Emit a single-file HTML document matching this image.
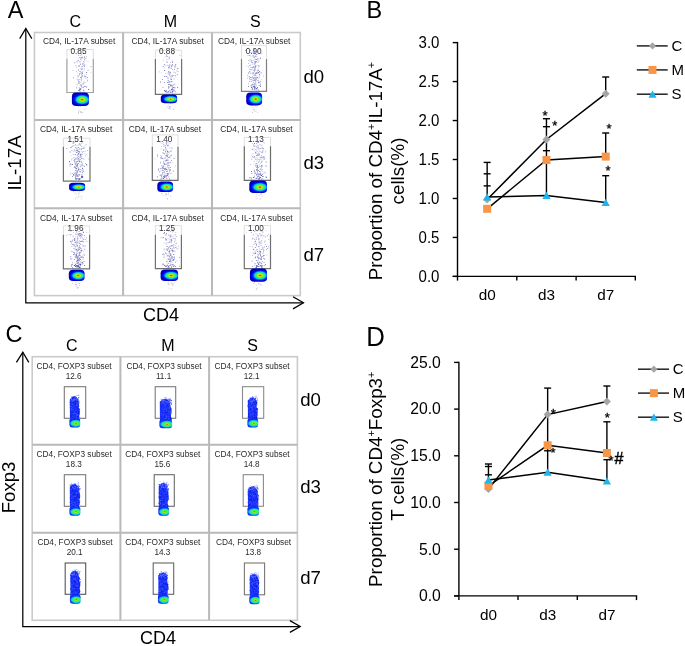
<!DOCTYPE html>
<html><head><meta charset="utf-8"><style>
html,body{margin:0;padding:0;background:#fff;width:685px;height:646px;overflow:hidden;}
svg{display:block;font-family:"Liberation Sans", sans-serif;will-change:transform;}
</style></head><body>
<svg width="685" height="646" viewBox="0 0 685 646"><defs>
<radialGradient id="blobA" cx="0.6" cy="0.52" r="0.56" gradientTransform="translate(0.6 0.52) scale(1 0.82) translate(-0.6 -0.52)">
<stop offset="0" stop-color="#d83000"/>
<stop offset="0.08" stop-color="#e85800"/>
<stop offset="0.17" stop-color="#d8d800"/>
<stop offset="0.3" stop-color="#90f030"/>
<stop offset="0.43" stop-color="#30f060"/>
<stop offset="0.55" stop-color="#10e0c8"/>
<stop offset="0.64" stop-color="#00a0ff"/>
<stop offset="0.73" stop-color="#0040ff"/>
<stop offset="0.83" stop-color="#0010f0"/>
<stop offset="1" stop-color="#0000c0"/>
</radialGradient>
<radialGradient id="blobC" cx="0.6" cy="0.55" r="0.6" gradientTransform="translate(0.6 0.55) scale(1 0.72) translate(-0.6 -0.55)">
<stop offset="0" stop-color="#c84810"/>
<stop offset="0.1" stop-color="#d88a10"/>
<stop offset="0.2" stop-color="#a8e020"/>
<stop offset="0.36" stop-color="#48f040"/>
<stop offset="0.55" stop-color="#30f070"/>
<stop offset="0.7" stop-color="#10d8d0"/>
<stop offset="0.82" stop-color="#1090ff"/>
<stop offset="1" stop-color="#1030f0"/>
</radialGradient>
<filter id="soft" x="-5%" y="-5%" width="110%" height="110%"><feGaussianBlur stdDeviation="0.35"/></filter>
</defs>
<text x="7.7" y="18" font-size="23.5" text-anchor="start" fill="#000" >A</text>
<text x="366.6" y="17.9" font-size="23.5" text-anchor="start" fill="#000" >B</text>
<text x="5.4" y="341.7" font-size="23.5" text-anchor="start" fill="#000" >C</text>
<text transform="translate(366.2,345.9) scale(1,1.065)" font-size="25.8">D</text>
<g font-family='"Liberation Sans", sans-serif'>
<rect x="34.4" y="32.5" width="265.9" height="263.1" fill="none" stroke="#cacaca" stroke-width="1.6"/>
<line x1="123.1" y1="32.5" x2="123.1" y2="295.6" stroke="#b9b9b9" stroke-width="2" />
<line x1="212" y1="32.5" x2="212" y2="295.6" stroke="#b9b9b9" stroke-width="2" />
<line x1="34.4" y1="120" x2="300.3" y2="120" stroke="#b9b9b9" stroke-width="2" />
<line x1="34.4" y1="208.3" x2="300.3" y2="208.3" stroke="#b9b9b9" stroke-width="2" />
<text x="42.9" y="44.4" font-size="8.35" text-anchor="start" fill="#2a2a2a" >CD4, IL-17A subset</text>
<path d="M66.9,58.7 V49.5 H93.3 V58.7" fill="none" stroke="#dedede" stroke-width="1"/>
<text x="78.5" y="54" font-size="8.2" text-anchor="middle" fill="#2a2a2a" >0.85</text>
<path d="M66.9,58.7 V92.5 H93.3 V58.7" fill="none" stroke="#a0a0a0" stroke-width="1.2"/>
<path d="M88.3 89.1h.8v.8h-.8zM79.0 89.2h.8v.8h-.8zM80.1 89.0h.8v.8h-.8z" fill="#2c2c94"/>
<path d="M83.8 68.4h.8v.8h-.8zM84.8 76.1h.8v.8h-.8zM80.6 57.5h.8v.8h-.8zM81.6 72.1h.8v.8h-.8zM73.2 77.5h.8v.8h-.8zM85.9 86.6h.8v.8h-.8zM77.8 79.6h.8v.8h-.8zM82.1 73.2h.8v.8h-.8zM78.5 82.5h.8v.8h-.8zM86.9 79.8h.8v.8h-.8zM78.3 54.8h.8v.8h-.8zM87.6 69.7h.8v.8h-.8zM81.8 57.1h.8v.8h-.8zM82.5 63.9h.8v.8h-.8zM84.0 53.0h.8v.8h-.8zM81.3 78.7h.8v.8h-.8zM78.6 65.6h.8v.8h-.8zM79.2 73.6h.8v.8h-.8zM81.3 75.8h.8v.8h-.8zM78.1 69.6h.8v.8h-.8zM83.0 89.7h.8v.8h-.8zM79.5 88.2h.8v.8h-.8zM78.3 90.1h.8v.8h-.8zM82.7 82.4h.8v.8h-.8zM79.2 90.4h.8v.8h-.8zM77.6 60.5h.8v.8h-.8zM78.5 90.1h.8v.8h-.8zM81.3 85.6h.8v.8h-.8zM84.4 75.6h.8v.8h-.8zM80.5 88.3h.8v.8h-.8zM86.9 76.9h.8v.8h-.8zM79.5 61.5h.8v.8h-.8zM76.2 87.4h.8v.8h-.8zM79.8 90.7h.8v.8h-.8zM81.8 66.3h.8v.8h-.8zM86.3 72.1h.8v.8h-.8zM80.2 77.3h.8v.8h-.8zM84.2 59.5h.8v.8h-.8zM83.4 83.5h.8v.8h-.8zM82.1 74.8h.8v.8h-.8zM83.9 65.6h.8v.8h-.8zM80.0 71.4h.8v.8h-.8zM83.6 90.5h.8v.8h-.8z" fill="#5656b0"/>
<path d="M79.6 56.9h.8v.8h-.8zM83.0 62.7h.8v.8h-.8zM84.4 57.0h.8v.8h-.8zM78.1 80.9h.8v.8h-.8zM79.9 84.6h.8v.8h-.8zM80.8 83.7h.8v.8h-.8zM78.8 87.2h.8v.8h-.8zM85.6 77.6h.8v.8h-.8zM84.1 86.1h.8v.8h-.8zM84.7 58.1h.8v.8h-.8zM76.0 66.7h.8v.8h-.8zM74.2 62.5h.8v.8h-.8zM75.6 64.9h.8v.8h-.8zM81.2 53.5h.8v.8h-.8zM77.2 75.4h.8v.8h-.8zM87.4 80.8h.8v.8h-.8zM82.9 87.1h.8v.8h-.8zM79.3 71.0h.8v.8h-.8zM80.9 69.1h.8v.8h-.8zM81.3 86.8h.8v.8h-.8zM82.3 76.0h.8v.8h-.8zM80.6 85.4h.8v.8h-.8zM80.0 64.3h.8v.8h-.8zM84.9 86.1h.8v.8h-.8zM81.1 80.0h.8v.8h-.8zM78.7 83.2h.8v.8h-.8zM83.5 65.2h.8v.8h-.8zM81.6 69.5h.8v.8h-.8zM78.6 74.9h.8v.8h-.8zM74.5 62.3h.8v.8h-.8zM81.7 68.5h.8v.8h-.8zM81.0 76.7h.8v.8h-.8zM78.9 65.5h.8v.8h-.8zM76.6 83.9h.8v.8h-.8zM76.6 78.7h.8v.8h-.8zM80.6 73.1h.8v.8h-.8zM78.0 60.0h.8v.8h-.8zM84.4 64.3h.8v.8h-.8zM76.4 61.8h.8v.8h-.8zM82.6 63.3h.8v.8h-.8zM84.8 82.3h.8v.8h-.8zM81.3 54.5h.8v.8h-.8zM79.3 81.2h.8v.8h-.8zM83.6 57.4h.8v.8h-.8zM83.9 66.2h.8v.8h-.8zM81.8 56.5h.8v.8h-.8zM78.7 82.6h.8v.8h-.8zM82.5 71.0h.8v.8h-.8zM80.4 81.8h.8v.8h-.8zM81.8 87.0h.8v.8h-.8zM80.9 66.8h.8v.8h-.8zM84.0 61.7h.8v.8h-.8zM90.6 66.1h.8v.8h-.8zM80.6 67.9h.8v.8h-.8zM80.8 73.9h.8v.8h-.8zM80.3 63.5h.8v.8h-.8zM80.7 58.5h.8v.8h-.8zM84.2 56.0h.8v.8h-.8zM81.1 77.8h.8v.8h-.8zM75.9 70.9h.8v.8h-.8z" fill="#9494cc"/>
<path d="M79.2 79.2h.8v.8h-.8zM83.2 61.1h.8v.8h-.8zM78.2 75.7h.8v.8h-.8zM90.5 71.9h.8v.8h-.8zM79.6 61.4h.8v.8h-.8zM79.1 57.0h.8v.8h-.8zM80.4 70.7h.8v.8h-.8zM81.3 56.9h.8v.8h-.8zM80.8 60.4h.8v.8h-.8zM85.5 76.5h.8v.8h-.8zM72.4 70.1h.8v.8h-.8zM80.1 59.1h.8v.8h-.8zM83.2 86.3h.8v.8h-.8zM81.1 85.7h.8v.8h-.8zM84.9 76.3h.8v.8h-.8zM79.2 66.0h.8v.8h-.8zM81.8 68.6h.8v.8h-.8zM86.4 86.4h.8v.8h-.8zM80.1 55.2h.8v.8h-.8zM82.2 63.3h.8v.8h-.8zM81.0 68.7h.8v.8h-.8zM85.7 60.3h.8v.8h-.8zM87.7 61.2h.8v.8h-.8zM77.2 72.5h.8v.8h-.8zM78.9 65.9h.8v.8h-.8zM83.6 77.7h.8v.8h-.8zM81.2 53.5h.8v.8h-.8zM85.8 74.1h.8v.8h-.8zM80.8 57.7h.8v.8h-.8zM81.9 84.3h.8v.8h-.8zM79.5 79.1h.8v.8h-.8zM80.6 84.4h.8v.8h-.8zM80.6 59.3h.8v.8h-.8zM76.9 61.3h.8v.8h-.8zM86.0 57.7h.8v.8h-.8zM78.5 58.2h.8v.8h-.8zM77.8 76.7h.8v.8h-.8zM77.3 85.4h.8v.8h-.8zM83.7 81.2h.8v.8h-.8zM81.8 57.6h.8v.8h-.8zM81.5 65.8h.8v.8h-.8zM78.3 65.3h.8v.8h-.8zM77.9 83.2h.8v.8h-.8zM86.0 56.1h.8v.8h-.8zM78.2 112.8h.8v.8h-.8zM78.1 112.1h.8v.8h-.8zM78.1 106.1h.8v.8h-.8zM80.3 112.3h.8v.8h-.8zM82.0 112.0h.8v.8h-.8zM78.1 112.8h.8v.8h-.8zM80.1 110.9h.8v.8h-.8zM79.2 105.1h.8v.8h-.8zM80.0 106.0h.8v.8h-.8zM81.5 112.3h.8v.8h-.8zM78.6 109.8h.8v.8h-.8zM78.5 110.9h.8v.8h-.8zM84.6 109.2h.8v.8h-.8zM80.8 111.5h.8v.8h-.8z" fill="#b8b8d8"/>
<rect x="71.9" y="92.6" width="17" height="13.5" rx="4.2" ry="3.8" fill="url(#blobA)" filter="url(#soft)"/>
<text x="131.4" y="44.4" font-size="8.35" text-anchor="start" fill="#2a2a2a" >CD4, IL-17A subset</text>
<path d="M155.4,58.9 V50.2 H181.6 V58.9" fill="none" stroke="#dedede" stroke-width="1"/>
<text x="167" y="54" font-size="8.2" text-anchor="middle" fill="#2a2a2a" >0.88</text>
<path d="M155.4,58.9 V94.3 H181.6 V58.9" fill="none" stroke="#707070" stroke-width="1.2"/>
<path d="M168.4 91.3h.8v.8h-.8zM174.1 89.7h.8v.8h-.8zM170.2 91.8h.8v.8h-.8zM166.7 91.9h.8v.8h-.8zM168.5 91.6h.8v.8h-.8zM165.9 90.6h.8v.8h-.8zM174.8 91.4h.8v.8h-.8zM169.5 90.3h.8v.8h-.8zM164.3 90.2h.8v.8h-.8zM172.1 91.4h.8v.8h-.8z" fill="#2c2c94"/>
<path d="M164.2 76.3h.8v.8h-.8zM168.2 84.3h.8v.8h-.8zM170.9 81.2h.8v.8h-.8zM170.1 84.5h.8v.8h-.8zM170.5 78.6h.8v.8h-.8zM173.4 74.9h.8v.8h-.8zM171.9 89.4h.8v.8h-.8zM172.7 87.1h.8v.8h-.8zM169.3 74.4h.8v.8h-.8zM168.8 66.6h.8v.8h-.8zM170.9 89.1h.8v.8h-.8zM165.3 90.9h.8v.8h-.8zM177.4 68.1h.8v.8h-.8zM171.7 75.2h.8v.8h-.8zM160.1 81.6h.8v.8h-.8zM167.6 78.2h.8v.8h-.8zM176.9 74.3h.8v.8h-.8zM172.2 64.2h.8v.8h-.8zM164.5 76.3h.8v.8h-.8zM171.8 88.8h.8v.8h-.8zM162.2 79.2h.8v.8h-.8zM172.3 91.0h.8v.8h-.8zM168.7 80.9h.8v.8h-.8zM170.1 72.0h.8v.8h-.8zM165.4 91.5h.8v.8h-.8zM174.9 65.6h.8v.8h-.8zM164.3 70.1h.8v.8h-.8zM171.8 76.3h.8v.8h-.8zM177.3 87.1h.8v.8h-.8zM166.3 76.0h.8v.8h-.8zM171.4 65.0h.8v.8h-.8zM173.0 89.6h.8v.8h-.8zM175.2 63.9h.8v.8h-.8zM167.1 81.9h.8v.8h-.8zM168.2 71.5h.8v.8h-.8zM163.8 64.2h.8v.8h-.8zM170.1 85.3h.8v.8h-.8zM171.6 84.7h.8v.8h-.8zM167.6 91.5h.8v.8h-.8zM171.5 90.5h.8v.8h-.8zM167.9 79.9h.8v.8h-.8zM171.7 85.8h.8v.8h-.8zM169.3 64.4h.8v.8h-.8zM168.3 67.2h.8v.8h-.8zM164.3 81.9h.8v.8h-.8zM168.1 87.7h.8v.8h-.8zM173.3 84.4h.8v.8h-.8zM171.2 78.9h.8v.8h-.8zM172.0 92.5h.8v.8h-.8zM168.7 56.7h.8v.8h-.8zM170.7 92.0h.8v.8h-.8zM165.0 90.6h.8v.8h-.8zM172.5 91.1h.8v.8h-.8zM171.7 81.5h.8v.8h-.8zM166.3 54.8h.8v.8h-.8zM168.1 86.3h.8v.8h-.8zM172.2 88.5h.8v.8h-.8zM169.2 84.0h.8v.8h-.8zM175.3 75.5h.8v.8h-.8zM164.2 90.5h.8v.8h-.8zM173.7 87.2h.8v.8h-.8zM172.4 87.4h.8v.8h-.8z" fill="#5656b0"/>
<path d="M168.6 58.6h.8v.8h-.8zM166.3 75.9h.8v.8h-.8zM171.7 85.3h.8v.8h-.8zM169.3 82.1h.8v.8h-.8zM168.2 82.3h.8v.8h-.8zM179.6 55.2h.8v.8h-.8zM167.4 64.9h.8v.8h-.8zM162.6 87.1h.8v.8h-.8zM169.5 75.7h.8v.8h-.8zM174.5 87.7h.8v.8h-.8zM158.8 71.4h.8v.8h-.8zM177.6 71.0h.8v.8h-.8zM174.3 83.7h.8v.8h-.8zM170.9 84.9h.8v.8h-.8zM168.5 68.5h.8v.8h-.8zM171.1 66.1h.8v.8h-.8zM173.6 78.6h.8v.8h-.8zM165.3 73.0h.8v.8h-.8zM168.6 71.6h.8v.8h-.8zM163.8 67.5h.8v.8h-.8zM167.0 56.2h.8v.8h-.8zM169.6 81.3h.8v.8h-.8zM174.1 65.9h.8v.8h-.8zM166.5 61.2h.8v.8h-.8zM167.6 77.0h.8v.8h-.8zM174.3 68.7h.8v.8h-.8zM163.0 66.0h.8v.8h-.8zM166.4 76.1h.8v.8h-.8zM171.6 86.3h.8v.8h-.8zM172.2 62.1h.8v.8h-.8zM168.9 57.8h.8v.8h-.8zM171.2 67.8h.8v.8h-.8zM168.3 87.1h.8v.8h-.8zM168.6 67.1h.8v.8h-.8zM162.4 65.9h.8v.8h-.8zM168.2 73.6h.8v.8h-.8zM174.5 87.1h.8v.8h-.8zM166.1 56.3h.8v.8h-.8zM162.9 59.7h.8v.8h-.8zM169.3 65.9h.8v.8h-.8zM173.6 72.3h.8v.8h-.8zM169.1 86.7h.8v.8h-.8zM172.4 65.2h.8v.8h-.8zM170.1 61.9h.8v.8h-.8zM174.2 69.1h.8v.8h-.8zM168.9 72.3h.8v.8h-.8zM170.9 81.0h.8v.8h-.8zM170.4 72.9h.8v.8h-.8zM172.3 68.9h.8v.8h-.8zM168.3 70.9h.8v.8h-.8zM169.6 74.7h.8v.8h-.8zM166.5 59.3h.8v.8h-.8zM166.6 62.1h.8v.8h-.8zM170.7 76.9h.8v.8h-.8zM165.5 65.3h.8v.8h-.8zM172.1 61.0h.8v.8h-.8z" fill="#9494cc"/>
<path d="M174.5 84.4h.8v.8h-.8zM168.4 64.9h.8v.8h-.8zM168.8 65.8h.8v.8h-.8zM167.3 61.8h.8v.8h-.8zM172.3 53.9h.8v.8h-.8zM170.9 67.6h.8v.8h-.8zM169.8 68.0h.8v.8h-.8zM173.6 71.5h.8v.8h-.8zM170.7 64.8h.8v.8h-.8zM170.7 76.1h.8v.8h-.8zM160.8 72.5h.8v.8h-.8zM175.3 72.2h.8v.8h-.8zM172.0 60.3h.8v.8h-.8zM164.7 56.7h.8v.8h-.8zM169.0 73.2h.8v.8h-.8zM169.5 65.4h.8v.8h-.8zM164.3 65.5h.8v.8h-.8zM175.9 70.8h.8v.8h-.8zM169.7 71.5h.8v.8h-.8zM175.0 72.9h.8v.8h-.8zM165.7 54.2h.8v.8h-.8zM176.9 69.6h.8v.8h-.8zM166.7 80.4h.8v.8h-.8zM169.3 66.5h.8v.8h-.8zM171.4 87.7h.8v.8h-.8zM174.7 67.0h.8v.8h-.8zM172.8 54.3h.8v.8h-.8zM167.0 72.7h.8v.8h-.8zM169.7 81.1h.8v.8h-.8zM168.6 86.6h.8v.8h-.8zM175.7 64.4h.8v.8h-.8zM169.8 85.9h.8v.8h-.8zM169.8 108.5h.8v.8h-.8zM168.9 107.1h.8v.8h-.8zM173.3 108.8h.8v.8h-.8zM170.2 103.1h.8v.8h-.8zM166.3 107.4h.8v.8h-.8zM168.3 104.8h.8v.8h-.8zM167.2 105.8h.8v.8h-.8zM168.1 107.9h.8v.8h-.8zM168.8 106.0h.8v.8h-.8zM169.4 107.6h.8v.8h-.8zM169.6 106.4h.8v.8h-.8zM173.0 109.0h.8v.8h-.8zM170.3 106.1h.8v.8h-.8zM171.5 103.0h.8v.8h-.8z" fill="#b8b8d8"/>
<rect x="160.8" y="94.5" width="16.3" height="8.8" rx="4.2" ry="2.93" fill="url(#blobA)" filter="url(#soft)"/>
<text x="218" y="44.4" font-size="8.35" text-anchor="start" fill="#2a2a2a" >CD4, IL-17A subset</text>
<path d="M241.5,58.9 V45.3 H266.5 V58.9" fill="none" stroke="#dedede" stroke-width="1"/>
<text x="253.6" y="54" font-size="8.2" text-anchor="middle" fill="#2a2a2a" >0.90</text>
<path d="M241.5,58.9 V91.4 H266.5 V58.9" fill="none" stroke="#808080" stroke-width="1.2"/>
<path d="M248.2 85.9h.8v.8h-.8zM260.0 86.3h.8v.8h-.8zM253.7 86.1h.8v.8h-.8zM252.0 88.6h.8v.8h-.8zM254.0 86.5h.8v.8h-.8zM253.5 86.1h.8v.8h-.8z" fill="#2c2c94"/>
<path d="M255.1 72.8h.8v.8h-.8zM257.3 72.8h.8v.8h-.8zM248.3 72.6h.8v.8h-.8zM257.2 87.1h.8v.8h-.8zM258.2 81.7h.8v.8h-.8zM260.1 83.7h.8v.8h-.8zM256.6 72.5h.8v.8h-.8zM253.3 72.6h.8v.8h-.8zM252.8 77.4h.8v.8h-.8zM249.7 77.2h.8v.8h-.8zM257.8 89.6h.8v.8h-.8zM254.8 67.0h.8v.8h-.8zM250.9 81.2h.8v.8h-.8zM255.4 65.0h.8v.8h-.8zM255.9 72.9h.8v.8h-.8zM253.4 78.0h.8v.8h-.8zM255.0 74.7h.8v.8h-.8zM245.0 50.0h.8v.8h-.8zM250.4 72.7h.8v.8h-.8zM255.8 61.3h.8v.8h-.8zM259.8 81.3h.8v.8h-.8zM253.4 85.9h.8v.8h-.8zM253.7 70.0h.8v.8h-.8zM256.4 54.1h.8v.8h-.8zM255.0 66.3h.8v.8h-.8zM253.7 87.1h.8v.8h-.8zM255.0 55.7h.8v.8h-.8zM256.6 77.4h.8v.8h-.8zM249.4 55.3h.8v.8h-.8zM251.6 88.7h.8v.8h-.8zM250.7 85.3h.8v.8h-.8zM254.5 83.9h.8v.8h-.8zM255.5 79.6h.8v.8h-.8zM251.4 86.6h.8v.8h-.8zM260.3 58.0h.8v.8h-.8zM252.3 62.3h.8v.8h-.8zM258.4 65.7h.8v.8h-.8zM254.3 89.1h.8v.8h-.8zM255.8 89.4h.8v.8h-.8zM255.5 55.7h.8v.8h-.8zM257.3 77.2h.8v.8h-.8zM254.0 87.9h.8v.8h-.8zM252.6 66.8h.8v.8h-.8zM256.6 87.9h.8v.8h-.8zM249.4 71.2h.8v.8h-.8zM259.1 74.2h.8v.8h-.8zM258.7 84.9h.8v.8h-.8zM254.4 67.6h.8v.8h-.8zM254.8 86.8h.8v.8h-.8zM252.6 77.3h.8v.8h-.8zM252.7 55.4h.8v.8h-.8zM255.0 61.6h.8v.8h-.8zM251.6 86.7h.8v.8h-.8zM257.8 70.1h.8v.8h-.8zM251.2 61.7h.8v.8h-.8zM258.1 72.1h.8v.8h-.8zM260.8 72.5h.8v.8h-.8zM254.1 49.5h.8v.8h-.8zM251.0 87.3h.8v.8h-.8zM251.6 86.9h.8v.8h-.8zM250.8 79.0h.8v.8h-.8zM249.0 78.5h.8v.8h-.8zM256.2 59.3h.8v.8h-.8zM258.5 82.3h.8v.8h-.8zM253.9 51.9h.8v.8h-.8zM250.6 69.0h.8v.8h-.8zM254.9 77.7h.8v.8h-.8zM254.1 56.8h.8v.8h-.8zM254.7 80.4h.8v.8h-.8zM257.7 80.2h.8v.8h-.8zM253.4 80.3h.8v.8h-.8zM250.0 50.2h.8v.8h-.8zM257.4 58.6h.8v.8h-.8zM255.9 88.1h.8v.8h-.8zM248.7 76.2h.8v.8h-.8zM254.4 83.4h.8v.8h-.8zM254.9 87.6h.8v.8h-.8zM259.3 71.1h.8v.8h-.8z" fill="#5656b0"/>
<path d="M252.9 56.8h.8v.8h-.8zM259.2 77.4h.8v.8h-.8zM260.6 53.4h.8v.8h-.8zM254.9 58.7h.8v.8h-.8zM259.3 75.6h.8v.8h-.8zM254.5 76.7h.8v.8h-.8zM253.2 49.2h.8v.8h-.8zM255.9 61.2h.8v.8h-.8zM255.8 75.7h.8v.8h-.8zM255.5 62.1h.8v.8h-.8zM255.6 85.6h.8v.8h-.8zM254.4 68.6h.8v.8h-.8zM247.0 77.8h.8v.8h-.8zM250.3 52.2h.8v.8h-.8zM251.6 60.1h.8v.8h-.8zM249.1 64.9h.8v.8h-.8zM249.2 81.3h.8v.8h-.8zM254.0 80.1h.8v.8h-.8zM258.5 82.8h.8v.8h-.8zM248.3 63.0h.8v.8h-.8zM256.6 77.2h.8v.8h-.8zM249.5 60.7h.8v.8h-.8zM255.1 79.4h.8v.8h-.8zM254.3 79.6h.8v.8h-.8zM255.2 81.7h.8v.8h-.8zM257.9 50.7h.8v.8h-.8zM253.7 63.8h.8v.8h-.8zM253.9 84.9h.8v.8h-.8zM253.8 70.0h.8v.8h-.8zM253.2 66.4h.8v.8h-.8zM254.7 59.4h.8v.8h-.8zM251.9 63.8h.8v.8h-.8zM252.9 79.7h.8v.8h-.8zM249.5 68.6h.8v.8h-.8zM258.6 60.4h.8v.8h-.8zM254.4 61.6h.8v.8h-.8zM254.6 73.6h.8v.8h-.8zM248.3 66.5h.8v.8h-.8zM249.6 58.7h.8v.8h-.8zM253.0 82.3h.8v.8h-.8zM252.6 55.4h.8v.8h-.8zM248.4 60.0h.8v.8h-.8zM249.8 79.5h.8v.8h-.8zM254.4 57.4h.8v.8h-.8zM254.0 68.7h.8v.8h-.8zM247.0 75.2h.8v.8h-.8zM259.6 82.3h.8v.8h-.8zM252.5 85.0h.8v.8h-.8zM249.6 65.0h.8v.8h-.8zM249.6 69.5h.8v.8h-.8zM250.6 59.4h.8v.8h-.8zM252.5 72.9h.8v.8h-.8zM254.0 63.4h.8v.8h-.8zM254.8 69.4h.8v.8h-.8zM255.7 61.0h.8v.8h-.8zM252.1 83.5h.8v.8h-.8zM254.6 63.7h.8v.8h-.8zM257.5 69.7h.8v.8h-.8zM260.3 50.0h.8v.8h-.8zM255.6 82.8h.8v.8h-.8zM252.5 73.6h.8v.8h-.8zM255.9 72.1h.8v.8h-.8zM254.1 71.2h.8v.8h-.8zM256.2 78.5h.8v.8h-.8zM253.9 77.5h.8v.8h-.8zM258.9 65.7h.8v.8h-.8zM252.1 67.2h.8v.8h-.8zM254.8 73.4h.8v.8h-.8zM252.0 69.4h.8v.8h-.8zM252.9 84.1h.8v.8h-.8zM259.5 72.6h.8v.8h-.8zM253.6 65.8h.8v.8h-.8zM250.8 76.7h.8v.8h-.8zM252.1 84.0h.8v.8h-.8zM254.3 74.7h.8v.8h-.8zM257.6 65.3h.8v.8h-.8zM255.5 77.6h.8v.8h-.8zM248.1 83.5h.8v.8h-.8zM250.2 50.2h.8v.8h-.8zM263.3 75.8h.8v.8h-.8zM250.2 77.2h.8v.8h-.8zM251.2 67.3h.8v.8h-.8zM253.6 70.1h.8v.8h-.8zM252.6 67.1h.8v.8h-.8zM251.6 77.2h.8v.8h-.8zM257.1 69.7h.8v.8h-.8zM254.7 69.4h.8v.8h-.8zM254.5 62.6h.8v.8h-.8z" fill="#9494cc"/>
<path d="M259.8 85.1h.8v.8h-.8zM255.3 80.8h.8v.8h-.8zM252.3 72.1h.8v.8h-.8zM255.5 51.7h.8v.8h-.8zM256.2 79.0h.8v.8h-.8zM250.6 85.7h.8v.8h-.8zM252.7 55.6h.8v.8h-.8zM254.3 83.9h.8v.8h-.8zM259.8 57.1h.8v.8h-.8zM257.5 62.3h.8v.8h-.8zM253.6 53.0h.8v.8h-.8zM259.9 52.5h.8v.8h-.8zM249.8 49.5h.8v.8h-.8zM257.8 61.6h.8v.8h-.8zM255.2 79.5h.8v.8h-.8zM255.0 62.8h.8v.8h-.8zM258.2 78.5h.8v.8h-.8zM254.0 79.6h.8v.8h-.8zM253.3 55.7h.8v.8h-.8zM253.1 67.1h.8v.8h-.8zM255.4 83.9h.8v.8h-.8zM255.9 84.8h.8v.8h-.8zM254.6 81.9h.8v.8h-.8zM249.6 49.3h.8v.8h-.8zM255.9 66.4h.8v.8h-.8zM254.5 54.3h.8v.8h-.8zM257.6 58.1h.8v.8h-.8zM252.5 59.8h.8v.8h-.8zM257.9 68.5h.8v.8h-.8zM255.2 69.4h.8v.8h-.8zM248.3 55.2h.8v.8h-.8zM255.7 78.8h.8v.8h-.8zM249.4 72.0h.8v.8h-.8zM252.1 51.8h.8v.8h-.8zM250.0 55.4h.8v.8h-.8zM251.2 84.2h.8v.8h-.8zM253.9 60.6h.8v.8h-.8zM254.6 68.2h.8v.8h-.8zM254.2 66.6h.8v.8h-.8zM250.7 56.8h.8v.8h-.8zM251.2 61.3h.8v.8h-.8zM250.1 66.7h.8v.8h-.8zM258.9 49.2h.8v.8h-.8zM249.5 78.3h.8v.8h-.8zM261.6 53.0h.8v.8h-.8zM258.6 58.7h.8v.8h-.8zM251.6 78.6h.8v.8h-.8zM254.7 73.9h.8v.8h-.8zM253.8 79.1h.8v.8h-.8zM252.3 80.3h.8v.8h-.8zM249.9 64.5h.8v.8h-.8zM251.4 51.9h.8v.8h-.8zM256.8 49.4h.8v.8h-.8zM256.1 56.4h.8v.8h-.8zM261.1 52.5h.8v.8h-.8zM256.9 70.9h.8v.8h-.8zM248.9 64.9h.8v.8h-.8zM254.1 74.9h.8v.8h-.8zM255.6 79.8h.8v.8h-.8zM246.4 65.8h.8v.8h-.8zM252.3 76.2h.8v.8h-.8zM255.2 83.7h.8v.8h-.8zM253.8 83.6h.8v.8h-.8zM253.4 75.1h.8v.8h-.8zM260.8 79.2h.8v.8h-.8zM258.5 66.4h.8v.8h-.8zM257.0 60.2h.8v.8h-.8zM247.3 54.7h.8v.8h-.8zM254.8 111.0h.8v.8h-.8zM257.3 112.2h.8v.8h-.8zM252.0 112.1h.8v.8h-.8zM254.1 109.4h.8v.8h-.8zM254.9 105.8h.8v.8h-.8zM255.7 110.4h.8v.8h-.8zM252.4 107.4h.8v.8h-.8zM253.6 108.8h.8v.8h-.8zM261.7 105.4h.8v.8h-.8zM256.5 107.5h.8v.8h-.8zM251.8 105.1h.8v.8h-.8zM251.6 105.5h.8v.8h-.8zM253.0 109.5h.8v.8h-.8zM256.7 104.3h.8v.8h-.8z" fill="#b8b8d8"/>
<rect x="246.2" y="92.4" width="15.9" height="13" rx="4.2" ry="3.8" fill="url(#blobA)" filter="url(#soft)"/>
<text x="39.9" y="132.3" font-size="8.35" text-anchor="start" fill="#2a2a2a" >CD4, IL-17A subset</text>
<path d="M63.4,146.8 V138.2 H90 V146.8" fill="none" stroke="#dedede" stroke-width="1"/>
<text x="75.5" y="142.3" font-size="8.2" text-anchor="middle" fill="#2a2a2a" >1.51</text>
<path d="M63.4,146.8 V181.1 H90 V146.8" fill="none" stroke="#707070" stroke-width="1.2"/>
<path d="M74.9 176.8h.8v.8h-.8zM79.5 178.6h.8v.8h-.8zM82.3 176.6h.8v.8h-.8zM82.1 176.4h.8v.8h-.8zM79.1 179.0h.8v.8h-.8zM81.8 176.1h.8v.8h-.8zM81.7 177.0h.8v.8h-.8zM76.4 178.7h.8v.8h-.8z" fill="#2c2c94"/>
<path d="M77.0 165.8h.8v.8h-.8zM79.9 154.4h.8v.8h-.8zM78.0 146.9h.8v.8h-.8zM82.2 168.2h.8v.8h-.8zM76.0 161.6h.8v.8h-.8zM78.5 168.4h.8v.8h-.8zM80.5 154.5h.8v.8h-.8zM80.5 153.7h.8v.8h-.8zM82.7 169.5h.8v.8h-.8zM74.4 161.8h.8v.8h-.8zM73.0 174.1h.8v.8h-.8zM78.2 153.1h.8v.8h-.8zM78.3 169.2h.8v.8h-.8zM76.5 173.6h.8v.8h-.8zM80.4 165.9h.8v.8h-.8zM78.2 151.3h.8v.8h-.8zM71.1 146.7h.8v.8h-.8zM74.7 167.2h.8v.8h-.8zM75.5 173.8h.8v.8h-.8zM83.0 170.9h.8v.8h-.8zM78.1 175.7h.8v.8h-.8zM79.2 151.6h.8v.8h-.8zM86.4 164.8h.8v.8h-.8zM78.7 151.4h.8v.8h-.8zM77.8 154.2h.8v.8h-.8zM76.7 170.2h.8v.8h-.8zM74.9 170.3h.8v.8h-.8zM77.2 175.6h.8v.8h-.8zM80.2 155.4h.8v.8h-.8zM71.5 149.9h.8v.8h-.8zM76.1 172.7h.8v.8h-.8zM79.5 178.3h.8v.8h-.8zM76.4 168.0h.8v.8h-.8zM79.3 143.4h.8v.8h-.8zM78.6 178.7h.8v.8h-.8zM78.4 169.5h.8v.8h-.8zM81.7 164.9h.8v.8h-.8zM76.8 178.1h.8v.8h-.8zM75.0 178.3h.8v.8h-.8zM77.2 164.6h.8v.8h-.8zM77.1 150.4h.8v.8h-.8zM76.4 175.6h.8v.8h-.8zM79.9 170.9h.8v.8h-.8zM75.3 163.5h.8v.8h-.8zM83.9 166.3h.8v.8h-.8zM78.3 178.3h.8v.8h-.8zM81.6 142.7h.8v.8h-.8zM72.1 164.1h.8v.8h-.8zM75.9 178.5h.8v.8h-.8zM68.9 161.4h.8v.8h-.8zM86.2 163.9h.8v.8h-.8zM75.3 176.4h.8v.8h-.8zM72.0 176.2h.8v.8h-.8zM81.9 151.7h.8v.8h-.8zM75.5 168.1h.8v.8h-.8zM73.4 174.7h.8v.8h-.8zM81.1 148.7h.8v.8h-.8zM83.0 147.7h.8v.8h-.8zM72.4 145.8h.8v.8h-.8zM75.1 172.5h.8v.8h-.8zM74.7 161.7h.8v.8h-.8zM78.1 162.9h.8v.8h-.8zM74.8 158.4h.8v.8h-.8zM81.7 164.6h.8v.8h-.8zM76.8 151.8h.8v.8h-.8zM79.8 169.0h.8v.8h-.8zM76.1 174.5h.8v.8h-.8zM80.7 161.5h.8v.8h-.8zM76.8 163.6h.8v.8h-.8zM81.2 161.8h.8v.8h-.8zM81.0 176.5h.8v.8h-.8zM81.7 175.7h.8v.8h-.8zM76.1 165.8h.8v.8h-.8zM81.3 176.0h.8v.8h-.8zM78.2 169.0h.8v.8h-.8zM73.3 174.9h.8v.8h-.8zM79.8 144.6h.8v.8h-.8zM75.2 144.5h.8v.8h-.8zM81.3 158.0h.8v.8h-.8zM77.8 174.5h.8v.8h-.8zM81.7 171.8h.8v.8h-.8zM81.4 177.5h.8v.8h-.8zM69.2 160.9h.8v.8h-.8zM76.8 172.2h.8v.8h-.8zM75.2 178.7h.8v.8h-.8zM77.4 165.0h.8v.8h-.8zM69.7 164.0h.8v.8h-.8zM76.1 152.0h.8v.8h-.8zM78.1 158.5h.8v.8h-.8zM78.4 179.4h.8v.8h-.8zM79.1 161.1h.8v.8h-.8zM81.0 177.1h.8v.8h-.8zM81.9 167.8h.8v.8h-.8zM75.2 154.0h.8v.8h-.8zM78.7 158.8h.8v.8h-.8zM75.8 150.3h.8v.8h-.8zM81.6 169.8h.8v.8h-.8zM78.9 161.5h.8v.8h-.8zM77.1 161.3h.8v.8h-.8z" fill="#5656b0"/>
<path d="M85.6 144.2h.8v.8h-.8zM70.4 172.7h.8v.8h-.8zM78.6 154.5h.8v.8h-.8zM77.3 154.4h.8v.8h-.8zM73.9 173.0h.8v.8h-.8zM76.1 169.4h.8v.8h-.8zM82.5 148.0h.8v.8h-.8zM74.2 149.6h.8v.8h-.8zM84.4 147.6h.8v.8h-.8zM76.7 154.9h.8v.8h-.8zM76.4 150.3h.8v.8h-.8zM84.8 150.8h.8v.8h-.8zM81.6 154.5h.8v.8h-.8zM76.6 147.6h.8v.8h-.8zM78.9 174.4h.8v.8h-.8zM69.5 151.6h.8v.8h-.8zM77.5 167.3h.8v.8h-.8zM76.3 171.3h.8v.8h-.8zM85.1 163.2h.8v.8h-.8zM74.4 158.9h.8v.8h-.8zM72.9 142.2h.8v.8h-.8zM79.3 173.9h.8v.8h-.8zM84.4 145.8h.8v.8h-.8zM71.2 163.9h.8v.8h-.8zM73.0 143.2h.8v.8h-.8zM76.4 163.2h.8v.8h-.8zM71.3 159.5h.8v.8h-.8zM73.5 145.3h.8v.8h-.8zM80.8 164.5h.8v.8h-.8zM75.2 164.2h.8v.8h-.8zM80.7 148.7h.8v.8h-.8zM79.6 148.8h.8v.8h-.8zM79.7 155.7h.8v.8h-.8zM70.0 147.1h.8v.8h-.8zM75.5 165.9h.8v.8h-.8zM76.3 152.2h.8v.8h-.8zM73.7 167.3h.8v.8h-.8zM77.5 156.6h.8v.8h-.8zM80.0 159.3h.8v.8h-.8zM72.4 142.8h.8v.8h-.8zM82.9 165.4h.8v.8h-.8zM77.9 161.3h.8v.8h-.8zM87.2 150.2h.8v.8h-.8zM73.5 174.1h.8v.8h-.8zM77.2 171.4h.8v.8h-.8zM72.0 172.9h.8v.8h-.8zM82.1 172.3h.8v.8h-.8zM81.9 163.4h.8v.8h-.8zM74.7 167.1h.8v.8h-.8zM74.0 159.6h.8v.8h-.8zM78.3 149.8h.8v.8h-.8zM69.7 165.7h.8v.8h-.8zM76.8 158.4h.8v.8h-.8zM82.6 158.1h.8v.8h-.8zM75.5 147.7h.8v.8h-.8zM76.2 150.3h.8v.8h-.8zM73.9 142.1h.8v.8h-.8zM74.7 163.4h.8v.8h-.8zM74.0 166.0h.8v.8h-.8zM83.0 150.9h.8v.8h-.8zM81.8 147.7h.8v.8h-.8zM74.4 161.3h.8v.8h-.8zM72.7 153.9h.8v.8h-.8zM78.2 158.1h.8v.8h-.8zM76.9 150.3h.8v.8h-.8zM77.5 158.7h.8v.8h-.8zM74.7 163.9h.8v.8h-.8zM76.5 157.0h.8v.8h-.8zM75.9 158.5h.8v.8h-.8zM80.4 156.0h.8v.8h-.8zM74.4 160.4h.8v.8h-.8zM78.9 171.3h.8v.8h-.8zM78.0 156.3h.8v.8h-.8zM81.6 174.6h.8v.8h-.8zM77.3 170.7h.8v.8h-.8zM74.9 175.1h.8v.8h-.8zM85.1 155.4h.8v.8h-.8zM79.6 171.4h.8v.8h-.8zM78.3 170.3h.8v.8h-.8zM78.7 160.3h.8v.8h-.8zM81.9 153.7h.8v.8h-.8zM76.2 165.1h.8v.8h-.8zM74.8 150.8h.8v.8h-.8zM76.5 148.4h.8v.8h-.8zM81.1 145.7h.8v.8h-.8zM73.5 157.1h.8v.8h-.8zM75.1 146.9h.8v.8h-.8zM66.4 148.1h.8v.8h-.8zM78.6 143.8h.8v.8h-.8zM70.0 151.6h.8v.8h-.8zM79.1 174.8h.8v.8h-.8zM76.5 174.4h.8v.8h-.8zM80.2 157.2h.8v.8h-.8zM83.7 158.8h.8v.8h-.8zM75.2 165.8h.8v.8h-.8zM70.1 163.3h.8v.8h-.8z" fill="#9494cc"/>
<path d="M80.8 174.0h.8v.8h-.8zM80.0 165.4h.8v.8h-.8zM76.0 166.8h.8v.8h-.8zM77.3 172.0h.8v.8h-.8zM77.9 144.4h.8v.8h-.8zM84.5 153.0h.8v.8h-.8zM75.7 170.6h.8v.8h-.8zM78.9 156.9h.8v.8h-.8zM76.3 145.5h.8v.8h-.8zM88.0 158.6h.8v.8h-.8zM79.4 174.7h.8v.8h-.8zM76.9 148.7h.8v.8h-.8zM75.0 159.2h.8v.8h-.8zM79.8 166.6h.8v.8h-.8zM75.1 174.2h.8v.8h-.8zM80.7 159.7h.8v.8h-.8zM79.7 161.2h.8v.8h-.8zM82.4 173.5h.8v.8h-.8zM70.0 173.7h.8v.8h-.8zM80.5 155.6h.8v.8h-.8zM79.0 148.1h.8v.8h-.8zM75.1 158.2h.8v.8h-.8zM76.4 172.9h.8v.8h-.8zM76.3 173.0h.8v.8h-.8zM81.1 174.8h.8v.8h-.8zM77.5 164.8h.8v.8h-.8zM73.0 159.9h.8v.8h-.8zM69.2 164.5h.8v.8h-.8zM72.9 150.9h.8v.8h-.8zM74.9 167.9h.8v.8h-.8zM78.1 160.3h.8v.8h-.8zM74.6 154.8h.8v.8h-.8zM79.5 164.2h.8v.8h-.8zM81.6 145.4h.8v.8h-.8zM85.9 154.2h.8v.8h-.8zM79.7 156.7h.8v.8h-.8zM76.0 173.9h.8v.8h-.8zM81.9 163.3h.8v.8h-.8zM81.2 156.5h.8v.8h-.8zM79.1 160.0h.8v.8h-.8zM71.7 158.2h.8v.8h-.8zM79.8 159.1h.8v.8h-.8zM76.6 159.4h.8v.8h-.8zM81.0 151.2h.8v.8h-.8zM78.8 148.9h.8v.8h-.8zM70.6 155.5h.8v.8h-.8zM77.2 149.2h.8v.8h-.8zM78.1 167.8h.8v.8h-.8zM77.5 145.0h.8v.8h-.8zM79.3 152.6h.8v.8h-.8zM80.0 171.7h.8v.8h-.8zM72.4 145.4h.8v.8h-.8zM81.2 156.6h.8v.8h-.8zM80.4 156.1h.8v.8h-.8zM74.1 149.6h.8v.8h-.8zM73.6 172.3h.8v.8h-.8zM75.5 174.0h.8v.8h-.8zM81.6 196.2h.8v.8h-.8zM77.5 197.4h.8v.8h-.8zM75.8 196.8h.8v.8h-.8zM78.2 195.7h.8v.8h-.8zM75.6 194.3h.8v.8h-.8zM78.4 193.6h.8v.8h-.8zM79.6 195.7h.8v.8h-.8zM73.2 191.2h.8v.8h-.8zM74.7 192.4h.8v.8h-.8zM78.4 192.8h.8v.8h-.8zM79.1 191.5h.8v.8h-.8zM78.4 193.8h.8v.8h-.8zM81.1 198.4h.8v.8h-.8zM75.0 198.5h.8v.8h-.8z" fill="#b8b8d8"/>
<rect x="69.1" y="182.8" width="16" height="8.2" rx="4.2" ry="2.73" fill="url(#blobA)" filter="url(#soft)"/>
<text x="128.7" y="132.3" font-size="8.35" text-anchor="start" fill="#2a2a2a" >CD4, IL-17A subset</text>
<path d="M152.3,146.8 V134.9 H178 V146.8" fill="none" stroke="#dedede" stroke-width="1"/>
<text x="164.3" y="142.3" font-size="8.2" text-anchor="middle" fill="#2a2a2a" >1.40</text>
<path d="M152.3,146.8 V180.4 H178 V146.8" fill="none" stroke="#6a6a6a" stroke-width="1.2"/>
<path d="M161.5 177.7h.8v.8h-.8zM164.6 175.6h.8v.8h-.8zM157.1 176.5h.8v.8h-.8zM164.3 176.9h.8v.8h-.8zM163.2 178.2h.8v.8h-.8z" fill="#2c2c94"/>
<path d="M161.9 167.0h.8v.8h-.8zM166.2 155.6h.8v.8h-.8zM164.2 164.0h.8v.8h-.8zM166.4 175.3h.8v.8h-.8zM167.5 145.4h.8v.8h-.8zM163.5 162.8h.8v.8h-.8zM168.6 164.9h.8v.8h-.8zM164.2 163.5h.8v.8h-.8zM160.6 178.6h.8v.8h-.8zM167.4 144.9h.8v.8h-.8zM162.8 177.6h.8v.8h-.8zM169.1 171.4h.8v.8h-.8zM160.9 175.2h.8v.8h-.8zM161.2 176.2h.8v.8h-.8zM169.3 169.6h.8v.8h-.8zM164.1 153.4h.8v.8h-.8zM168.4 168.5h.8v.8h-.8zM157.1 155.6h.8v.8h-.8zM169.9 161.7h.8v.8h-.8zM162.6 168.1h.8v.8h-.8zM167.7 173.8h.8v.8h-.8zM164.5 174.7h.8v.8h-.8zM167.5 164.9h.8v.8h-.8zM165.8 155.2h.8v.8h-.8zM166.6 160.1h.8v.8h-.8zM165.4 167.8h.8v.8h-.8zM169.3 178.6h.8v.8h-.8zM163.4 166.5h.8v.8h-.8zM164.4 176.9h.8v.8h-.8zM164.8 164.2h.8v.8h-.8zM158.2 169.8h.8v.8h-.8zM163.2 176.3h.8v.8h-.8zM165.8 169.0h.8v.8h-.8zM169.8 167.0h.8v.8h-.8zM169.8 170.0h.8v.8h-.8zM166.1 176.4h.8v.8h-.8zM165.7 160.3h.8v.8h-.8zM167.3 155.0h.8v.8h-.8zM166.5 171.2h.8v.8h-.8zM162.8 165.4h.8v.8h-.8zM171.2 159.9h.8v.8h-.8zM167.2 162.5h.8v.8h-.8zM159.2 171.4h.8v.8h-.8zM172.9 170.8h.8v.8h-.8zM166.4 163.7h.8v.8h-.8zM166.5 178.3h.8v.8h-.8zM164.3 177.1h.8v.8h-.8zM166.9 156.3h.8v.8h-.8zM165.3 147.3h.8v.8h-.8zM164.0 168.2h.8v.8h-.8zM167.0 151.1h.8v.8h-.8zM160.3 161.8h.8v.8h-.8zM165.2 147.2h.8v.8h-.8zM164.2 176.2h.8v.8h-.8zM167.3 175.1h.8v.8h-.8zM166.8 152.7h.8v.8h-.8zM162.3 158.2h.8v.8h-.8zM173.6 158.2h.8v.8h-.8zM163.1 149.5h.8v.8h-.8zM167.0 173.7h.8v.8h-.8zM158.4 168.6h.8v.8h-.8zM161.8 170.3h.8v.8h-.8zM170.5 173.2h.8v.8h-.8zM166.8 172.9h.8v.8h-.8zM162.0 172.4h.8v.8h-.8zM166.7 170.9h.8v.8h-.8zM162.8 168.2h.8v.8h-.8zM165.8 142.5h.8v.8h-.8zM165.1 169.5h.8v.8h-.8zM168.3 173.4h.8v.8h-.8zM166.5 169.3h.8v.8h-.8zM168.4 176.4h.8v.8h-.8zM165.5 175.7h.8v.8h-.8zM160.7 157.9h.8v.8h-.8zM166.3 143.6h.8v.8h-.8zM159.9 174.7h.8v.8h-.8z" fill="#5656b0"/>
<path d="M161.4 168.0h.8v.8h-.8zM157.2 153.7h.8v.8h-.8zM165.0 168.1h.8v.8h-.8zM163.4 144.0h.8v.8h-.8zM162.6 158.5h.8v.8h-.8zM163.1 161.3h.8v.8h-.8zM164.5 145.5h.8v.8h-.8zM170.5 151.2h.8v.8h-.8zM163.1 139.8h.8v.8h-.8zM164.2 169.1h.8v.8h-.8zM165.4 168.0h.8v.8h-.8zM167.6 173.6h.8v.8h-.8zM165.7 148.9h.8v.8h-.8zM162.7 174.8h.8v.8h-.8zM166.1 160.5h.8v.8h-.8zM165.3 157.4h.8v.8h-.8zM162.6 152.7h.8v.8h-.8zM166.4 174.7h.8v.8h-.8zM163.0 170.2h.8v.8h-.8zM163.0 166.6h.8v.8h-.8zM169.7 142.7h.8v.8h-.8zM169.7 154.8h.8v.8h-.8zM165.2 151.5h.8v.8h-.8zM165.8 159.9h.8v.8h-.8zM167.7 153.9h.8v.8h-.8zM166.4 159.0h.8v.8h-.8zM167.8 152.1h.8v.8h-.8zM167.1 155.5h.8v.8h-.8zM167.0 174.8h.8v.8h-.8zM168.4 167.1h.8v.8h-.8zM164.9 168.1h.8v.8h-.8zM166.7 141.8h.8v.8h-.8zM160.5 155.3h.8v.8h-.8zM161.6 165.8h.8v.8h-.8zM162.0 172.8h.8v.8h-.8zM167.5 163.7h.8v.8h-.8zM170.2 169.2h.8v.8h-.8zM164.8 160.8h.8v.8h-.8zM166.5 140.7h.8v.8h-.8zM172.2 147.8h.8v.8h-.8zM162.1 166.6h.8v.8h-.8zM165.3 145.2h.8v.8h-.8zM165.5 150.6h.8v.8h-.8zM168.5 151.0h.8v.8h-.8zM163.0 150.3h.8v.8h-.8zM170.7 147.6h.8v.8h-.8zM163.4 145.8h.8v.8h-.8zM161.2 156.0h.8v.8h-.8zM168.4 141.7h.8v.8h-.8zM164.4 168.4h.8v.8h-.8zM164.1 174.8h.8v.8h-.8zM168.9 157.4h.8v.8h-.8zM162.7 152.0h.8v.8h-.8zM165.2 151.1h.8v.8h-.8zM169.3 162.6h.8v.8h-.8zM163.5 168.1h.8v.8h-.8zM170.4 150.6h.8v.8h-.8zM163.4 162.5h.8v.8h-.8zM171.0 150.5h.8v.8h-.8zM171.7 162.5h.8v.8h-.8zM167.7 160.2h.8v.8h-.8zM167.1 145.0h.8v.8h-.8zM161.9 168.7h.8v.8h-.8zM168.8 156.7h.8v.8h-.8zM167.9 157.1h.8v.8h-.8zM166.9 166.6h.8v.8h-.8zM163.8 172.0h.8v.8h-.8zM169.3 156.7h.8v.8h-.8zM161.6 158.2h.8v.8h-.8zM160.2 157.3h.8v.8h-.8zM171.1 155.1h.8v.8h-.8zM168.0 162.6h.8v.8h-.8zM164.7 160.3h.8v.8h-.8zM167.6 159.4h.8v.8h-.8zM167.9 162.1h.8v.8h-.8zM160.1 168.1h.8v.8h-.8zM163.2 145.7h.8v.8h-.8zM164.1 170.7h.8v.8h-.8zM162.8 142.4h.8v.8h-.8zM165.5 152.8h.8v.8h-.8z" fill="#9494cc"/>
<path d="M167.3 159.4h.8v.8h-.8zM165.4 148.1h.8v.8h-.8zM162.5 168.2h.8v.8h-.8zM161.0 146.0h.8v.8h-.8zM169.0 165.4h.8v.8h-.8zM168.5 145.5h.8v.8h-.8zM167.4 145.5h.8v.8h-.8zM160.5 148.8h.8v.8h-.8zM164.5 150.3h.8v.8h-.8zM165.5 162.7h.8v.8h-.8zM163.2 172.1h.8v.8h-.8zM165.8 155.9h.8v.8h-.8zM167.8 143.8h.8v.8h-.8zM169.9 156.2h.8v.8h-.8zM167.0 157.8h.8v.8h-.8zM164.5 172.6h.8v.8h-.8zM163.5 171.5h.8v.8h-.8zM166.9 170.2h.8v.8h-.8zM171.0 154.8h.8v.8h-.8zM164.2 157.9h.8v.8h-.8zM161.7 142.7h.8v.8h-.8zM163.8 170.9h.8v.8h-.8zM160.5 170.6h.8v.8h-.8zM163.4 153.1h.8v.8h-.8zM169.4 147.8h.8v.8h-.8zM161.2 165.2h.8v.8h-.8zM167.0 150.0h.8v.8h-.8zM159.4 174.4h.8v.8h-.8zM167.3 153.8h.8v.8h-.8zM165.8 139.4h.8v.8h-.8zM170.6 155.5h.8v.8h-.8zM166.1 159.0h.8v.8h-.8zM166.0 154.5h.8v.8h-.8zM165.7 148.6h.8v.8h-.8zM160.4 163.3h.8v.8h-.8zM163.9 157.8h.8v.8h-.8zM175.0 165.6h.8v.8h-.8zM162.7 167.0h.8v.8h-.8zM164.4 138.6h.8v.8h-.8zM161.3 174.1h.8v.8h-.8zM169.1 152.4h.8v.8h-.8zM165.6 172.7h.8v.8h-.8zM161.0 157.1h.8v.8h-.8zM165.0 157.7h.8v.8h-.8zM174.6 156.8h.8v.8h-.8zM162.4 173.6h.8v.8h-.8zM159.7 142.4h.8v.8h-.8zM154.5 158.6h.8v.8h-.8zM165.1 155.3h.8v.8h-.8zM165.4 193.6h.8v.8h-.8zM169.9 195.8h.8v.8h-.8zM164.9 195.4h.8v.8h-.8zM165.8 193.5h.8v.8h-.8zM166.9 198.6h.8v.8h-.8zM161.4 193.1h.8v.8h-.8zM168.1 192.6h.8v.8h-.8zM166.4 194.2h.8v.8h-.8zM162.6 195.0h.8v.8h-.8zM165.7 194.1h.8v.8h-.8zM167.0 198.0h.8v.8h-.8zM170.2 195.8h.8v.8h-.8zM164.4 191.3h.8v.8h-.8zM168.0 194.5h.8v.8h-.8z" fill="#b8b8d8"/>
<rect x="157.3" y="181.5" width="15.8" height="10.6" rx="4.2" ry="3.53" fill="url(#blobA)" filter="url(#soft)"/>
<text x="220.3" y="132.3" font-size="8.35" text-anchor="start" fill="#2a2a2a" >CD4, IL-17A subset</text>
<path d="M244.3,146.3 V137.4 H270.5 V146.3" fill="none" stroke="#dedede" stroke-width="1"/>
<text x="255.9" y="142.3" font-size="8.2" text-anchor="middle" fill="#2a2a2a" >1.13</text>
<path d="M244.3,146.3 V180.4 H270.5 V146.3" fill="none" stroke="#6a6a6a" stroke-width="1.2"/>
<path d="M258.8 176.4h.8v.8h-.8zM262.0 176.2h.8v.8h-.8zM265.9 177.2h.8v.8h-.8zM256.7 177.6h.8v.8h-.8zM249.4 177.5h.8v.8h-.8zM257.8 175.6h.8v.8h-.8zM261.1 175.1h.8v.8h-.8zM261.0 178.8h.8v.8h-.8zM251.2 178.5h.8v.8h-.8zM258.1 178.6h.8v.8h-.8z" fill="#2c2c94"/>
<path d="M253.1 144.8h.8v.8h-.8zM260.3 174.7h.8v.8h-.8zM257.2 168.6h.8v.8h-.8zM256.1 173.9h.8v.8h-.8zM256.3 169.0h.8v.8h-.8zM256.6 165.5h.8v.8h-.8zM263.8 158.8h.8v.8h-.8zM254.0 170.4h.8v.8h-.8zM260.5 173.6h.8v.8h-.8zM265.7 176.6h.8v.8h-.8zM251.0 171.1h.8v.8h-.8zM257.0 166.1h.8v.8h-.8zM259.5 174.1h.8v.8h-.8zM263.5 157.1h.8v.8h-.8zM256.1 155.3h.8v.8h-.8zM254.6 157.4h.8v.8h-.8zM251.8 149.2h.8v.8h-.8zM261.2 175.2h.8v.8h-.8zM256.5 163.4h.8v.8h-.8zM265.4 165.4h.8v.8h-.8zM259.6 166.0h.8v.8h-.8zM262.5 178.4h.8v.8h-.8zM259.6 173.2h.8v.8h-.8zM251.5 173.0h.8v.8h-.8zM260.1 177.1h.8v.8h-.8zM259.8 168.8h.8v.8h-.8zM259.3 178.8h.8v.8h-.8zM257.7 146.6h.8v.8h-.8zM255.7 177.9h.8v.8h-.8zM262.8 176.0h.8v.8h-.8zM259.0 177.9h.8v.8h-.8zM255.6 152.7h.8v.8h-.8zM253.1 177.1h.8v.8h-.8zM258.1 142.3h.8v.8h-.8zM258.0 173.7h.8v.8h-.8zM257.6 167.2h.8v.8h-.8zM252.3 156.4h.8v.8h-.8zM259.8 177.5h.8v.8h-.8zM257.2 165.4h.8v.8h-.8zM253.8 171.5h.8v.8h-.8zM257.1 154.5h.8v.8h-.8zM261.2 165.3h.8v.8h-.8zM263.6 155.9h.8v.8h-.8zM259.3 177.2h.8v.8h-.8zM253.9 156.0h.8v.8h-.8zM259.2 171.2h.8v.8h-.8zM256.4 167.2h.8v.8h-.8zM256.4 167.3h.8v.8h-.8zM253.5 177.1h.8v.8h-.8zM253.9 175.8h.8v.8h-.8zM256.4 169.6h.8v.8h-.8zM259.1 154.4h.8v.8h-.8zM255.3 172.8h.8v.8h-.8zM262.2 173.9h.8v.8h-.8zM254.1 143.1h.8v.8h-.8zM250.6 177.3h.8v.8h-.8zM258.2 170.2h.8v.8h-.8zM256.7 170.2h.8v.8h-.8zM257.0 172.8h.8v.8h-.8zM255.9 178.3h.8v.8h-.8zM263.3 148.5h.8v.8h-.8zM255.2 152.0h.8v.8h-.8zM257.4 176.0h.8v.8h-.8zM259.7 148.2h.8v.8h-.8z" fill="#5656b0"/>
<path d="M257.2 165.0h.8v.8h-.8zM261.7 166.0h.8v.8h-.8zM265.0 172.7h.8v.8h-.8zM257.4 155.2h.8v.8h-.8zM256.8 158.4h.8v.8h-.8zM256.2 146.6h.8v.8h-.8zM258.2 155.0h.8v.8h-.8zM256.6 156.7h.8v.8h-.8zM262.0 164.8h.8v.8h-.8zM260.9 166.0h.8v.8h-.8zM256.6 143.4h.8v.8h-.8zM258.3 148.4h.8v.8h-.8zM262.6 156.6h.8v.8h-.8zM261.6 147.8h.8v.8h-.8zM253.9 149.8h.8v.8h-.8zM257.4 151.3h.8v.8h-.8zM257.1 165.2h.8v.8h-.8zM258.5 152.6h.8v.8h-.8zM256.1 143.3h.8v.8h-.8zM252.6 153.3h.8v.8h-.8zM260.0 157.1h.8v.8h-.8zM257.0 171.1h.8v.8h-.8zM256.9 174.1h.8v.8h-.8zM259.8 173.7h.8v.8h-.8zM254.4 173.5h.8v.8h-.8zM256.0 174.9h.8v.8h-.8zM262.3 169.0h.8v.8h-.8zM261.2 156.9h.8v.8h-.8zM258.5 173.8h.8v.8h-.8zM254.7 173.1h.8v.8h-.8zM260.9 156.8h.8v.8h-.8zM261.3 157.4h.8v.8h-.8zM253.8 146.3h.8v.8h-.8zM259.6 143.9h.8v.8h-.8zM255.3 159.0h.8v.8h-.8zM257.4 153.5h.8v.8h-.8zM259.6 174.7h.8v.8h-.8zM254.7 145.7h.8v.8h-.8zM261.7 160.8h.8v.8h-.8zM255.1 163.5h.8v.8h-.8zM261.6 144.7h.8v.8h-.8zM253.8 160.9h.8v.8h-.8zM258.4 158.9h.8v.8h-.8zM250.0 164.3h.8v.8h-.8zM262.7 172.8h.8v.8h-.8zM252.2 148.8h.8v.8h-.8zM265.3 150.8h.8v.8h-.8zM261.8 147.3h.8v.8h-.8zM251.4 158.9h.8v.8h-.8zM261.1 161.0h.8v.8h-.8zM254.4 171.3h.8v.8h-.8zM262.4 157.8h.8v.8h-.8zM264.3 171.8h.8v.8h-.8zM258.5 154.1h.8v.8h-.8zM259.7 171.2h.8v.8h-.8zM259.1 159.6h.8v.8h-.8zM253.2 157.0h.8v.8h-.8zM257.7 148.5h.8v.8h-.8zM260.5 168.4h.8v.8h-.8zM255.3 149.3h.8v.8h-.8zM256.9 141.3h.8v.8h-.8zM256.8 144.9h.8v.8h-.8zM257.4 147.4h.8v.8h-.8zM256.8 167.1h.8v.8h-.8zM262.2 151.8h.8v.8h-.8zM258.3 167.2h.8v.8h-.8zM255.1 165.6h.8v.8h-.8zM261.0 161.9h.8v.8h-.8zM261.1 169.7h.8v.8h-.8zM259.8 157.0h.8v.8h-.8zM256.3 163.3h.8v.8h-.8zM259.4 151.2h.8v.8h-.8zM255.7 164.8h.8v.8h-.8zM256.2 149.8h.8v.8h-.8zM266.2 161.7h.8v.8h-.8zM262.4 148.3h.8v.8h-.8zM261.6 151.8h.8v.8h-.8zM256.9 173.6h.8v.8h-.8zM265.6 161.4h.8v.8h-.8zM260.7 145.5h.8v.8h-.8zM261.4 167.0h.8v.8h-.8zM255.5 151.6h.8v.8h-.8z" fill="#9494cc"/>
<path d="M261.1 155.1h.8v.8h-.8zM255.5 172.8h.8v.8h-.8zM256.3 160.8h.8v.8h-.8zM259.9 172.2h.8v.8h-.8zM256.9 159.7h.8v.8h-.8zM258.1 144.7h.8v.8h-.8zM261.7 174.0h.8v.8h-.8zM258.6 162.2h.8v.8h-.8zM258.0 154.3h.8v.8h-.8zM266.1 166.1h.8v.8h-.8zM258.3 153.3h.8v.8h-.8zM262.5 150.1h.8v.8h-.8zM260.4 151.5h.8v.8h-.8zM260.3 162.8h.8v.8h-.8zM263.0 142.2h.8v.8h-.8zM260.8 159.4h.8v.8h-.8zM260.4 156.6h.8v.8h-.8zM254.9 172.0h.8v.8h-.8zM262.5 170.9h.8v.8h-.8zM258.8 161.2h.8v.8h-.8zM259.8 158.9h.8v.8h-.8zM262.9 159.4h.8v.8h-.8zM253.9 169.5h.8v.8h-.8zM260.5 147.9h.8v.8h-.8zM262.5 152.4h.8v.8h-.8zM260.6 163.7h.8v.8h-.8zM258.5 161.1h.8v.8h-.8zM265.4 158.3h.8v.8h-.8zM251.3 157.8h.8v.8h-.8zM264.0 158.4h.8v.8h-.8zM251.2 155.3h.8v.8h-.8zM265.0 151.6h.8v.8h-.8zM260.2 157.4h.8v.8h-.8zM256.9 167.6h.8v.8h-.8zM262.8 150.8h.8v.8h-.8zM253.3 163.8h.8v.8h-.8zM254.3 145.2h.8v.8h-.8zM255.9 159.3h.8v.8h-.8zM257.3 172.3h.8v.8h-.8zM260.5 170.9h.8v.8h-.8zM253.3 148.4h.8v.8h-.8zM256.7 166.3h.8v.8h-.8zM260.8 168.7h.8v.8h-.8zM258.8 164.6h.8v.8h-.8zM261.4 152.1h.8v.8h-.8zM252.1 143.2h.8v.8h-.8zM261.1 152.5h.8v.8h-.8zM262.1 151.1h.8v.8h-.8zM257.0 142.1h.8v.8h-.8zM259.5 157.5h.8v.8h-.8zM259.0 149.4h.8v.8h-.8zM258.0 161.9h.8v.8h-.8zM263.9 142.6h.8v.8h-.8zM254.0 170.5h.8v.8h-.8zM255.8 195.9h.8v.8h-.8zM256.8 198.2h.8v.8h-.8zM261.7 195.8h.8v.8h-.8zM259.9 192.3h.8v.8h-.8zM255.8 196.0h.8v.8h-.8zM260.4 198.2h.8v.8h-.8zM256.5 194.0h.8v.8h-.8zM255.7 196.0h.8v.8h-.8zM261.0 193.1h.8v.8h-.8zM256.8 192.4h.8v.8h-.8zM260.0 193.9h.8v.8h-.8zM258.3 195.3h.8v.8h-.8zM259.8 198.9h.8v.8h-.8zM255.7 198.5h.8v.8h-.8z" fill="#b8b8d8"/>
<rect x="249.3" y="180.6" width="17.7" height="12.5" rx="4.2" ry="3.8" fill="url(#blobA)" filter="url(#soft)"/>
<text x="39.9" y="220.5" font-size="8.35" text-anchor="start" fill="#2a2a2a" >CD4, IL-17A subset</text>
<path d="M63.4,234.8 V225.8 H89.6 V234.8" fill="none" stroke="#dedede" stroke-width="1"/>
<text x="75.5" y="230.5" font-size="8.2" text-anchor="middle" fill="#2a2a2a" >1.96</text>
<path d="M63.4,234.8 V268.9 H89.6 V234.8" fill="none" stroke="#707070" stroke-width="1.2"/>
<path d="M76.9 264.9h.8v.8h-.8zM74.9 266.3h.8v.8h-.8zM73.8 265.3h.8v.8h-.8zM76.6 265.7h.8v.8h-.8zM70.9 264.4h.8v.8h-.8zM79.9 263.9h.8v.8h-.8zM80.1 264.3h.8v.8h-.8zM77.2 266.5h.8v.8h-.8zM76.1 265.2h.8v.8h-.8zM79.3 267.1h.8v.8h-.8zM72.0 267.4h.8v.8h-.8zM74.3 264.9h.8v.8h-.8z" fill="#2c2c94"/>
<path d="M83.2 232.1h.8v.8h-.8zM76.1 265.3h.8v.8h-.8zM78.9 259.8h.8v.8h-.8zM76.5 266.6h.8v.8h-.8zM78.5 247.5h.8v.8h-.8zM78.0 249.7h.8v.8h-.8zM77.9 256.3h.8v.8h-.8zM80.1 266.7h.8v.8h-.8zM79.8 262.7h.8v.8h-.8zM75.0 246.4h.8v.8h-.8zM78.3 260.2h.8v.8h-.8zM70.1 258.5h.8v.8h-.8zM76.3 249.1h.8v.8h-.8zM80.0 265.3h.8v.8h-.8zM82.3 262.3h.8v.8h-.8zM78.4 257.6h.8v.8h-.8zM75.1 266.3h.8v.8h-.8zM72.8 244.0h.8v.8h-.8zM80.8 233.7h.8v.8h-.8zM76.1 266.5h.8v.8h-.8zM74.1 238.9h.8v.8h-.8zM79.7 258.9h.8v.8h-.8zM82.0 262.1h.8v.8h-.8zM78.5 262.9h.8v.8h-.8zM71.1 230.2h.8v.8h-.8zM79.5 264.5h.8v.8h-.8zM81.1 256.7h.8v.8h-.8zM77.3 260.0h.8v.8h-.8zM70.3 256.0h.8v.8h-.8zM81.0 241.3h.8v.8h-.8zM80.4 235.0h.8v.8h-.8zM78.2 265.5h.8v.8h-.8zM82.8 241.5h.8v.8h-.8zM77.3 263.2h.8v.8h-.8zM78.2 265.1h.8v.8h-.8zM80.2 259.0h.8v.8h-.8zM84.7 239.0h.8v.8h-.8zM70.3 240.9h.8v.8h-.8zM72.2 240.5h.8v.8h-.8zM75.7 255.3h.8v.8h-.8zM76.6 253.3h.8v.8h-.8zM82.3 256.7h.8v.8h-.8zM71.1 265.6h.8v.8h-.8zM78.6 232.9h.8v.8h-.8zM79.2 266.4h.8v.8h-.8zM75.3 256.4h.8v.8h-.8zM83.6 261.2h.8v.8h-.8zM79.2 253.6h.8v.8h-.8zM77.8 266.1h.8v.8h-.8zM76.9 240.4h.8v.8h-.8zM78.9 249.0h.8v.8h-.8zM80.4 257.2h.8v.8h-.8zM73.1 254.2h.8v.8h-.8zM75.6 233.8h.8v.8h-.8zM78.5 267.0h.8v.8h-.8zM76.6 250.4h.8v.8h-.8zM79.1 233.0h.8v.8h-.8zM71.5 250.9h.8v.8h-.8zM76.6 257.7h.8v.8h-.8zM70.3 241.1h.8v.8h-.8zM75.3 256.7h.8v.8h-.8zM76.3 254.0h.8v.8h-.8zM78.9 255.1h.8v.8h-.8zM75.7 256.7h.8v.8h-.8zM81.6 234.8h.8v.8h-.8zM78.1 265.3h.8v.8h-.8zM78.7 251.9h.8v.8h-.8zM71.4 258.5h.8v.8h-.8zM76.9 250.6h.8v.8h-.8zM74.1 265.2h.8v.8h-.8zM79.5 243.0h.8v.8h-.8zM78.3 266.8h.8v.8h-.8zM76.0 255.3h.8v.8h-.8zM76.8 260.1h.8v.8h-.8zM77.8 262.2h.8v.8h-.8zM78.7 266.5h.8v.8h-.8zM78.6 264.1h.8v.8h-.8zM81.6 250.2h.8v.8h-.8zM79.1 245.4h.8v.8h-.8zM83.8 254.8h.8v.8h-.8zM79.6 246.8h.8v.8h-.8zM75.3 263.9h.8v.8h-.8zM76.9 261.6h.8v.8h-.8zM81.6 262.4h.8v.8h-.8zM73.7 252.5h.8v.8h-.8zM81.7 263.7h.8v.8h-.8zM78.5 260.6h.8v.8h-.8zM75.1 241.8h.8v.8h-.8zM78.2 233.9h.8v.8h-.8zM72.1 264.3h.8v.8h-.8zM80.4 244.3h.8v.8h-.8zM77.3 256.8h.8v.8h-.8zM74.9 248.7h.8v.8h-.8zM79.6 252.0h.8v.8h-.8zM84.3 248.8h.8v.8h-.8zM79.0 258.3h.8v.8h-.8zM74.9 264.6h.8v.8h-.8zM74.3 240.1h.8v.8h-.8zM80.7 250.1h.8v.8h-.8zM84.0 265.1h.8v.8h-.8zM80.1 234.7h.8v.8h-.8zM77.3 245.2h.8v.8h-.8zM76.3 255.2h.8v.8h-.8zM79.3 234.6h.8v.8h-.8zM80.7 250.7h.8v.8h-.8zM75.7 254.3h.8v.8h-.8zM73.7 248.5h.8v.8h-.8zM78.7 259.1h.8v.8h-.8z" fill="#5656b0"/>
<path d="M74.6 238.2h.8v.8h-.8zM78.8 253.1h.8v.8h-.8zM73.4 254.4h.8v.8h-.8zM81.8 234.2h.8v.8h-.8zM77.1 257.7h.8v.8h-.8zM73.6 251.9h.8v.8h-.8zM74.3 245.7h.8v.8h-.8zM76.8 241.9h.8v.8h-.8zM81.4 260.4h.8v.8h-.8zM74.5 244.4h.8v.8h-.8zM83.2 238.8h.8v.8h-.8zM75.0 257.5h.8v.8h-.8zM71.1 241.8h.8v.8h-.8zM76.0 231.5h.8v.8h-.8zM74.4 254.3h.8v.8h-.8zM77.3 236.0h.8v.8h-.8zM72.2 244.0h.8v.8h-.8zM86.2 237.4h.8v.8h-.8zM82.5 256.4h.8v.8h-.8zM75.0 241.9h.8v.8h-.8zM79.0 252.0h.8v.8h-.8zM78.8 243.3h.8v.8h-.8zM79.4 247.0h.8v.8h-.8zM77.7 249.8h.8v.8h-.8zM80.0 241.1h.8v.8h-.8zM80.4 236.2h.8v.8h-.8zM78.2 233.9h.8v.8h-.8zM82.8 263.0h.8v.8h-.8zM84.7 246.2h.8v.8h-.8zM76.3 256.4h.8v.8h-.8zM76.9 259.3h.8v.8h-.8zM78.5 249.0h.8v.8h-.8zM76.4 241.2h.8v.8h-.8zM80.7 262.2h.8v.8h-.8zM79.1 231.2h.8v.8h-.8zM77.0 238.2h.8v.8h-.8zM76.9 242.2h.8v.8h-.8zM80.1 237.6h.8v.8h-.8zM79.5 241.2h.8v.8h-.8zM76.1 243.4h.8v.8h-.8zM76.9 256.6h.8v.8h-.8zM82.3 241.3h.8v.8h-.8zM76.4 252.0h.8v.8h-.8zM75.8 255.4h.8v.8h-.8zM77.1 257.0h.8v.8h-.8zM76.6 257.2h.8v.8h-.8zM80.6 256.2h.8v.8h-.8zM85.7 241.2h.8v.8h-.8zM73.9 259.1h.8v.8h-.8zM81.5 236.6h.8v.8h-.8zM78.0 247.8h.8v.8h-.8zM68.6 234.2h.8v.8h-.8zM75.7 256.0h.8v.8h-.8zM79.1 258.1h.8v.8h-.8zM76.5 243.9h.8v.8h-.8zM70.5 230.6h.8v.8h-.8zM76.9 238.7h.8v.8h-.8zM73.8 245.2h.8v.8h-.8zM78.0 255.4h.8v.8h-.8zM78.6 242.4h.8v.8h-.8zM84.1 235.1h.8v.8h-.8zM77.1 255.8h.8v.8h-.8zM79.7 252.3h.8v.8h-.8zM76.5 231.7h.8v.8h-.8zM74.7 256.0h.8v.8h-.8zM76.0 261.0h.8v.8h-.8zM80.3 233.1h.8v.8h-.8zM77.6 249.8h.8v.8h-.8zM75.7 233.8h.8v.8h-.8zM82.5 244.5h.8v.8h-.8zM77.4 258.3h.8v.8h-.8zM79.9 255.2h.8v.8h-.8zM77.0 233.8h.8v.8h-.8zM70.1 234.6h.8v.8h-.8zM78.3 235.0h.8v.8h-.8zM79.2 235.7h.8v.8h-.8zM77.4 238.7h.8v.8h-.8zM72.8 236.4h.8v.8h-.8zM75.7 250.0h.8v.8h-.8zM77.0 245.3h.8v.8h-.8zM76.2 262.9h.8v.8h-.8zM80.1 248.3h.8v.8h-.8zM74.6 242.5h.8v.8h-.8zM80.3 240.9h.8v.8h-.8zM74.1 258.9h.8v.8h-.8zM83.0 257.2h.8v.8h-.8zM80.5 232.7h.8v.8h-.8zM83.5 244.9h.8v.8h-.8zM78.2 259.3h.8v.8h-.8zM71.7 244.2h.8v.8h-.8zM81.0 248.5h.8v.8h-.8zM76.4 242.2h.8v.8h-.8zM82.1 241.3h.8v.8h-.8zM81.7 239.9h.8v.8h-.8zM77.0 258.6h.8v.8h-.8zM76.2 261.1h.8v.8h-.8zM74.1 238.1h.8v.8h-.8zM74.6 244.5h.8v.8h-.8zM79.5 247.7h.8v.8h-.8zM83.7 253.7h.8v.8h-.8zM77.3 245.9h.8v.8h-.8zM79.1 253.1h.8v.8h-.8zM76.4 262.8h.8v.8h-.8zM74.2 252.9h.8v.8h-.8zM82.9 231.4h.8v.8h-.8z" fill="#9494cc"/>
<path d="M86.3 232.1h.8v.8h-.8zM79.4 241.5h.8v.8h-.8zM78.9 235.6h.8v.8h-.8zM68.4 229.6h.8v.8h-.8zM83.0 259.4h.8v.8h-.8zM81.9 245.8h.8v.8h-.8zM82.4 254.8h.8v.8h-.8zM77.9 256.2h.8v.8h-.8zM79.1 259.0h.8v.8h-.8zM79.1 257.3h.8v.8h-.8zM73.7 239.0h.8v.8h-.8zM66.4 235.1h.8v.8h-.8zM78.0 231.0h.8v.8h-.8zM84.7 244.9h.8v.8h-.8zM72.5 235.6h.8v.8h-.8zM74.5 252.3h.8v.8h-.8zM73.4 247.9h.8v.8h-.8zM76.7 243.4h.8v.8h-.8zM76.6 230.5h.8v.8h-.8zM77.6 240.8h.8v.8h-.8zM77.3 236.8h.8v.8h-.8zM76.7 246.3h.8v.8h-.8zM78.2 256.7h.8v.8h-.8zM82.1 263.4h.8v.8h-.8zM78.9 240.0h.8v.8h-.8zM71.8 241.2h.8v.8h-.8zM77.0 237.4h.8v.8h-.8zM78.7 254.1h.8v.8h-.8zM76.8 247.7h.8v.8h-.8zM80.9 251.6h.8v.8h-.8zM87.6 240.9h.8v.8h-.8zM74.2 244.7h.8v.8h-.8zM74.9 236.3h.8v.8h-.8zM81.2 247.9h.8v.8h-.8zM74.6 262.7h.8v.8h-.8zM70.8 234.1h.8v.8h-.8zM72.7 246.0h.8v.8h-.8zM83.1 246.5h.8v.8h-.8zM72.0 261.9h.8v.8h-.8zM76.7 242.5h.8v.8h-.8zM77.8 258.5h.8v.8h-.8zM75.2 239.4h.8v.8h-.8zM78.0 238.0h.8v.8h-.8zM82.6 258.5h.8v.8h-.8zM78.5 259.0h.8v.8h-.8zM78.9 235.7h.8v.8h-.8zM69.5 230.3h.8v.8h-.8zM72.4 262.7h.8v.8h-.8zM83.0 241.6h.8v.8h-.8zM82.0 262.6h.8v.8h-.8zM73.6 245.3h.8v.8h-.8zM80.4 261.2h.8v.8h-.8zM73.8 254.2h.8v.8h-.8zM73.4 251.8h.8v.8h-.8zM71.0 246.2h.8v.8h-.8zM84.6 236.5h.8v.8h-.8zM73.3 231.9h.8v.8h-.8zM70.9 240.7h.8v.8h-.8zM78.3 261.2h.8v.8h-.8zM75.9 245.0h.8v.8h-.8zM72.6 239.3h.8v.8h-.8zM75.7 237.4h.8v.8h-.8zM79.1 259.9h.8v.8h-.8zM83.1 251.3h.8v.8h-.8zM72.5 251.6h.8v.8h-.8zM80.0 253.3h.8v.8h-.8zM73.4 229.9h.8v.8h-.8zM79.1 251.8h.8v.8h-.8zM71.0 242.8h.8v.8h-.8zM75.3 255.9h.8v.8h-.8zM76.9 249.0h.8v.8h-.8zM82.4 238.5h.8v.8h-.8zM81.8 237.8h.8v.8h-.8zM75.6 254.3h.8v.8h-.8zM83.2 239.1h.8v.8h-.8zM74.9 284.1h.8v.8h-.8zM77.1 287.9h.8v.8h-.8zM72.0 282.9h.8v.8h-.8zM76.0 285.6h.8v.8h-.8zM75.9 284.1h.8v.8h-.8zM78.9 285.3h.8v.8h-.8zM76.9 286.9h.8v.8h-.8zM79.1 283.3h.8v.8h-.8zM79.3 283.1h.8v.8h-.8zM75.6 282.3h.8v.8h-.8zM77.6 282.8h.8v.8h-.8zM75.8 286.0h.8v.8h-.8zM77.3 280.0h.8v.8h-.8zM77.7 287.1h.8v.8h-.8z" fill="#b8b8d8"/>
<rect x="68.8" y="269.7" width="15.8" height="11.4" rx="4.2" ry="3.8" fill="url(#blobA)" filter="url(#soft)"/>
<text x="131.4" y="220.5" font-size="8.35" text-anchor="start" fill="#2a2a2a" >CD4, IL-17A subset</text>
<path d="M155.4,234.8 V225.6 H181.4 V234.8" fill="none" stroke="#dedede" stroke-width="1"/>
<text x="167" y="230.5" font-size="8.2" text-anchor="middle" fill="#2a2a2a" >1.25</text>
<path d="M155.4,234.8 V268.7 H181.4 V234.8" fill="none" stroke="#707070" stroke-width="1.2"/>
<path d="M166.9 264.8h.8v.8h-.8zM164.3 265.0h.8v.8h-.8zM170.5 264.5h.8v.8h-.8zM167.6 267.0h.8v.8h-.8zM168.1 266.3h.8v.8h-.8zM165.8 266.2h.8v.8h-.8zM171.8 264.2h.8v.8h-.8z" fill="#2c2c94"/>
<path d="M173.3 264.4h.8v.8h-.8zM175.3 246.9h.8v.8h-.8zM164.1 231.9h.8v.8h-.8zM170.5 235.7h.8v.8h-.8zM167.5 248.7h.8v.8h-.8zM171.1 266.4h.8v.8h-.8zM170.6 257.9h.8v.8h-.8zM163.6 233.1h.8v.8h-.8zM174.0 265.5h.8v.8h-.8zM162.9 237.1h.8v.8h-.8zM167.5 254.9h.8v.8h-.8zM168.6 266.9h.8v.8h-.8zM169.7 265.1h.8v.8h-.8zM162.5 254.0h.8v.8h-.8zM173.0 260.2h.8v.8h-.8zM174.0 258.6h.8v.8h-.8zM168.5 258.5h.8v.8h-.8zM172.5 265.5h.8v.8h-.8zM173.5 247.5h.8v.8h-.8zM168.5 259.3h.8v.8h-.8zM172.9 259.1h.8v.8h-.8zM174.7 234.5h.8v.8h-.8zM166.1 239.0h.8v.8h-.8zM171.3 245.0h.8v.8h-.8zM163.4 264.3h.8v.8h-.8zM173.0 266.0h.8v.8h-.8zM165.1 238.2h.8v.8h-.8zM166.9 249.9h.8v.8h-.8zM173.4 254.1h.8v.8h-.8zM175.0 266.0h.8v.8h-.8zM165.2 252.6h.8v.8h-.8zM168.5 265.6h.8v.8h-.8zM171.0 241.4h.8v.8h-.8zM169.4 252.8h.8v.8h-.8zM169.9 254.1h.8v.8h-.8zM168.5 251.5h.8v.8h-.8zM169.6 235.6h.8v.8h-.8zM179.3 265.8h.8v.8h-.8zM169.2 256.2h.8v.8h-.8zM168.5 241.9h.8v.8h-.8zM168.1 230.4h.8v.8h-.8zM170.2 248.2h.8v.8h-.8zM175.0 261.7h.8v.8h-.8zM170.1 259.9h.8v.8h-.8zM166.7 264.9h.8v.8h-.8zM173.9 241.4h.8v.8h-.8zM176.7 248.5h.8v.8h-.8zM166.0 233.0h.8v.8h-.8zM174.0 256.5h.8v.8h-.8zM169.7 239.5h.8v.8h-.8zM172.6 257.3h.8v.8h-.8zM169.5 256.8h.8v.8h-.8zM168.2 247.4h.8v.8h-.8zM170.9 266.9h.8v.8h-.8zM168.9 250.6h.8v.8h-.8zM163.6 256.7h.8v.8h-.8zM169.8 265.2h.8v.8h-.8zM172.2 250.1h.8v.8h-.8zM169.5 261.0h.8v.8h-.8zM166.8 248.8h.8v.8h-.8zM172.4 229.5h.8v.8h-.8zM162.3 264.4h.8v.8h-.8zM165.4 265.6h.8v.8h-.8zM171.3 256.6h.8v.8h-.8zM169.4 251.4h.8v.8h-.8zM168.7 255.6h.8v.8h-.8zM166.9 245.9h.8v.8h-.8zM165.2 266.0h.8v.8h-.8zM168.9 261.1h.8v.8h-.8zM173.6 250.5h.8v.8h-.8zM171.3 238.9h.8v.8h-.8zM171.8 248.4h.8v.8h-.8zM165.8 248.8h.8v.8h-.8zM170.3 254.8h.8v.8h-.8zM170.8 250.2h.8v.8h-.8zM171.9 260.3h.8v.8h-.8zM166.3 261.0h.8v.8h-.8zM171.4 240.1h.8v.8h-.8z" fill="#5656b0"/>
<path d="M169.8 237.3h.8v.8h-.8zM170.8 258.8h.8v.8h-.8zM175.8 236.3h.8v.8h-.8zM168.6 248.8h.8v.8h-.8zM162.9 253.6h.8v.8h-.8zM171.9 245.1h.8v.8h-.8zM169.4 260.5h.8v.8h-.8zM166.3 253.4h.8v.8h-.8zM166.6 242.2h.8v.8h-.8zM172.5 237.8h.8v.8h-.8zM175.4 242.7h.8v.8h-.8zM168.8 258.7h.8v.8h-.8zM163.8 248.4h.8v.8h-.8zM179.0 257.1h.8v.8h-.8zM171.8 231.6h.8v.8h-.8zM163.6 249.7h.8v.8h-.8zM171.1 261.4h.8v.8h-.8zM163.8 255.5h.8v.8h-.8zM170.2 261.1h.8v.8h-.8zM167.6 237.9h.8v.8h-.8zM169.8 252.9h.8v.8h-.8zM160.7 237.0h.8v.8h-.8zM170.2 231.3h.8v.8h-.8zM171.3 255.4h.8v.8h-.8zM166.7 255.6h.8v.8h-.8zM168.2 263.0h.8v.8h-.8zM174.6 251.2h.8v.8h-.8zM163.8 232.5h.8v.8h-.8zM173.9 237.9h.8v.8h-.8zM166.4 253.6h.8v.8h-.8zM165.7 234.8h.8v.8h-.8zM171.5 256.8h.8v.8h-.8zM171.1 238.8h.8v.8h-.8zM170.4 234.6h.8v.8h-.8zM175.4 232.3h.8v.8h-.8zM174.9 237.7h.8v.8h-.8zM169.5 259.1h.8v.8h-.8zM172.2 251.4h.8v.8h-.8zM165.7 233.7h.8v.8h-.8zM172.6 257.3h.8v.8h-.8zM170.7 253.7h.8v.8h-.8zM168.4 234.7h.8v.8h-.8zM172.1 258.3h.8v.8h-.8zM178.3 245.7h.8v.8h-.8zM162.6 263.0h.8v.8h-.8zM165.2 239.5h.8v.8h-.8zM169.2 246.4h.8v.8h-.8zM170.1 254.0h.8v.8h-.8zM172.4 251.1h.8v.8h-.8zM173.3 260.0h.8v.8h-.8zM172.9 250.4h.8v.8h-.8zM166.2 240.2h.8v.8h-.8zM170.3 258.8h.8v.8h-.8zM172.0 256.2h.8v.8h-.8zM176.2 242.9h.8v.8h-.8zM173.0 230.8h.8v.8h-.8zM169.9 255.2h.8v.8h-.8zM174.9 239.6h.8v.8h-.8zM163.7 253.9h.8v.8h-.8zM172.9 244.5h.8v.8h-.8zM170.3 254.5h.8v.8h-.8zM170.4 236.2h.8v.8h-.8zM169.4 241.4h.8v.8h-.8zM169.5 240.8h.8v.8h-.8zM165.3 234.7h.8v.8h-.8zM169.7 246.3h.8v.8h-.8z" fill="#9494cc"/>
<path d="M168.0 234.6h.8v.8h-.8zM171.7 248.6h.8v.8h-.8zM169.7 263.3h.8v.8h-.8zM165.1 238.8h.8v.8h-.8zM166.2 245.9h.8v.8h-.8zM171.7 245.6h.8v.8h-.8zM169.5 246.8h.8v.8h-.8zM170.9 229.7h.8v.8h-.8zM178.4 247.7h.8v.8h-.8zM168.7 246.5h.8v.8h-.8zM176.5 260.6h.8v.8h-.8zM167.7 253.5h.8v.8h-.8zM169.1 256.2h.8v.8h-.8zM166.8 249.4h.8v.8h-.8zM167.8 255.7h.8v.8h-.8zM169.3 258.4h.8v.8h-.8zM168.3 262.7h.8v.8h-.8zM170.1 259.2h.8v.8h-.8zM166.6 243.7h.8v.8h-.8zM173.9 257.2h.8v.8h-.8zM174.0 248.0h.8v.8h-.8zM169.1 238.7h.8v.8h-.8zM172.5 235.2h.8v.8h-.8zM172.4 261.9h.8v.8h-.8zM166.7 246.1h.8v.8h-.8zM166.7 258.6h.8v.8h-.8zM172.7 237.8h.8v.8h-.8zM168.1 248.3h.8v.8h-.8zM166.0 243.8h.8v.8h-.8zM174.3 244.5h.8v.8h-.8zM171.3 245.5h.8v.8h-.8zM169.0 246.2h.8v.8h-.8zM161.9 237.7h.8v.8h-.8zM167.2 260.4h.8v.8h-.8zM164.8 243.3h.8v.8h-.8zM170.7 245.9h.8v.8h-.8zM174.8 245.1h.8v.8h-.8zM163.7 242.5h.8v.8h-.8zM170.0 262.5h.8v.8h-.8zM166.9 248.8h.8v.8h-.8zM166.8 262.6h.8v.8h-.8zM176.1 236.1h.8v.8h-.8zM173.2 246.6h.8v.8h-.8zM169.9 244.9h.8v.8h-.8zM172.7 246.0h.8v.8h-.8zM172.6 235.9h.8v.8h-.8zM176.0 246.6h.8v.8h-.8zM171.2 242.4h.8v.8h-.8zM169.7 242.1h.8v.8h-.8zM168.8 284.4h.8v.8h-.8zM173.0 284.4h.8v.8h-.8zM170.9 288.6h.8v.8h-.8zM171.9 284.2h.8v.8h-.8zM170.6 283.1h.8v.8h-.8zM168.5 287.7h.8v.8h-.8zM168.1 283.0h.8v.8h-.8zM172.3 284.9h.8v.8h-.8zM174.4 282.4h.8v.8h-.8zM172.4 283.1h.8v.8h-.8zM168.1 280.8h.8v.8h-.8zM167.4 282.7h.8v.8h-.8zM170.8 282.8h.8v.8h-.8zM168.0 283.6h.8v.8h-.8z" fill="#b8b8d8"/>
<rect x="160.6" y="269.5" width="17.5" height="11.6" rx="4.2" ry="3.8" fill="url(#blobA)" filter="url(#soft)"/>
<text x="220.3" y="220.5" font-size="8.35" text-anchor="start" fill="#2a2a2a" >CD4, IL-17A subset</text>
<path d="M244.3,234.8 V225.6 H270.5 V234.8" fill="none" stroke="#dedede" stroke-width="1"/>
<text x="255.9" y="230.5" font-size="8.2" text-anchor="middle" fill="#2a2a2a" >1.00</text>
<path d="M244.3,234.8 V268.7 H270.5 V234.8" fill="none" stroke="#707070" stroke-width="1.2"/>
<path d="M256.8 265.9h.8v.8h-.8zM258.4 264.1h.8v.8h-.8zM260.6 264.9h.8v.8h-.8zM256.3 266.2h.8v.8h-.8zM260.9 266.2h.8v.8h-.8zM256.3 264.9h.8v.8h-.8z" fill="#2c2c94"/>
<path d="M258.0 266.0h.8v.8h-.8zM255.0 256.9h.8v.8h-.8zM258.5 257.5h.8v.8h-.8zM263.6 254.9h.8v.8h-.8zM257.0 251.3h.8v.8h-.8zM261.6 256.2h.8v.8h-.8zM260.3 258.7h.8v.8h-.8zM254.6 262.9h.8v.8h-.8zM259.5 233.4h.8v.8h-.8zM260.2 255.2h.8v.8h-.8zM265.2 264.3h.8v.8h-.8zM251.7 260.8h.8v.8h-.8zM253.5 252.8h.8v.8h-.8zM258.8 262.0h.8v.8h-.8zM256.3 265.8h.8v.8h-.8zM260.9 259.2h.8v.8h-.8zM255.4 256.4h.8v.8h-.8zM260.8 264.7h.8v.8h-.8zM254.9 252.8h.8v.8h-.8zM256.1 260.2h.8v.8h-.8zM259.3 265.8h.8v.8h-.8zM260.2 251.3h.8v.8h-.8zM261.3 240.5h.8v.8h-.8zM261.3 230.5h.8v.8h-.8zM260.0 252.3h.8v.8h-.8zM264.3 258.6h.8v.8h-.8zM261.0 263.2h.8v.8h-.8zM259.6 241.8h.8v.8h-.8zM260.5 258.5h.8v.8h-.8zM260.5 244.8h.8v.8h-.8zM260.8 257.6h.8v.8h-.8zM257.7 263.0h.8v.8h-.8zM266.2 246.3h.8v.8h-.8zM257.1 262.3h.8v.8h-.8zM256.0 244.6h.8v.8h-.8zM257.0 256.8h.8v.8h-.8zM258.4 246.3h.8v.8h-.8zM255.0 247.2h.8v.8h-.8zM258.7 251.8h.8v.8h-.8zM255.5 242.8h.8v.8h-.8zM261.8 265.3h.8v.8h-.8zM255.1 241.2h.8v.8h-.8zM253.7 243.7h.8v.8h-.8zM260.5 230.5h.8v.8h-.8zM261.1 234.7h.8v.8h-.8zM263.7 262.2h.8v.8h-.8zM260.2 265.5h.8v.8h-.8zM259.8 254.3h.8v.8h-.8zM258.1 258.4h.8v.8h-.8zM262.9 248.8h.8v.8h-.8zM262.1 266.6h.8v.8h-.8zM260.9 266.9h.8v.8h-.8zM257.8 254.8h.8v.8h-.8zM255.5 267.1h.8v.8h-.8zM258.4 238.6h.8v.8h-.8zM267.3 248.3h.8v.8h-.8zM256.3 267.0h.8v.8h-.8zM263.8 265.3h.8v.8h-.8zM258.1 263.5h.8v.8h-.8zM252.5 238.3h.8v.8h-.8zM259.5 253.3h.8v.8h-.8zM258.8 241.8h.8v.8h-.8zM252.4 266.3h.8v.8h-.8zM254.5 264.8h.8v.8h-.8zM255.1 253.3h.8v.8h-.8zM256.9 265.3h.8v.8h-.8zM252.9 249.1h.8v.8h-.8zM264.8 236.4h.8v.8h-.8zM262.9 255.5h.8v.8h-.8z" fill="#5656b0"/>
<path d="M261.3 256.5h.8v.8h-.8zM256.6 249.1h.8v.8h-.8zM258.7 246.5h.8v.8h-.8zM258.8 238.5h.8v.8h-.8zM262.9 250.4h.8v.8h-.8zM256.6 236.8h.8v.8h-.8zM263.5 255.0h.8v.8h-.8zM262.4 253.3h.8v.8h-.8zM261.4 262.4h.8v.8h-.8zM261.4 248.9h.8v.8h-.8zM254.5 257.7h.8v.8h-.8zM264.7 240.6h.8v.8h-.8zM259.3 251.2h.8v.8h-.8zM257.8 234.9h.8v.8h-.8zM263.9 246.6h.8v.8h-.8zM253.5 248.7h.8v.8h-.8zM255.9 238.9h.8v.8h-.8zM254.0 239.2h.8v.8h-.8zM257.8 259.9h.8v.8h-.8zM256.8 253.5h.8v.8h-.8zM255.6 233.4h.8v.8h-.8zM261.1 257.5h.8v.8h-.8zM258.7 250.6h.8v.8h-.8zM262.0 247.8h.8v.8h-.8zM255.3 251.4h.8v.8h-.8zM260.0 261.9h.8v.8h-.8zM251.9 238.7h.8v.8h-.8zM262.7 256.5h.8v.8h-.8zM256.4 249.6h.8v.8h-.8zM252.4 255.3h.8v.8h-.8zM259.1 258.2h.8v.8h-.8zM254.0 230.9h.8v.8h-.8zM260.4 256.0h.8v.8h-.8zM250.8 232.1h.8v.8h-.8zM261.0 248.9h.8v.8h-.8zM261.4 242.7h.8v.8h-.8zM258.6 243.7h.8v.8h-.8zM258.0 236.4h.8v.8h-.8zM263.0 251.6h.8v.8h-.8zM264.1 241.7h.8v.8h-.8zM257.6 257.5h.8v.8h-.8zM257.9 253.9h.8v.8h-.8zM259.0 250.8h.8v.8h-.8zM260.5 251.1h.8v.8h-.8zM252.2 246.4h.8v.8h-.8zM263.7 249.7h.8v.8h-.8zM257.7 234.9h.8v.8h-.8zM257.4 256.1h.8v.8h-.8zM262.5 232.2h.8v.8h-.8zM258.5 257.6h.8v.8h-.8zM253.8 253.4h.8v.8h-.8zM259.1 262.2h.8v.8h-.8zM265.3 244.1h.8v.8h-.8zM262.1 260.9h.8v.8h-.8zM256.0 243.7h.8v.8h-.8zM262.6 247.2h.8v.8h-.8zM268.0 246.5h.8v.8h-.8zM257.4 235.1h.8v.8h-.8zM253.9 241.5h.8v.8h-.8zM255.8 237.6h.8v.8h-.8zM259.6 253.5h.8v.8h-.8zM266.9 235.2h.8v.8h-.8zM263.1 258.0h.8v.8h-.8zM260.4 235.6h.8v.8h-.8zM266.3 249.1h.8v.8h-.8zM268.3 233.9h.8v.8h-.8z" fill="#9494cc"/>
<path d="M260.2 249.5h.8v.8h-.8zM259.4 253.5h.8v.8h-.8zM249.6 246.1h.8v.8h-.8zM266.5 254.8h.8v.8h-.8zM265.7 230.5h.8v.8h-.8zM260.3 242.8h.8v.8h-.8zM252.7 234.7h.8v.8h-.8zM256.7 260.5h.8v.8h-.8zM259.4 242.9h.8v.8h-.8zM262.4 231.2h.8v.8h-.8zM256.3 245.5h.8v.8h-.8zM256.4 245.7h.8v.8h-.8zM258.5 240.4h.8v.8h-.8zM258.8 241.8h.8v.8h-.8zM259.8 263.0h.8v.8h-.8zM259.4 251.1h.8v.8h-.8zM262.9 235.2h.8v.8h-.8zM261.8 246.4h.8v.8h-.8zM246.3 231.8h.8v.8h-.8zM257.1 233.8h.8v.8h-.8zM255.2 239.8h.8v.8h-.8zM257.4 260.7h.8v.8h-.8zM263.5 235.9h.8v.8h-.8zM259.6 233.5h.8v.8h-.8zM257.4 249.0h.8v.8h-.8zM261.8 234.4h.8v.8h-.8zM252.9 234.1h.8v.8h-.8zM268.3 239.1h.8v.8h-.8zM262.2 237.7h.8v.8h-.8zM260.7 240.6h.8v.8h-.8zM259.1 230.3h.8v.8h-.8zM267.4 236.3h.8v.8h-.8zM256.9 230.8h.8v.8h-.8zM252.6 252.7h.8v.8h-.8zM258.0 239.2h.8v.8h-.8zM258.8 261.3h.8v.8h-.8zM254.4 250.7h.8v.8h-.8zM254.5 230.6h.8v.8h-.8zM259.2 247.9h.8v.8h-.8zM257.4 287.4h.8v.8h-.8zM257.9 283.1h.8v.8h-.8zM256.2 284.8h.8v.8h-.8zM260.7 284.9h.8v.8h-.8zM253.0 283.3h.8v.8h-.8zM254.1 282.2h.8v.8h-.8zM259.7 283.4h.8v.8h-.8zM258.8 280.9h.8v.8h-.8zM260.5 284.2h.8v.8h-.8zM255.8 289.1h.8v.8h-.8zM256.3 287.9h.8v.8h-.8zM257.3 280.5h.8v.8h-.8zM258.5 283.9h.8v.8h-.8zM261.8 281.0h.8v.8h-.8z" fill="#b8b8d8"/>
<rect x="249.9" y="268.6" width="17.1" height="13.1" rx="4.2" ry="3.8" fill="url(#blobA)" filter="url(#soft)"/>
<line x1="25.8" y1="28.6" x2="25.8" y2="302.8" stroke="#000" stroke-width="1.25" />
<line x1="25.2" y1="302.8" x2="303.3" y2="302.8" stroke="#000" stroke-width="1.25" />
<path d="M19.7,38.6 L25.8,28.4 L31.8,38.6" fill="none" stroke="#000" stroke-width="1.25"/>
<path d="M293,296.7 L303.5,302.8 L293,308.9" fill="none" stroke="#000" stroke-width="1.25"/>
<text x="75.3" y="27" font-size="16" text-anchor="middle" fill="#000" >C</text>
<text x="170.3" y="27" font-size="16" text-anchor="middle" fill="#000" >M</text>
<text x="255.4" y="27" font-size="16" text-anchor="middle" fill="#000" >S</text>
<text x="303.4" y="82.5" font-size="18.6" text-anchor="start" fill="#000" >d0</text>
<text x="303.4" y="169.3" font-size="18.6" text-anchor="start" fill="#000" >d3</text>
<text x="303.4" y="260.7" font-size="18.6" text-anchor="start" fill="#000" >d7</text>
<text transform="translate(20.5,190.6) rotate(-90)" font-size="18.8">IL-17A</text>
<text x="143" y="321" font-size="18" text-anchor="start" fill="#000" >CD4</text>
<rect x="32.2" y="356.7" width="265.2" height="263.6" fill="none" stroke="#cacaca" stroke-width="1.6"/>
<line x1="120.4" y1="356.7" x2="120.4" y2="620.3" stroke="#b9b9b9" stroke-width="2" />
<line x1="209.1" y1="356.7" x2="209.1" y2="620.3" stroke="#b9b9b9" stroke-width="2" />
<line x1="32.2" y1="444.8" x2="297.4" y2="444.8" stroke="#b9b9b9" stroke-width="2" />
<line x1="32.2" y1="532.8" x2="297.4" y2="532.8" stroke="#b9b9b9" stroke-width="2" />
<text x="36.5" y="369" font-size="8.3" text-anchor="start" fill="#2a2a2a" >CD4, FOXP3 subset</text>
<text x="73.7" y="378.7" font-size="8.2" text-anchor="middle" fill="#2a2a2a" >12.6</text>
<rect x="64.3" y="386.7" width="21.4" height="31.6" fill="none" stroke="#7a7a7a" stroke-width="1.1"/>
<path d="M70.0,423.4 L69.8,399.5 L72.1,396.8 L75.2,396.0 L77.2,398.0 L78.5,399.5 L78.6,401.7 L79.0,403.9 L79.1,406.1 L78.8,408.3 L79.8,410.5 L79.9,412.7 L79.6,414.9 L78.8,417.1 L79.3,419.3 L79.4,421.5 L79.5,423.4Z" fill="#1a30ff" filter="url(#soft)"/>
<path d="M76.9 421.1h.9v.9h-.9zM78.5 403.4h.9v.9h-.9zM75.6 415.5h.9v.9h-.9zM75.2 412.3h.9v.9h-.9zM70.0 419.0h.9v.9h-.9zM69.7 420.1h.9v.9h-.9zM76.4 414.2h.9v.9h-.9zM75.9 397.3h.9v.9h-.9zM73.3 402.4h.9v.9h-.9zM75.6 415.7h.9v.9h-.9zM77.2 420.3h.9v.9h-.9zM74.6 402.7h.9v.9h-.9zM71.1 420.2h.9v.9h-.9zM75.0 400.9h.9v.9h-.9zM69.8 419.8h.9v.9h-.9zM70.1 416.3h.9v.9h-.9zM77.7 400.6h.9v.9h-.9zM72.8 398.1h.9v.9h-.9zM75.2 413.9h.9v.9h-.9zM74.1 417.7h.9v.9h-.9zM77.7 408.6h.9v.9h-.9zM78.7 401.9h.9v.9h-.9zM69.6 402.2h.9v.9h-.9zM77.0 398.9h.9v.9h-.9zM77.7 412.3h.9v.9h-.9zM70.9 420.8h.9v.9h-.9zM76.2 400.1h.9v.9h-.9zM75.6 401.1h.9v.9h-.9zM78.1 397.0h.9v.9h-.9zM77.0 415.9h.9v.9h-.9zM77.5 408.1h.9v.9h-.9zM70.5 407.5h.9v.9h-.9zM71.2 418.4h.9v.9h-.9zM70.8 406.5h.9v.9h-.9zM78.1 413.0h.9v.9h-.9zM70.7 412.1h.9v.9h-.9zM71.9 405.0h.9v.9h-.9zM77.8 405.5h.9v.9h-.9zM73.7 398.2h.9v.9h-.9zM71.7 414.9h.9v.9h-.9zM78.7 419.4h.9v.9h-.9zM73.9 398.1h.9v.9h-.9zM72.1 402.9h.9v.9h-.9zM73.8 400.4h.9v.9h-.9zM73.3 408.5h.9v.9h-.9zM70.4 414.5h.9v.9h-.9zM72.7 399.7h.9v.9h-.9zM78.9 408.4h.9v.9h-.9zM73.6 418.2h.9v.9h-.9zM74.8 403.3h.9v.9h-.9zM77.6 405.8h.9v.9h-.9zM69.8 407.1h.9v.9h-.9zM70.5 414.7h.9v.9h-.9zM71.6 404.2h.9v.9h-.9zM78.2 410.9h.9v.9h-.9zM73.1 412.3h.9v.9h-.9zM72.6 402.1h.9v.9h-.9zM73.9 411.0h.9v.9h-.9zM79.2 409.1h.9v.9h-.9zM72.7 402.7h.9v.9h-.9zM70.0 414.7h.9v.9h-.9zM71.6 410.5h.9v.9h-.9zM70.1 416.7h.9v.9h-.9zM78.2 416.0h.9v.9h-.9zM72.5 416.9h.9v.9h-.9zM72.7 400.0h.9v.9h-.9zM70.0 402.1h.9v.9h-.9zM77.9 404.6h.9v.9h-.9zM72.3 412.1h.9v.9h-.9zM72.2 421.0h.9v.9h-.9zM77.5 401.0h.9v.9h-.9zM78.3 420.1h.9v.9h-.9zM75.9 411.3h.9v.9h-.9zM70.2 415.5h.9v.9h-.9zM71.8 404.8h.9v.9h-.9zM73.9 396.8h.9v.9h-.9zM76.6 416.0h.9v.9h-.9zM75.1 408.9h.9v.9h-.9zM76.6 403.9h.9v.9h-.9zM74.2 410.5h.9v.9h-.9zM79.2 416.8h.9v.9h-.9zM76.9 410.2h.9v.9h-.9zM74.2 421.0h.9v.9h-.9zM76.0 402.9h.9v.9h-.9zM77.8 412.0h.9v.9h-.9zM79.2 419.1h.9v.9h-.9zM70.5 405.0h.9v.9h-.9zM71.5 419.3h.9v.9h-.9zM76.7 400.8h.9v.9h-.9zM75.3 405.8h.9v.9h-.9zM77.0 404.1h.9v.9h-.9zM78.2 403.2h.9v.9h-.9zM72.8 396.8h.9v.9h-.9zM77.3 415.9h.9v.9h-.9zM69.7 404.2h.9v.9h-.9zM70.8 405.6h.9v.9h-.9zM70.4 407.1h.9v.9h-.9zM76.6 415.8h.9v.9h-.9zM75.6 407.0h.9v.9h-.9zM74.2 410.5h.9v.9h-.9zM72.0 419.2h.9v.9h-.9zM70.6 411.6h.9v.9h-.9zM73.0 417.3h.9v.9h-.9zM73.7 412.1h.9v.9h-.9zM76.5 401.2h.9v.9h-.9zM73.0 398.6h.9v.9h-.9zM74.7 400.2h.9v.9h-.9zM77.9 412.0h.9v.9h-.9zM75.2 404.1h.9v.9h-.9zM78.6 408.2h.9v.9h-.9zM71.6 416.1h.9v.9h-.9zM74.4 397.0h.9v.9h-.9z" fill="#0a1ad0" fill-opacity="0.8"/>
<path d="M73.7 411.6h.9v.9h-.9zM72.0 418.8h.9v.9h-.9zM70.6 408.2h.9v.9h-.9zM71.9 404.1h.9v.9h-.9zM78.2 406.4h.9v.9h-.9zM74.1 397.2h.9v.9h-.9zM74.2 412.0h.9v.9h-.9zM76.6 415.1h.9v.9h-.9zM76.2 417.3h.9v.9h-.9zM78.6 406.0h.9v.9h-.9zM76.2 404.3h.9v.9h-.9zM72.0 403.4h.9v.9h-.9zM71.9 418.6h.9v.9h-.9zM76.8 404.5h.9v.9h-.9zM69.7 419.7h.9v.9h-.9zM77.2 414.3h.9v.9h-.9zM71.4 407.6h.9v.9h-.9zM72.5 416.3h.9v.9h-.9zM76.4 402.3h.9v.9h-.9zM70.8 405.9h.9v.9h-.9zM72.6 412.9h.9v.9h-.9zM78.0 403.7h.9v.9h-.9zM72.1 400.8h.9v.9h-.9zM76.4 414.6h.9v.9h-.9zM75.1 413.0h.9v.9h-.9zM78.7 400.8h.9v.9h-.9zM72.5 408.9h.9v.9h-.9zM70.3 406.7h.9v.9h-.9zM76.1 398.1h.9v.9h-.9zM71.1 398.8h.9v.9h-.9zM76.1 420.7h.9v.9h-.9zM77.4 402.4h.9v.9h-.9zM78.0 398.6h.9v.9h-.9zM69.9 418.3h.9v.9h-.9zM75.7 413.7h.9v.9h-.9zM71.6 404.3h.9v.9h-.9zM77.1 404.6h.9v.9h-.9zM73.9 412.3h.9v.9h-.9zM75.4 409.8h.9v.9h-.9zM76.2 415.5h.9v.9h-.9zM76.0 405.1h.9v.9h-.9zM69.8 418.9h.9v.9h-.9zM73.1 399.9h.9v.9h-.9zM73.1 408.9h.9v.9h-.9zM69.9 418.6h.9v.9h-.9zM70.9 409.5h.9v.9h-.9zM70.2 405.8h.9v.9h-.9zM75.7 420.2h.9v.9h-.9z" fill="#4a64ff" fill-opacity="0.8"/>
<path d="M75.1 395.7h.8v.8h-.8zM71.6 400.1h.8v.8h-.8zM76.9 399.6h.8v.8h-.8zM75.5 399.0h.8v.8h-.8zM78.4 395.1h.8v.8h-.8zM77.0 395.1h.8v.8h-.8zM73.2 398.8h.8v.8h-.8zM74.0 398.6h.8v.8h-.8zM71.0 399.0h.8v.8h-.8zM73.7 400.1h.8v.8h-.8zM74.4 399.3h.8v.8h-.8zM73.1 399.4h.8v.8h-.8zM70.8 397.8h.8v.8h-.8zM71.2 397.4h.8v.8h-.8zM76.1 399.7h.8v.8h-.8zM78.6 397.1h.8v.8h-.8zM78.4 400.2h.8v.8h-.8zM76.3 395.0h.8v.8h-.8zM75.5 398.9h.8v.8h-.8zM78.1 394.6h.8v.8h-.8zM75.5 397.1h.8v.8h-.8zM72.8 399.4h.8v.8h-.8zM78.1 394.7h.8v.8h-.8zM70.9 396.1h.8v.8h-.8zM78.7 395.3h.8v.8h-.8z" fill="#8090ff" fill-opacity="0.8"/>
<rect x="69.4" y="418.4" width="10.8" height="9" rx="3" ry="3" fill="url(#blobC)" filter="url(#soft)"/>
<text x="126.4" y="369" font-size="8.3" text-anchor="start" fill="#2a2a2a" >CD4, FOXP3 subset</text>
<text x="163.6" y="378.7" font-size="8.2" text-anchor="middle" fill="#2a2a2a" >11.1</text>
<rect x="155.2" y="386.7" width="20.5" height="31.6" fill="none" stroke="#7a7a7a" stroke-width="1.1"/>
<path d="M160.0,424.3 L159.8,402.0 L162.6,399.3 L166.3,398.5 L168.7,400.5 L170.4,402.0 L170.1,404.2 L170.3,406.4 L171.6,408.6 L171.5,410.8 L171.4,413.0 L170.8,415.2 L171.1,417.4 L171.6,419.6 L170.0,421.8 L170.3,424.0 L171.4,424.3Z" fill="#1a30ff" filter="url(#soft)"/>
<path d="M171.1 400.3h.9v.9h-.9zM164.3 419.3h.9v.9h-.9zM165.2 410.5h.9v.9h-.9zM164.2 417.1h.9v.9h-.9zM170.3 410.7h.9v.9h-.9zM162.3 405.2h.9v.9h-.9zM163.8 420.6h.9v.9h-.9zM165.6 403.3h.9v.9h-.9zM163.4 399.4h.9v.9h-.9zM160.1 404.3h.9v.9h-.9zM170.2 399.8h.9v.9h-.9zM168.5 412.9h.9v.9h-.9zM166.0 400.0h.9v.9h-.9zM170.8 417.7h.9v.9h-.9zM164.7 416.1h.9v.9h-.9zM162.7 400.1h.9v.9h-.9zM165.5 411.1h.9v.9h-.9zM165.3 401.7h.9v.9h-.9zM163.8 412.8h.9v.9h-.9zM161.3 412.2h.9v.9h-.9zM162.9 420.9h.9v.9h-.9zM170.1 414.7h.9v.9h-.9zM162.4 418.5h.9v.9h-.9zM169.7 418.2h.9v.9h-.9zM160.9 409.4h.9v.9h-.9zM169.5 417.6h.9v.9h-.9zM164.9 415.7h.9v.9h-.9zM164.5 421.6h.9v.9h-.9zM167.6 402.0h.9v.9h-.9zM161.0 416.0h.9v.9h-.9zM162.1 409.2h.9v.9h-.9zM166.6 401.1h.9v.9h-.9zM165.4 403.1h.9v.9h-.9zM163.3 409.4h.9v.9h-.9zM170.9 402.5h.9v.9h-.9zM166.3 404.9h.9v.9h-.9zM167.9 409.4h.9v.9h-.9zM161.8 402.9h.9v.9h-.9zM167.9 419.4h.9v.9h-.9zM168.3 408.2h.9v.9h-.9zM170.9 418.9h.9v.9h-.9zM170.0 417.0h.9v.9h-.9zM167.0 418.3h.9v.9h-.9zM170.9 403.8h.9v.9h-.9zM161.6 403.8h.9v.9h-.9zM168.4 421.9h.9v.9h-.9zM167.8 399.1h.9v.9h-.9zM170.7 403.3h.9v.9h-.9zM166.5 410.6h.9v.9h-.9zM160.1 401.6h.9v.9h-.9zM169.6 412.2h.9v.9h-.9zM166.3 418.2h.9v.9h-.9zM163.5 416.6h.9v.9h-.9zM163.1 418.8h.9v.9h-.9zM160.8 405.9h.9v.9h-.9zM167.4 414.0h.9v.9h-.9zM166.6 405.4h.9v.9h-.9zM170.3 409.2h.9v.9h-.9zM160.9 419.4h.9v.9h-.9zM166.3 408.8h.9v.9h-.9zM169.2 400.0h.9v.9h-.9zM169.2 414.2h.9v.9h-.9zM168.6 413.0h.9v.9h-.9zM165.4 421.5h.9v.9h-.9zM164.3 417.5h.9v.9h-.9zM163.0 411.6h.9v.9h-.9zM161.5 402.1h.9v.9h-.9zM163.1 403.2h.9v.9h-.9zM165.9 411.8h.9v.9h-.9zM166.8 411.9h.9v.9h-.9zM166.6 412.2h.9v.9h-.9zM163.3 419.4h.9v.9h-.9zM160.7 399.4h.9v.9h-.9zM168.7 415.4h.9v.9h-.9zM161.3 406.4h.9v.9h-.9zM163.9 415.2h.9v.9h-.9zM170.2 414.2h.9v.9h-.9zM168.9 409.7h.9v.9h-.9zM167.7 406.1h.9v.9h-.9zM169.7 416.4h.9v.9h-.9zM164.8 412.8h.9v.9h-.9zM168.8 419.6h.9v.9h-.9zM170.1 405.6h.9v.9h-.9zM166.0 408.6h.9v.9h-.9zM169.1 413.5h.9v.9h-.9zM160.2 420.7h.9v.9h-.9zM168.3 415.9h.9v.9h-.9zM169.7 407.8h.9v.9h-.9zM170.7 412.4h.9v.9h-.9zM169.2 399.1h.9v.9h-.9zM170.2 417.3h.9v.9h-.9zM167.1 422.2h.9v.9h-.9zM165.0 420.3h.9v.9h-.9zM163.3 412.3h.9v.9h-.9zM167.0 414.3h.9v.9h-.9zM164.6 404.1h.9v.9h-.9zM163.6 401.9h.9v.9h-.9zM170.6 418.4h.9v.9h-.9zM163.5 404.6h.9v.9h-.9z" fill="#0a1ad0" fill-opacity="0.8"/>
<path d="M166.3 410.6h.9v.9h-.9zM165.5 419.7h.9v.9h-.9zM167.1 419.3h.9v.9h-.9zM164.3 403.9h.9v.9h-.9zM161.2 413.7h.9v.9h-.9zM168.2 415.9h.9v.9h-.9zM170.4 411.1h.9v.9h-.9zM170.2 412.1h.9v.9h-.9zM168.3 410.5h.9v.9h-.9zM163.4 400.2h.9v.9h-.9zM164.6 408.8h.9v.9h-.9zM163.9 408.9h.9v.9h-.9zM159.8 401.1h.9v.9h-.9zM166.4 401.7h.9v.9h-.9zM168.9 400.6h.9v.9h-.9zM168.7 412.5h.9v.9h-.9zM162.5 408.8h.9v.9h-.9zM165.6 416.0h.9v.9h-.9zM163.4 421.2h.9v.9h-.9zM162.5 399.4h.9v.9h-.9zM163.1 403.0h.9v.9h-.9zM164.6 405.1h.9v.9h-.9zM165.6 421.8h.9v.9h-.9zM170.1 402.0h.9v.9h-.9zM165.5 418.1h.9v.9h-.9zM169.1 403.9h.9v.9h-.9zM168.6 418.2h.9v.9h-.9zM168.7 417.4h.9v.9h-.9zM166.1 416.4h.9v.9h-.9zM165.2 403.5h.9v.9h-.9zM168.6 408.3h.9v.9h-.9zM169.4 421.2h.9v.9h-.9zM160.1 421.9h.9v.9h-.9zM166.2 407.9h.9v.9h-.9zM169.5 413.6h.9v.9h-.9zM163.0 411.0h.9v.9h-.9zM163.8 399.7h.9v.9h-.9zM166.0 410.1h.9v.9h-.9zM169.0 406.1h.9v.9h-.9zM168.7 407.6h.9v.9h-.9zM170.3 406.7h.9v.9h-.9zM168.4 420.5h.9v.9h-.9zM165.7 415.6h.9v.9h-.9zM168.3 419.1h.9v.9h-.9zM167.6 413.6h.9v.9h-.9zM160.1 421.5h.9v.9h-.9zM162.5 402.1h.9v.9h-.9zM167.3 402.2h.9v.9h-.9zM165.7 402.6h.9v.9h-.9zM163.1 414.9h.9v.9h-.9zM169.7 407.5h.9v.9h-.9zM161.1 413.5h.9v.9h-.9zM165.7 417.8h.9v.9h-.9zM169.9 399.2h.9v.9h-.9zM165.9 415.4h.9v.9h-.9zM163.5 402.5h.9v.9h-.9zM164.2 418.3h.9v.9h-.9zM169.2 420.2h.9v.9h-.9zM166.3 420.7h.9v.9h-.9zM163.6 413.0h.9v.9h-.9zM170.2 411.6h.9v.9h-.9z" fill="#4a64ff" fill-opacity="0.8"/>
<path d="M161.1 398.6h.8v.8h-.8zM163.5 400.2h.8v.8h-.8zM166.0 401.0h.8v.8h-.8zM163.5 400.6h.8v.8h-.8zM167.3 401.4h.8v.8h-.8zM165.2 401.3h.8v.8h-.8zM163.4 399.8h.8v.8h-.8zM165.1 397.2h.8v.8h-.8zM162.4 400.7h.8v.8h-.8zM169.1 402.2h.8v.8h-.8zM168.5 402.1h.8v.8h-.8zM162.3 399.9h.8v.8h-.8zM167.7 398.6h.8v.8h-.8zM161.7 402.9h.8v.8h-.8zM164.0 397.0h.8v.8h-.8zM166.4 399.1h.8v.8h-.8zM168.8 397.7h.8v.8h-.8zM169.4 399.0h.8v.8h-.8zM163.6 399.0h.8v.8h-.8zM169.9 398.1h.8v.8h-.8zM168.6 400.5h.8v.8h-.8zM165.9 397.4h.8v.8h-.8zM170.1 401.4h.8v.8h-.8zM161.6 402.6h.8v.8h-.8zM170.3 399.2h.8v.8h-.8z" fill="#8090ff" fill-opacity="0.8"/>
<rect x="159.4" y="419.3" width="12.7" height="9" rx="3" ry="3" fill="url(#blobC)" filter="url(#soft)"/>
<text x="214.5" y="369" font-size="8.3" text-anchor="start" fill="#2a2a2a" >CD4, FOXP3 subset</text>
<text x="251.7" y="378.7" font-size="8.2" text-anchor="middle" fill="#2a2a2a" >12.1</text>
<rect x="242.5" y="386.7" width="21.2" height="31.6" fill="none" stroke="#8a8a8a" stroke-width="1.1"/>
<path d="M248.0,423.4 L247.8,400.6 L250.2,397.9 L253.2,397.1 L255.2,399.1 L256.5,400.6 L257.4,402.8 L256.7,405.0 L256.6,407.2 L258.0,409.4 L257.2,411.6 L257.6,413.8 L257.2,416.0 L257.4,418.2 L257.6,420.4 L257.4,422.6 L257.5,423.4Z" fill="#1a30ff" filter="url(#soft)"/>
<path d="M250.1 418.5h.9v.9h-.9zM247.8 405.8h.9v.9h-.9zM248.5 413.1h.9v.9h-.9zM254.3 399.3h.9v.9h-.9zM255.3 421.3h.9v.9h-.9zM249.9 408.3h.9v.9h-.9zM252.8 419.6h.9v.9h-.9zM255.2 408.9h.9v.9h-.9zM253.0 407.3h.9v.9h-.9zM253.2 410.4h.9v.9h-.9zM255.6 416.6h.9v.9h-.9zM254.5 399.8h.9v.9h-.9zM256.1 418.1h.9v.9h-.9zM257.1 414.6h.9v.9h-.9zM251.1 411.9h.9v.9h-.9zM250.2 399.0h.9v.9h-.9zM257.1 411.6h.9v.9h-.9zM253.8 419.8h.9v.9h-.9zM249.8 400.2h.9v.9h-.9zM248.7 411.5h.9v.9h-.9zM252.2 405.1h.9v.9h-.9zM252.2 416.5h.9v.9h-.9zM255.3 405.3h.9v.9h-.9zM254.2 410.3h.9v.9h-.9zM256.5 408.4h.9v.9h-.9zM249.9 399.3h.9v.9h-.9zM252.2 415.6h.9v.9h-.9zM248.9 406.6h.9v.9h-.9zM256.6 409.4h.9v.9h-.9zM254.8 412.6h.9v.9h-.9zM255.5 408.2h.9v.9h-.9zM256.0 413.1h.9v.9h-.9zM255.7 403.0h.9v.9h-.9zM250.6 399.2h.9v.9h-.9zM251.8 398.5h.9v.9h-.9zM256.7 421.0h.9v.9h-.9zM255.9 402.4h.9v.9h-.9zM252.9 412.4h.9v.9h-.9zM256.3 402.4h.9v.9h-.9zM254.1 399.0h.9v.9h-.9zM255.4 412.1h.9v.9h-.9zM254.8 417.5h.9v.9h-.9zM254.4 415.1h.9v.9h-.9zM250.4 408.7h.9v.9h-.9zM255.1 398.0h.9v.9h-.9zM255.5 419.1h.9v.9h-.9zM255.7 409.0h.9v.9h-.9zM248.8 416.4h.9v.9h-.9zM252.6 417.3h.9v.9h-.9zM256.9 419.7h.9v.9h-.9zM249.9 401.8h.9v.9h-.9zM250.9 405.3h.9v.9h-.9zM247.7 404.8h.9v.9h-.9zM256.7 408.3h.9v.9h-.9zM248.5 406.8h.9v.9h-.9zM248.8 405.0h.9v.9h-.9zM253.1 403.0h.9v.9h-.9zM253.7 418.2h.9v.9h-.9zM256.9 408.3h.9v.9h-.9zM248.8 416.5h.9v.9h-.9zM247.8 400.7h.9v.9h-.9zM252.9 401.4h.9v.9h-.9zM249.6 406.7h.9v.9h-.9zM254.2 417.0h.9v.9h-.9zM250.2 400.8h.9v.9h-.9zM247.8 405.3h.9v.9h-.9zM252.4 415.2h.9v.9h-.9zM248.4 413.1h.9v.9h-.9zM249.6 408.5h.9v.9h-.9zM257.2 408.4h.9v.9h-.9zM253.4 402.1h.9v.9h-.9zM254.0 410.2h.9v.9h-.9zM256.0 417.5h.9v.9h-.9zM255.1 399.4h.9v.9h-.9zM255.5 418.1h.9v.9h-.9zM249.5 404.2h.9v.9h-.9zM254.1 411.3h.9v.9h-.9zM251.6 403.6h.9v.9h-.9zM249.4 416.6h.9v.9h-.9zM249.6 420.3h.9v.9h-.9zM248.3 401.1h.9v.9h-.9zM248.6 415.6h.9v.9h-.9zM254.3 421.3h.9v.9h-.9zM256.6 416.7h.9v.9h-.9zM255.0 420.7h.9v.9h-.9zM251.5 401.5h.9v.9h-.9zM252.3 414.5h.9v.9h-.9zM250.2 407.4h.9v.9h-.9zM254.1 403.9h.9v.9h-.9zM248.0 414.2h.9v.9h-.9zM247.9 406.1h.9v.9h-.9zM255.7 401.5h.9v.9h-.9zM252.3 400.1h.9v.9h-.9zM251.9 418.6h.9v.9h-.9zM250.3 409.0h.9v.9h-.9zM248.9 406.8h.9v.9h-.9zM248.4 412.5h.9v.9h-.9zM251.0 404.3h.9v.9h-.9zM247.7 416.5h.9v.9h-.9zM256.4 420.6h.9v.9h-.9zM253.2 408.1h.9v.9h-.9z" fill="#0a1ad0" fill-opacity="0.8"/>
<path d="M251.2 403.7h.9v.9h-.9zM252.9 399.0h.9v.9h-.9zM256.9 399.9h.9v.9h-.9zM250.9 419.9h.9v.9h-.9zM257.1 399.6h.9v.9h-.9zM251.6 402.0h.9v.9h-.9zM249.5 404.6h.9v.9h-.9zM251.9 400.6h.9v.9h-.9zM248.4 417.9h.9v.9h-.9zM256.3 410.7h.9v.9h-.9zM251.2 401.4h.9v.9h-.9zM252.4 409.6h.9v.9h-.9zM252.1 401.9h.9v.9h-.9zM251.5 408.8h.9v.9h-.9zM249.6 405.3h.9v.9h-.9zM254.8 420.3h.9v.9h-.9zM256.9 398.2h.9v.9h-.9zM256.5 421.2h.9v.9h-.9zM249.1 411.6h.9v.9h-.9zM252.1 414.6h.9v.9h-.9zM256.5 404.0h.9v.9h-.9zM255.9 410.1h.9v.9h-.9zM256.1 406.9h.9v.9h-.9zM249.7 407.0h.9v.9h-.9zM247.6 405.3h.9v.9h-.9zM255.1 407.5h.9v.9h-.9zM257.2 411.4h.9v.9h-.9zM254.0 405.8h.9v.9h-.9zM252.4 421.3h.9v.9h-.9zM251.6 405.6h.9v.9h-.9zM255.8 405.0h.9v.9h-.9zM249.8 406.8h.9v.9h-.9zM248.4 418.2h.9v.9h-.9zM249.6 412.3h.9v.9h-.9zM256.2 400.6h.9v.9h-.9zM250.9 403.3h.9v.9h-.9zM250.5 399.0h.9v.9h-.9zM250.5 403.0h.9v.9h-.9zM253.2 413.4h.9v.9h-.9zM247.6 406.3h.9v.9h-.9zM254.7 421.2h.9v.9h-.9zM248.8 418.8h.9v.9h-.9zM253.6 405.2h.9v.9h-.9zM248.7 408.2h.9v.9h-.9zM249.1 418.2h.9v.9h-.9zM252.7 412.8h.9v.9h-.9zM249.6 415.5h.9v.9h-.9zM250.7 414.1h.9v.9h-.9zM249.7 399.7h.9v.9h-.9zM247.8 419.7h.9v.9h-.9zM253.1 399.8h.9v.9h-.9zM253.3 403.3h.9v.9h-.9zM251.2 420.5h.9v.9h-.9zM251.7 407.0h.9v.9h-.9zM252.8 415.9h.9v.9h-.9zM252.1 407.9h.9v.9h-.9zM257.3 421.2h.9v.9h-.9zM251.6 405.2h.9v.9h-.9zM251.3 407.1h.9v.9h-.9z" fill="#4a64ff" fill-opacity="0.8"/>
<path d="M253.5 399.5h.8v.8h-.8zM251.3 400.6h.8v.8h-.8zM256.4 395.8h.8v.8h-.8zM253.4 398.8h.8v.8h-.8zM254.7 396.0h.8v.8h-.8zM253.8 397.8h.8v.8h-.8zM256.1 397.3h.8v.8h-.8zM250.8 397.8h.8v.8h-.8zM250.4 401.0h.8v.8h-.8zM252.6 397.2h.8v.8h-.8zM249.5 401.5h.8v.8h-.8zM255.1 396.9h.8v.8h-.8zM252.0 396.1h.8v.8h-.8zM254.4 400.3h.8v.8h-.8zM249.6 400.4h.8v.8h-.8zM251.5 400.9h.8v.8h-.8zM252.4 400.5h.8v.8h-.8zM252.5 400.9h.8v.8h-.8zM249.8 397.1h.8v.8h-.8zM249.0 398.6h.8v.8h-.8zM255.7 396.6h.8v.8h-.8zM255.6 399.0h.8v.8h-.8zM252.5 396.5h.8v.8h-.8zM249.5 398.4h.8v.8h-.8zM256.1 397.2h.8v.8h-.8z" fill="#8090ff" fill-opacity="0.8"/>
<rect x="247.4" y="418.4" width="10.8" height="9" rx="3" ry="3" fill="url(#blobC)" filter="url(#soft)"/>
<text x="36.6" y="456.9" font-size="8.3" text-anchor="start" fill="#2a2a2a" >CD4, FOXP3 subset</text>
<text x="73.8" y="466.6" font-size="8.2" text-anchor="middle" fill="#2a2a2a" >18.3</text>
<rect x="64.3" y="474.7" width="21.4" height="31.6" fill="none" stroke="#7a7a7a" stroke-width="1.1"/>
<path d="M70.0,511.8 L69.8,487.2 L72.2,484.5 L75.3,483.7 L77.4,485.7 L78.9,487.2 L78.9,489.4 L79.3,491.6 L79.9,493.8 L80.2,496.0 L79.8,498.2 L79.1,500.4 L80.2,502.6 L79.1,504.8 L79.0,507.0 L78.6,509.2 L78.9,511.4 L79.7,511.8Z" fill="#1a30ff" filter="url(#soft)"/>
<path d="M74.1 499.1h.9v.9h-.9zM72.4 493.0h.9v.9h-.9zM79.3 507.8h.9v.9h-.9zM72.1 490.1h.9v.9h-.9zM76.9 490.8h.9v.9h-.9zM74.6 487.7h.9v.9h-.9zM74.1 507.0h.9v.9h-.9zM72.8 492.2h.9v.9h-.9zM71.4 504.3h.9v.9h-.9zM70.2 496.6h.9v.9h-.9zM78.7 495.0h.9v.9h-.9zM70.6 503.2h.9v.9h-.9zM70.5 485.4h.9v.9h-.9zM76.7 493.3h.9v.9h-.9zM75.3 486.7h.9v.9h-.9zM70.5 505.6h.9v.9h-.9zM70.8 501.9h.9v.9h-.9zM79.2 500.5h.9v.9h-.9zM70.8 506.3h.9v.9h-.9zM72.0 508.7h.9v.9h-.9zM71.7 487.2h.9v.9h-.9zM69.7 484.5h.9v.9h-.9zM72.2 490.9h.9v.9h-.9zM72.9 486.6h.9v.9h-.9zM75.6 498.6h.9v.9h-.9zM71.5 488.8h.9v.9h-.9zM74.7 503.9h.9v.9h-.9zM71.4 486.8h.9v.9h-.9zM70.7 486.2h.9v.9h-.9zM73.3 502.9h.9v.9h-.9zM70.3 507.5h.9v.9h-.9zM73.2 506.1h.9v.9h-.9zM75.4 505.7h.9v.9h-.9zM74.9 490.9h.9v.9h-.9zM70.7 486.6h.9v.9h-.9zM74.9 497.3h.9v.9h-.9zM77.6 494.1h.9v.9h-.9zM72.1 493.3h.9v.9h-.9zM78.9 507.3h.9v.9h-.9zM75.7 491.9h.9v.9h-.9zM71.2 501.7h.9v.9h-.9zM70.5 490.1h.9v.9h-.9zM70.6 499.2h.9v.9h-.9zM78.1 497.4h.9v.9h-.9zM75.3 500.6h.9v.9h-.9zM78.7 498.4h.9v.9h-.9zM73.1 484.7h.9v.9h-.9zM78.9 496.1h.9v.9h-.9zM72.8 494.3h.9v.9h-.9zM78.8 496.4h.9v.9h-.9zM70.0 497.0h.9v.9h-.9zM69.8 497.5h.9v.9h-.9zM70.8 485.3h.9v.9h-.9zM79.2 508.8h.9v.9h-.9zM77.6 496.1h.9v.9h-.9zM69.7 502.2h.9v.9h-.9zM71.4 498.9h.9v.9h-.9zM71.0 489.7h.9v.9h-.9zM73.2 493.9h.9v.9h-.9zM75.2 489.9h.9v.9h-.9zM74.9 492.1h.9v.9h-.9zM77.1 493.9h.9v.9h-.9zM70.4 492.0h.9v.9h-.9zM79.5 488.0h.9v.9h-.9zM77.5 495.2h.9v.9h-.9zM76.2 496.3h.9v.9h-.9zM74.2 505.6h.9v.9h-.9zM75.1 494.0h.9v.9h-.9zM73.4 501.5h.9v.9h-.9zM74.4 493.7h.9v.9h-.9zM78.0 505.6h.9v.9h-.9zM73.7 490.7h.9v.9h-.9zM74.0 497.3h.9v.9h-.9zM76.2 485.8h.9v.9h-.9zM70.2 504.8h.9v.9h-.9zM78.5 508.2h.9v.9h-.9zM74.7 491.3h.9v.9h-.9zM79.1 497.0h.9v.9h-.9zM72.3 493.5h.9v.9h-.9zM75.5 502.6h.9v.9h-.9zM79.3 489.7h.9v.9h-.9zM74.8 499.8h.9v.9h-.9zM72.8 507.1h.9v.9h-.9zM70.3 501.0h.9v.9h-.9zM79.2 496.3h.9v.9h-.9zM71.7 499.0h.9v.9h-.9zM76.9 498.6h.9v.9h-.9zM78.2 487.5h.9v.9h-.9zM77.4 505.3h.9v.9h-.9zM75.1 504.4h.9v.9h-.9zM70.2 485.7h.9v.9h-.9zM75.3 502.9h.9v.9h-.9zM73.4 493.4h.9v.9h-.9zM75.8 497.8h.9v.9h-.9zM74.8 491.3h.9v.9h-.9zM77.5 497.2h.9v.9h-.9zM73.6 485.3h.9v.9h-.9zM77.1 495.0h.9v.9h-.9zM71.5 507.8h.9v.9h-.9zM76.3 485.2h.9v.9h-.9zM78.9 488.8h.9v.9h-.9zM74.9 489.7h.9v.9h-.9zM76.2 491.4h.9v.9h-.9zM72.9 500.5h.9v.9h-.9zM79.2 500.0h.9v.9h-.9zM70.7 486.4h.9v.9h-.9z" fill="#0a1ad0" fill-opacity="0.8"/>
<path d="M71.7 484.4h.9v.9h-.9zM73.6 508.6h.9v.9h-.9zM79.1 504.0h.9v.9h-.9zM70.8 505.2h.9v.9h-.9zM71.9 492.8h.9v.9h-.9zM70.9 484.3h.9v.9h-.9zM79.1 493.3h.9v.9h-.9zM73.4 496.1h.9v.9h-.9zM71.4 500.5h.9v.9h-.9zM69.8 502.5h.9v.9h-.9zM74.2 505.2h.9v.9h-.9zM75.4 492.1h.9v.9h-.9zM78.1 484.8h.9v.9h-.9zM69.8 486.4h.9v.9h-.9zM69.9 486.4h.9v.9h-.9zM70.6 494.0h.9v.9h-.9zM71.2 498.2h.9v.9h-.9zM79.5 505.7h.9v.9h-.9zM71.4 501.5h.9v.9h-.9zM78.0 508.2h.9v.9h-.9zM78.9 495.5h.9v.9h-.9zM78.5 507.6h.9v.9h-.9zM76.1 485.4h.9v.9h-.9zM78.2 486.1h.9v.9h-.9zM78.6 492.4h.9v.9h-.9zM71.0 502.9h.9v.9h-.9zM76.1 492.6h.9v.9h-.9zM74.4 488.2h.9v.9h-.9zM72.2 509.1h.9v.9h-.9zM76.5 485.4h.9v.9h-.9zM71.4 497.6h.9v.9h-.9zM75.2 506.0h.9v.9h-.9zM78.6 509.7h.9v.9h-.9zM77.6 491.4h.9v.9h-.9zM79.3 488.3h.9v.9h-.9zM77.8 491.0h.9v.9h-.9zM77.1 498.4h.9v.9h-.9zM74.4 501.8h.9v.9h-.9zM76.4 493.4h.9v.9h-.9zM72.5 486.7h.9v.9h-.9zM79.0 486.0h.9v.9h-.9zM75.1 504.3h.9v.9h-.9zM76.7 489.0h.9v.9h-.9zM75.0 502.5h.9v.9h-.9zM74.4 486.0h.9v.9h-.9zM72.5 504.2h.9v.9h-.9zM77.7 498.2h.9v.9h-.9zM71.6 509.8h.9v.9h-.9zM76.6 506.1h.9v.9h-.9zM78.0 498.3h.9v.9h-.9zM72.8 502.4h.9v.9h-.9zM70.2 506.1h.9v.9h-.9zM70.9 489.1h.9v.9h-.9zM75.1 495.9h.9v.9h-.9z" fill="#4a64ff" fill-opacity="0.8"/>
<path d="M75.7 484.3h.8v.8h-.8zM76.9 487.5h.8v.8h-.8zM77.6 483.6h.8v.8h-.8zM77.5 487.0h.8v.8h-.8zM76.4 485.0h.8v.8h-.8zM76.9 486.7h.8v.8h-.8zM71.2 482.7h.8v.8h-.8zM77.8 485.2h.8v.8h-.8zM75.1 486.8h.8v.8h-.8zM77.7 486.6h.8v.8h-.8zM78.4 485.1h.8v.8h-.8zM71.2 482.9h.8v.8h-.8zM71.1 484.6h.8v.8h-.8zM73.2 487.6h.8v.8h-.8zM78.8 488.2h.8v.8h-.8zM77.8 482.3h.8v.8h-.8zM78.0 482.6h.8v.8h-.8zM73.7 483.6h.8v.8h-.8zM74.4 488.0h.8v.8h-.8zM74.2 483.2h.8v.8h-.8zM72.2 487.3h.8v.8h-.8zM73.0 484.4h.8v.8h-.8zM73.2 483.8h.8v.8h-.8zM75.4 483.0h.8v.8h-.8zM74.7 486.2h.8v.8h-.8z" fill="#8090ff" fill-opacity="0.8"/>
<rect x="69.4" y="506.8" width="11" height="9" rx="3" ry="3" fill="url(#blobC)" filter="url(#soft)"/>
<text x="125.2" y="456.9" font-size="8.3" text-anchor="start" fill="#2a2a2a" >CD4, FOXP3 subset</text>
<text x="162.4" y="466.6" font-size="8.2" text-anchor="middle" fill="#2a2a2a" >15.6</text>
<rect x="154.2" y="474.7" width="20.1" height="31.6" fill="none" stroke="#6a6a6a" stroke-width="1.1"/>
<path d="M158.9,511.8 L158.7,486.3 L161.1,483.6 L164.1,482.8 L166.1,484.8 L166.9,486.3 L167.3,488.5 L167.8,490.7 L168.2,492.9 L168.6,495.1 L168.8,497.3 L168.6,499.5 L167.7,501.7 L167.7,503.9 L168.6,506.1 L167.4,508.3 L168.0,510.5 L168.4,511.8Z" fill="#1a30ff" filter="url(#soft)"/>
<path d="M164.8 503.4h.9v.9h-.9zM161.5 488.2h.9v.9h-.9zM164.6 489.5h.9v.9h-.9zM159.6 496.5h.9v.9h-.9zM161.9 498.7h.9v.9h-.9zM165.6 484.2h.9v.9h-.9zM163.4 509.5h.9v.9h-.9zM163.6 500.8h.9v.9h-.9zM166.2 494.2h.9v.9h-.9zM167.7 489.0h.9v.9h-.9zM162.4 489.0h.9v.9h-.9zM163.0 498.8h.9v.9h-.9zM159.3 496.1h.9v.9h-.9zM163.3 489.6h.9v.9h-.9zM167.7 509.0h.9v.9h-.9zM158.7 497.4h.9v.9h-.9zM166.3 505.6h.9v.9h-.9zM161.3 508.0h.9v.9h-.9zM163.7 500.6h.9v.9h-.9zM158.6 484.1h.9v.9h-.9zM163.6 499.3h.9v.9h-.9zM167.0 485.6h.9v.9h-.9zM166.2 507.8h.9v.9h-.9zM162.5 486.2h.9v.9h-.9zM165.2 494.2h.9v.9h-.9zM163.8 503.5h.9v.9h-.9zM165.8 488.2h.9v.9h-.9zM166.8 496.0h.9v.9h-.9zM162.5 489.7h.9v.9h-.9zM162.6 493.7h.9v.9h-.9zM162.7 506.5h.9v.9h-.9zM164.9 492.9h.9v.9h-.9zM160.6 503.7h.9v.9h-.9zM163.8 490.9h.9v.9h-.9zM159.1 488.8h.9v.9h-.9zM167.5 492.7h.9v.9h-.9zM158.9 497.0h.9v.9h-.9zM167.3 491.4h.9v.9h-.9zM166.6 498.1h.9v.9h-.9zM166.3 499.2h.9v.9h-.9zM161.2 494.3h.9v.9h-.9zM163.6 483.9h.9v.9h-.9zM162.1 499.7h.9v.9h-.9zM165.4 485.3h.9v.9h-.9zM166.6 487.8h.9v.9h-.9zM167.8 484.3h.9v.9h-.9zM165.3 485.2h.9v.9h-.9zM165.8 487.6h.9v.9h-.9zM160.6 501.8h.9v.9h-.9zM163.1 485.5h.9v.9h-.9zM160.2 505.7h.9v.9h-.9zM160.6 487.5h.9v.9h-.9zM159.2 483.9h.9v.9h-.9zM166.5 498.5h.9v.9h-.9zM161.3 492.8h.9v.9h-.9zM160.7 490.2h.9v.9h-.9zM166.4 487.3h.9v.9h-.9zM161.7 502.2h.9v.9h-.9zM163.9 496.9h.9v.9h-.9zM163.2 501.8h.9v.9h-.9zM167.2 489.4h.9v.9h-.9zM158.5 503.1h.9v.9h-.9zM163.1 508.8h.9v.9h-.9zM163.9 496.8h.9v.9h-.9zM166.4 485.2h.9v.9h-.9zM165.4 491.4h.9v.9h-.9zM159.2 506.7h.9v.9h-.9zM162.3 488.5h.9v.9h-.9zM160.6 496.8h.9v.9h-.9zM160.0 496.4h.9v.9h-.9zM162.8 483.5h.9v.9h-.9zM163.0 488.8h.9v.9h-.9zM162.9 490.9h.9v.9h-.9zM166.2 484.2h.9v.9h-.9zM161.0 506.3h.9v.9h-.9zM158.6 492.5h.9v.9h-.9zM161.1 483.4h.9v.9h-.9zM165.1 508.7h.9v.9h-.9zM165.5 507.2h.9v.9h-.9zM160.7 506.0h.9v.9h-.9zM162.7 504.6h.9v.9h-.9zM160.8 486.9h.9v.9h-.9zM163.9 485.4h.9v.9h-.9zM165.8 486.7h.9v.9h-.9zM164.1 503.2h.9v.9h-.9zM167.8 490.2h.9v.9h-.9zM165.9 506.9h.9v.9h-.9zM167.8 498.9h.9v.9h-.9zM165.0 503.9h.9v.9h-.9zM162.3 499.4h.9v.9h-.9zM161.2 506.9h.9v.9h-.9zM167.4 505.8h.9v.9h-.9zM168.1 509.2h.9v.9h-.9zM166.7 496.5h.9v.9h-.9zM158.6 496.6h.9v.9h-.9zM164.0 505.6h.9v.9h-.9zM163.4 505.1h.9v.9h-.9zM166.3 484.4h.9v.9h-.9zM161.4 500.5h.9v.9h-.9zM159.0 485.5h.9v.9h-.9zM165.8 504.3h.9v.9h-.9zM160.7 501.1h.9v.9h-.9z" fill="#0a1ad0" fill-opacity="0.8"/>
<path d="M160.0 484.8h.9v.9h-.9zM168.0 496.8h.9v.9h-.9zM168.0 491.8h.9v.9h-.9zM162.6 498.1h.9v.9h-.9zM162.2 497.9h.9v.9h-.9zM166.0 508.2h.9v.9h-.9zM162.2 505.6h.9v.9h-.9zM165.0 484.7h.9v.9h-.9zM160.1 483.9h.9v.9h-.9zM159.6 508.9h.9v.9h-.9zM160.2 501.9h.9v.9h-.9zM161.4 508.5h.9v.9h-.9zM162.1 484.5h.9v.9h-.9zM165.9 505.2h.9v.9h-.9zM162.1 485.7h.9v.9h-.9zM167.7 498.0h.9v.9h-.9zM162.8 504.0h.9v.9h-.9zM164.4 493.2h.9v.9h-.9zM167.0 497.6h.9v.9h-.9zM164.4 488.8h.9v.9h-.9zM161.6 507.6h.9v.9h-.9zM163.5 486.3h.9v.9h-.9zM165.7 491.5h.9v.9h-.9zM166.0 488.1h.9v.9h-.9zM160.3 488.1h.9v.9h-.9zM160.0 503.0h.9v.9h-.9zM163.5 503.6h.9v.9h-.9zM165.6 483.6h.9v.9h-.9zM162.1 509.4h.9v.9h-.9zM159.6 495.1h.9v.9h-.9zM164.0 507.0h.9v.9h-.9zM160.4 489.1h.9v.9h-.9zM160.8 500.1h.9v.9h-.9zM164.2 508.2h.9v.9h-.9zM160.0 509.7h.9v.9h-.9zM165.8 490.4h.9v.9h-.9zM159.6 500.0h.9v.9h-.9zM166.3 489.9h.9v.9h-.9zM165.6 498.5h.9v.9h-.9zM164.5 508.9h.9v.9h-.9zM165.2 501.8h.9v.9h-.9zM160.3 500.2h.9v.9h-.9zM162.9 493.2h.9v.9h-.9zM166.3 485.4h.9v.9h-.9zM165.4 503.3h.9v.9h-.9zM164.1 504.2h.9v.9h-.9zM159.8 495.2h.9v.9h-.9zM162.3 499.7h.9v.9h-.9zM166.8 500.7h.9v.9h-.9zM168.1 488.1h.9v.9h-.9zM162.1 490.9h.9v.9h-.9zM167.0 486.1h.9v.9h-.9zM166.4 486.8h.9v.9h-.9zM164.7 507.1h.9v.9h-.9zM158.7 502.0h.9v.9h-.9zM165.3 486.9h.9v.9h-.9zM167.4 489.2h.9v.9h-.9zM159.4 484.5h.9v.9h-.9z" fill="#4a64ff" fill-opacity="0.8"/>
<path d="M162.7 487.1h.8v.8h-.8zM164.8 487.2h.8v.8h-.8zM160.9 486.2h.8v.8h-.8zM164.6 483.3h.8v.8h-.8zM161.2 487.1h.8v.8h-.8zM165.6 484.9h.8v.8h-.8zM161.7 484.6h.8v.8h-.8zM166.1 482.6h.8v.8h-.8zM162.7 484.0h.8v.8h-.8zM166.2 485.3h.8v.8h-.8zM163.8 482.2h.8v.8h-.8zM165.3 485.5h.8v.8h-.8zM166.9 481.7h.8v.8h-.8zM163.2 487.0h.8v.8h-.8zM159.6 481.3h.8v.8h-.8zM163.0 481.6h.8v.8h-.8zM162.8 485.8h.8v.8h-.8zM161.3 483.0h.8v.8h-.8zM163.3 487.1h.8v.8h-.8zM162.0 482.8h.8v.8h-.8zM163.6 484.5h.8v.8h-.8zM165.8 483.2h.8v.8h-.8zM166.3 483.1h.8v.8h-.8zM160.4 484.4h.8v.8h-.8zM165.2 486.4h.8v.8h-.8z" fill="#8090ff" fill-opacity="0.8"/>
<rect x="158.3" y="506.8" width="10.8" height="9" rx="3" ry="3" fill="url(#blobC)" filter="url(#soft)"/>
<text x="214.5" y="456.9" font-size="8.3" text-anchor="start" fill="#2a2a2a" >CD4, FOXP3 subset</text>
<text x="251.7" y="466.6" font-size="8.2" text-anchor="middle" fill="#2a2a2a" >14.8</text>
<rect x="243.2" y="474.7" width="20.2" height="31.6" fill="none" stroke="#8a8a8a" stroke-width="1.1"/>
<path d="M248.0,511.8 L247.8,489.6 L250.4,486.9 L253.7,486.1 L255.9,488.1 L257.2,489.6 L257.7,491.8 L257.8,494.0 L257.9,496.2 L258.6,498.4 L258.2,500.6 L258.2,502.8 L258.3,505.0 L257.9,507.2 L258.4,509.4 L257.0,511.6 L258.4,511.8Z" fill="#1a30ff" filter="url(#soft)"/>
<path d="M250.9 487.9h.9v.9h-.9zM251.9 501.8h.9v.9h-.9zM247.7 494.0h.9v.9h-.9zM250.7 507.0h.9v.9h-.9zM251.9 492.4h.9v.9h-.9zM248.5 491.9h.9v.9h-.9zM248.4 500.3h.9v.9h-.9zM250.2 490.3h.9v.9h-.9zM253.4 487.5h.9v.9h-.9zM256.6 491.5h.9v.9h-.9zM255.9 507.9h.9v.9h-.9zM251.6 489.9h.9v.9h-.9zM255.4 489.5h.9v.9h-.9zM247.9 508.1h.9v.9h-.9zM255.7 498.6h.9v.9h-.9zM249.6 509.0h.9v.9h-.9zM251.1 496.2h.9v.9h-.9zM254.8 491.6h.9v.9h-.9zM248.6 491.6h.9v.9h-.9zM254.5 500.7h.9v.9h-.9zM247.9 506.2h.9v.9h-.9zM249.0 504.1h.9v.9h-.9zM253.9 500.1h.9v.9h-.9zM253.9 504.5h.9v.9h-.9zM250.8 509.8h.9v.9h-.9zM248.5 507.7h.9v.9h-.9zM256.7 502.1h.9v.9h-.9zM253.8 507.4h.9v.9h-.9zM249.8 494.5h.9v.9h-.9zM256.8 490.7h.9v.9h-.9zM247.6 501.9h.9v.9h-.9zM248.8 488.0h.9v.9h-.9zM254.7 489.2h.9v.9h-.9zM258.1 495.2h.9v.9h-.9zM257.7 499.4h.9v.9h-.9zM253.3 489.2h.9v.9h-.9zM250.3 508.3h.9v.9h-.9zM250.3 500.6h.9v.9h-.9zM253.4 493.5h.9v.9h-.9zM248.5 499.7h.9v.9h-.9zM250.6 500.0h.9v.9h-.9zM250.2 503.6h.9v.9h-.9zM249.6 487.0h.9v.9h-.9zM257.4 493.8h.9v.9h-.9zM256.8 487.1h.9v.9h-.9zM256.6 497.0h.9v.9h-.9zM254.5 491.0h.9v.9h-.9zM249.2 504.6h.9v.9h-.9zM249.9 494.7h.9v.9h-.9zM257.6 507.5h.9v.9h-.9zM249.4 493.1h.9v.9h-.9zM252.8 506.7h.9v.9h-.9zM250.9 499.7h.9v.9h-.9zM257.6 495.9h.9v.9h-.9zM257.7 494.9h.9v.9h-.9zM253.5 498.8h.9v.9h-.9zM255.9 508.7h.9v.9h-.9zM248.0 494.5h.9v.9h-.9zM252.4 489.6h.9v.9h-.9zM257.4 488.7h.9v.9h-.9zM256.6 503.2h.9v.9h-.9zM254.0 488.0h.9v.9h-.9zM250.1 500.3h.9v.9h-.9zM248.7 505.2h.9v.9h-.9zM255.0 494.3h.9v.9h-.9zM251.1 498.7h.9v.9h-.9zM249.5 502.6h.9v.9h-.9zM252.8 505.0h.9v.9h-.9zM257.0 509.3h.9v.9h-.9zM247.7 491.8h.9v.9h-.9zM251.9 508.2h.9v.9h-.9zM254.9 488.3h.9v.9h-.9zM249.4 498.6h.9v.9h-.9zM250.5 496.7h.9v.9h-.9zM249.1 509.7h.9v.9h-.9zM247.8 508.2h.9v.9h-.9zM254.8 488.6h.9v.9h-.9zM254.7 489.0h.9v.9h-.9zM248.1 505.3h.9v.9h-.9zM249.5 496.4h.9v.9h-.9zM248.6 500.1h.9v.9h-.9zM257.4 488.1h.9v.9h-.9zM249.2 487.2h.9v.9h-.9zM250.3 491.4h.9v.9h-.9zM249.7 506.3h.9v.9h-.9zM254.7 493.9h.9v.9h-.9zM252.7 487.8h.9v.9h-.9zM249.5 500.9h.9v.9h-.9zM254.7 506.1h.9v.9h-.9zM253.9 500.0h.9v.9h-.9zM250.5 494.6h.9v.9h-.9zM257.3 488.1h.9v.9h-.9zM248.2 492.1h.9v.9h-.9zM252.5 493.3h.9v.9h-.9zM250.4 499.6h.9v.9h-.9zM256.2 504.0h.9v.9h-.9zM255.1 492.5h.9v.9h-.9zM255.8 494.9h.9v.9h-.9zM255.1 493.5h.9v.9h-.9zM249.4 491.3h.9v.9h-.9zM251.1 504.6h.9v.9h-.9zM249.1 506.2h.9v.9h-.9zM250.5 496.7h.9v.9h-.9zM257.2 499.6h.9v.9h-.9zM256.6 495.8h.9v.9h-.9z" fill="#0a1ad0" fill-opacity="0.8"/>
<path d="M252.8 502.0h.9v.9h-.9zM256.4 487.2h.9v.9h-.9zM254.5 509.0h.9v.9h-.9zM255.4 501.3h.9v.9h-.9zM256.2 503.9h.9v.9h-.9zM248.3 490.1h.9v.9h-.9zM255.9 488.9h.9v.9h-.9zM257.0 493.3h.9v.9h-.9zM248.6 487.6h.9v.9h-.9zM254.9 495.3h.9v.9h-.9zM249.2 502.9h.9v.9h-.9zM253.8 504.6h.9v.9h-.9zM255.7 492.6h.9v.9h-.9zM254.3 487.6h.9v.9h-.9zM249.3 497.1h.9v.9h-.9zM253.1 495.0h.9v.9h-.9zM257.9 496.3h.9v.9h-.9zM256.6 487.3h.9v.9h-.9zM248.9 506.2h.9v.9h-.9zM257.3 497.1h.9v.9h-.9zM257.0 496.0h.9v.9h-.9zM253.4 490.0h.9v.9h-.9zM250.4 508.2h.9v.9h-.9zM254.2 486.9h.9v.9h-.9zM250.6 507.6h.9v.9h-.9zM255.6 501.3h.9v.9h-.9zM257.5 503.0h.9v.9h-.9zM251.6 490.8h.9v.9h-.9zM250.8 489.3h.9v.9h-.9zM250.1 494.1h.9v.9h-.9zM253.7 487.6h.9v.9h-.9zM248.4 500.6h.9v.9h-.9zM248.7 489.6h.9v.9h-.9zM251.6 503.7h.9v.9h-.9zM251.3 488.9h.9v.9h-.9zM248.3 509.1h.9v.9h-.9zM251.8 486.9h.9v.9h-.9zM249.5 502.5h.9v.9h-.9zM257.7 505.6h.9v.9h-.9zM250.1 501.1h.9v.9h-.9zM256.8 495.0h.9v.9h-.9zM256.3 503.1h.9v.9h-.9zM253.3 496.3h.9v.9h-.9zM257.3 504.3h.9v.9h-.9zM247.7 508.1h.9v.9h-.9zM254.3 489.3h.9v.9h-.9zM250.9 504.7h.9v.9h-.9zM255.4 492.2h.9v.9h-.9zM252.5 493.6h.9v.9h-.9zM257.6 501.9h.9v.9h-.9zM248.4 491.8h.9v.9h-.9zM251.4 494.5h.9v.9h-.9zM251.0 503.3h.9v.9h-.9zM249.2 501.8h.9v.9h-.9zM248.2 493.4h.9v.9h-.9z" fill="#4a64ff" fill-opacity="0.8"/>
<path d="M257.0 485.4h.8v.8h-.8zM251.0 486.1h.8v.8h-.8zM257.2 485.6h.8v.8h-.8zM252.9 487.4h.8v.8h-.8zM254.0 487.5h.8v.8h-.8zM252.2 489.3h.8v.8h-.8zM251.6 487.9h.8v.8h-.8zM255.7 486.0h.8v.8h-.8zM249.9 489.3h.8v.8h-.8zM252.4 489.3h.8v.8h-.8zM249.7 485.5h.8v.8h-.8zM252.3 486.2h.8v.8h-.8zM254.8 490.5h.8v.8h-.8zM249.1 488.9h.8v.8h-.8zM254.2 485.9h.8v.8h-.8zM255.1 486.5h.8v.8h-.8zM256.2 484.8h.8v.8h-.8zM254.9 488.0h.8v.8h-.8zM251.3 486.5h.8v.8h-.8zM248.7 488.7h.8v.8h-.8zM254.3 485.6h.8v.8h-.8zM255.4 486.9h.8v.8h-.8zM252.1 489.1h.8v.8h-.8zM252.8 488.3h.8v.8h-.8zM250.6 486.7h.8v.8h-.8z" fill="#8090ff" fill-opacity="0.8"/>
<rect x="247.4" y="506.8" width="11.7" height="9" rx="3" ry="3" fill="url(#blobC)" filter="url(#soft)"/>
<text x="37.4" y="545" font-size="8.3" text-anchor="start" fill="#2a2a2a" >CD4, FOXP3 subset</text>
<text x="74.6" y="554.6" font-size="8.2" text-anchor="middle" fill="#2a2a2a" >20.1</text>
<rect x="65.2" y="563" width="20.5" height="31.3" fill="none" stroke="#555555" stroke-width="1.1"/>
<path d="M70.5,599.8 L70.3,573.9 L72.6,571.2 L75.7,570.4 L77.8,572.4 L78.3,573.9 L78.7,576.1 L80.1,578.3 L79.3,580.5 L80.0,582.7 L80.4,584.9 L79.7,587.1 L79.6,589.3 L80.4,591.5 L79.5,593.7 L78.9,595.9 L79.6,598.1 L80.0,599.8Z" fill="#1a30ff" filter="url(#soft)"/>
<path d="M71.5 596.2h.9v.9h-.9zM73.2 579.6h.9v.9h-.9zM76.1 591.1h.9v.9h-.9zM79.2 591.3h.9v.9h-.9zM70.3 588.2h.9v.9h-.9zM70.2 588.4h.9v.9h-.9zM74.5 582.9h.9v.9h-.9zM71.2 597.6h.9v.9h-.9zM76.2 589.5h.9v.9h-.9zM75.8 572.1h.9v.9h-.9zM71.4 597.3h.9v.9h-.9zM75.0 581.1h.9v.9h-.9zM75.2 586.6h.9v.9h-.9zM70.3 589.1h.9v.9h-.9zM71.4 579.2h.9v.9h-.9zM79.6 596.9h.9v.9h-.9zM79.2 589.7h.9v.9h-.9zM78.7 587.3h.9v.9h-.9zM79.6 579.0h.9v.9h-.9zM73.6 587.6h.9v.9h-.9zM77.9 576.9h.9v.9h-.9zM74.4 582.4h.9v.9h-.9zM71.6 592.6h.9v.9h-.9zM71.0 576.8h.9v.9h-.9zM77.9 582.3h.9v.9h-.9zM76.9 591.2h.9v.9h-.9zM71.8 596.7h.9v.9h-.9zM73.5 585.1h.9v.9h-.9zM70.5 575.1h.9v.9h-.9zM70.3 596.0h.9v.9h-.9zM77.9 580.0h.9v.9h-.9zM77.5 593.3h.9v.9h-.9zM71.7 591.2h.9v.9h-.9zM74.7 584.2h.9v.9h-.9zM78.8 589.2h.9v.9h-.9zM77.6 579.9h.9v.9h-.9zM78.1 589.2h.9v.9h-.9zM79.2 595.1h.9v.9h-.9zM73.5 581.2h.9v.9h-.9zM73.6 576.7h.9v.9h-.9zM77.4 590.2h.9v.9h-.9zM77.1 594.5h.9v.9h-.9zM74.6 587.2h.9v.9h-.9zM77.9 592.1h.9v.9h-.9zM71.8 595.3h.9v.9h-.9zM73.7 589.1h.9v.9h-.9zM77.3 586.7h.9v.9h-.9zM70.1 578.4h.9v.9h-.9zM79.7 581.3h.9v.9h-.9zM79.2 582.9h.9v.9h-.9zM74.2 580.7h.9v.9h-.9zM71.6 595.7h.9v.9h-.9zM70.7 593.7h.9v.9h-.9zM79.2 585.8h.9v.9h-.9zM73.8 594.4h.9v.9h-.9zM77.5 592.1h.9v.9h-.9zM76.3 593.8h.9v.9h-.9zM76.5 590.6h.9v.9h-.9zM76.9 591.3h.9v.9h-.9zM75.3 575.9h.9v.9h-.9zM75.9 590.3h.9v.9h-.9zM70.4 581.0h.9v.9h-.9zM76.6 591.6h.9v.9h-.9zM73.5 586.3h.9v.9h-.9zM75.9 595.0h.9v.9h-.9zM78.3 592.1h.9v.9h-.9zM73.1 593.6h.9v.9h-.9zM77.8 573.8h.9v.9h-.9zM72.9 575.5h.9v.9h-.9zM72.9 585.3h.9v.9h-.9zM77.1 586.5h.9v.9h-.9zM73.2 593.7h.9v.9h-.9zM71.0 572.4h.9v.9h-.9zM74.9 588.5h.9v.9h-.9zM77.8 595.9h.9v.9h-.9zM75.3 586.1h.9v.9h-.9zM74.3 580.2h.9v.9h-.9zM74.7 576.0h.9v.9h-.9zM75.9 573.8h.9v.9h-.9zM74.8 574.0h.9v.9h-.9zM76.2 577.3h.9v.9h-.9zM75.5 583.9h.9v.9h-.9zM78.3 596.6h.9v.9h-.9zM74.5 581.5h.9v.9h-.9zM76.2 590.5h.9v.9h-.9zM73.9 573.4h.9v.9h-.9zM78.8 584.3h.9v.9h-.9zM75.9 577.6h.9v.9h-.9zM79.3 597.0h.9v.9h-.9zM73.6 584.2h.9v.9h-.9zM78.6 596.4h.9v.9h-.9zM77.4 596.6h.9v.9h-.9zM76.5 573.6h.9v.9h-.9zM72.3 593.8h.9v.9h-.9zM71.6 583.0h.9v.9h-.9zM73.3 572.4h.9v.9h-.9zM73.8 589.4h.9v.9h-.9zM75.2 571.2h.9v.9h-.9zM78.1 580.7h.9v.9h-.9zM74.0 575.0h.9v.9h-.9zM77.9 597.8h.9v.9h-.9zM78.6 590.7h.9v.9h-.9zM79.1 587.7h.9v.9h-.9zM78.7 583.9h.9v.9h-.9zM75.5 587.0h.9v.9h-.9zM78.3 595.0h.9v.9h-.9zM74.8 571.8h.9v.9h-.9zM72.6 581.1h.9v.9h-.9zM75.1 577.8h.9v.9h-.9zM73.5 579.2h.9v.9h-.9zM74.3 589.5h.9v.9h-.9zM72.8 590.9h.9v.9h-.9zM79.5 582.2h.9v.9h-.9zM76.2 586.9h.9v.9h-.9zM73.6 572.3h.9v.9h-.9z" fill="#0a1ad0" fill-opacity="0.8"/>
<path d="M72.7 583.9h.9v.9h-.9zM76.9 582.1h.9v.9h-.9zM73.9 578.8h.9v.9h-.9zM72.9 578.5h.9v.9h-.9zM74.6 577.1h.9v.9h-.9zM71.7 574.7h.9v.9h-.9zM78.5 572.0h.9v.9h-.9zM70.3 587.5h.9v.9h-.9zM77.2 571.0h.9v.9h-.9zM72.2 580.7h.9v.9h-.9zM79.3 595.6h.9v.9h-.9zM70.2 592.2h.9v.9h-.9zM75.6 594.9h.9v.9h-.9zM75.1 578.5h.9v.9h-.9zM72.0 587.5h.9v.9h-.9zM76.2 597.3h.9v.9h-.9zM75.9 581.2h.9v.9h-.9zM73.3 588.4h.9v.9h-.9zM76.4 585.0h.9v.9h-.9zM75.5 592.2h.9v.9h-.9zM71.9 596.3h.9v.9h-.9zM75.7 585.7h.9v.9h-.9zM79.5 571.1h.9v.9h-.9zM71.6 593.1h.9v.9h-.9zM75.2 578.1h.9v.9h-.9zM73.2 572.9h.9v.9h-.9zM79.1 572.7h.9v.9h-.9zM74.0 573.5h.9v.9h-.9zM70.4 594.5h.9v.9h-.9zM73.2 583.1h.9v.9h-.9zM70.9 595.1h.9v.9h-.9zM76.8 591.5h.9v.9h-.9zM70.6 584.0h.9v.9h-.9zM74.0 588.0h.9v.9h-.9zM71.1 574.1h.9v.9h-.9zM79.6 582.0h.9v.9h-.9zM75.3 579.5h.9v.9h-.9zM78.5 573.3h.9v.9h-.9zM75.4 584.5h.9v.9h-.9zM77.3 585.9h.9v.9h-.9zM77.0 576.7h.9v.9h-.9zM78.4 573.6h.9v.9h-.9zM73.4 579.4h.9v.9h-.9zM78.2 574.7h.9v.9h-.9zM77.7 572.9h.9v.9h-.9z" fill="#4a64ff" fill-opacity="0.8"/>
<path d="M73.7 569.6h.8v.8h-.8zM72.0 570.6h.8v.8h-.8zM75.6 574.7h.8v.8h-.8zM74.8 569.6h.8v.8h-.8zM78.0 574.4h.8v.8h-.8zM72.5 571.3h.8v.8h-.8zM74.4 573.7h.8v.8h-.8zM78.0 570.7h.8v.8h-.8zM74.2 570.8h.8v.8h-.8zM77.4 570.2h.8v.8h-.8zM71.3 574.1h.8v.8h-.8zM78.6 574.4h.8v.8h-.8zM73.9 572.2h.8v.8h-.8zM71.5 572.5h.8v.8h-.8zM73.5 574.7h.8v.8h-.8zM76.4 569.1h.8v.8h-.8zM72.4 574.6h.8v.8h-.8zM73.4 574.4h.8v.8h-.8zM76.8 572.1h.8v.8h-.8zM73.7 573.7h.8v.8h-.8zM71.8 574.1h.8v.8h-.8zM76.2 574.3h.8v.8h-.8zM76.0 571.3h.8v.8h-.8zM71.5 571.6h.8v.8h-.8zM78.2 573.7h.8v.8h-.8z" fill="#8090ff" fill-opacity="0.8"/>
<rect x="69.9" y="594.8" width="10.8" height="9" rx="3" ry="3" fill="url(#blobC)" filter="url(#soft)"/>
<text x="125.2" y="545" font-size="8.3" text-anchor="start" fill="#2a2a2a" >CD4, FOXP3 subset</text>
<text x="162.4" y="554.6" font-size="8.2" text-anchor="middle" fill="#2a2a2a" >14.3</text>
<rect x="153.2" y="563" width="20.5" height="31.3" fill="none" stroke="#666666" stroke-width="1.1"/>
<path d="M158.5,599.8 L158.3,575.7 L160.7,573.0 L163.7,572.2 L165.8,574.2 L166.9,575.7 L167.8,577.9 L167.2,580.1 L167.3,582.3 L167.9,584.5 L168.5,586.7 L168.6,588.9 L167.3,591.1 L167.7,593.3 L167.1,595.5 L168.0,597.7 L168.0,599.8Z" fill="#1a30ff" filter="url(#soft)"/>
<path d="M158.2 576.7h.9v.9h-.9zM165.3 593.8h.9v.9h-.9zM164.0 595.9h.9v.9h-.9zM164.5 575.6h.9v.9h-.9zM162.5 591.6h.9v.9h-.9zM167.6 589.2h.9v.9h-.9zM166.1 584.6h.9v.9h-.9zM158.9 590.2h.9v.9h-.9zM159.4 583.0h.9v.9h-.9zM162.5 576.9h.9v.9h-.9zM163.4 586.5h.9v.9h-.9zM164.1 586.5h.9v.9h-.9zM165.9 589.8h.9v.9h-.9zM158.6 594.8h.9v.9h-.9zM166.8 585.9h.9v.9h-.9zM164.1 596.0h.9v.9h-.9zM162.0 590.6h.9v.9h-.9zM158.9 574.0h.9v.9h-.9zM160.0 591.8h.9v.9h-.9zM160.6 576.3h.9v.9h-.9zM158.5 586.9h.9v.9h-.9zM162.8 590.3h.9v.9h-.9zM158.6 595.3h.9v.9h-.9zM160.8 591.7h.9v.9h-.9zM163.9 586.6h.9v.9h-.9zM158.8 573.0h.9v.9h-.9zM167.0 575.1h.9v.9h-.9zM164.9 595.8h.9v.9h-.9zM162.1 590.6h.9v.9h-.9zM165.3 586.8h.9v.9h-.9zM164.8 578.8h.9v.9h-.9zM165.7 594.9h.9v.9h-.9zM161.3 579.2h.9v.9h-.9zM162.1 592.9h.9v.9h-.9zM163.1 578.1h.9v.9h-.9zM159.8 597.7h.9v.9h-.9zM164.7 586.4h.9v.9h-.9zM167.2 584.6h.9v.9h-.9zM161.6 586.6h.9v.9h-.9zM166.8 584.9h.9v.9h-.9zM167.5 596.9h.9v.9h-.9zM162.8 581.5h.9v.9h-.9zM161.1 586.2h.9v.9h-.9zM165.0 582.9h.9v.9h-.9zM158.3 574.9h.9v.9h-.9zM166.0 577.6h.9v.9h-.9zM166.0 574.7h.9v.9h-.9zM163.9 583.5h.9v.9h-.9zM163.7 576.5h.9v.9h-.9zM165.4 594.8h.9v.9h-.9zM160.9 590.5h.9v.9h-.9zM165.0 583.7h.9v.9h-.9zM165.0 579.3h.9v.9h-.9zM166.3 573.9h.9v.9h-.9zM161.6 586.7h.9v.9h-.9zM159.6 590.4h.9v.9h-.9zM165.3 577.8h.9v.9h-.9zM161.5 589.2h.9v.9h-.9zM161.0 578.7h.9v.9h-.9zM165.7 584.4h.9v.9h-.9zM165.2 593.4h.9v.9h-.9zM161.0 590.1h.9v.9h-.9zM163.2 583.3h.9v.9h-.9zM166.9 590.6h.9v.9h-.9zM161.4 589.8h.9v.9h-.9zM165.1 579.1h.9v.9h-.9zM166.4 583.8h.9v.9h-.9zM162.0 573.3h.9v.9h-.9zM163.5 585.4h.9v.9h-.9zM163.3 582.8h.9v.9h-.9zM159.6 573.7h.9v.9h-.9zM160.7 587.3h.9v.9h-.9zM166.3 591.4h.9v.9h-.9zM158.2 591.8h.9v.9h-.9zM160.3 575.4h.9v.9h-.9zM165.3 572.8h.9v.9h-.9zM163.3 593.2h.9v.9h-.9zM166.7 583.9h.9v.9h-.9zM158.8 584.7h.9v.9h-.9zM160.8 578.2h.9v.9h-.9zM165.0 575.9h.9v.9h-.9zM166.4 583.2h.9v.9h-.9zM161.9 586.6h.9v.9h-.9zM164.1 578.6h.9v.9h-.9zM162.6 581.1h.9v.9h-.9zM167.7 583.9h.9v.9h-.9zM159.7 585.5h.9v.9h-.9zM160.3 578.3h.9v.9h-.9zM164.4 588.8h.9v.9h-.9zM165.6 575.8h.9v.9h-.9zM167.4 582.4h.9v.9h-.9zM161.7 580.2h.9v.9h-.9zM163.9 593.6h.9v.9h-.9zM159.4 583.3h.9v.9h-.9zM162.1 595.2h.9v.9h-.9zM162.4 575.9h.9v.9h-.9zM162.4 584.5h.9v.9h-.9zM165.0 596.0h.9v.9h-.9zM158.6 595.2h.9v.9h-.9zM162.3 578.7h.9v.9h-.9zM162.3 591.4h.9v.9h-.9zM158.4 578.1h.9v.9h-.9zM165.3 579.6h.9v.9h-.9zM159.1 585.7h.9v.9h-.9zM161.5 586.1h.9v.9h-.9zM162.6 574.8h.9v.9h-.9zM162.0 573.0h.9v.9h-.9zM162.3 593.2h.9v.9h-.9zM164.9 573.1h.9v.9h-.9z" fill="#0a1ad0" fill-opacity="0.8"/>
<path d="M159.2 585.4h.9v.9h-.9zM165.5 586.9h.9v.9h-.9zM166.9 576.8h.9v.9h-.9zM160.2 590.9h.9v.9h-.9zM164.2 575.4h.9v.9h-.9zM165.5 577.6h.9v.9h-.9zM161.9 588.3h.9v.9h-.9zM165.4 585.8h.9v.9h-.9zM161.2 577.6h.9v.9h-.9zM165.7 591.2h.9v.9h-.9zM161.5 577.1h.9v.9h-.9zM162.6 590.0h.9v.9h-.9zM167.6 595.8h.9v.9h-.9zM162.2 583.4h.9v.9h-.9zM166.9 591.8h.9v.9h-.9zM165.5 591.2h.9v.9h-.9zM163.7 596.7h.9v.9h-.9zM163.6 573.9h.9v.9h-.9zM164.3 584.9h.9v.9h-.9zM161.8 587.7h.9v.9h-.9zM161.3 579.7h.9v.9h-.9zM164.6 595.1h.9v.9h-.9zM164.6 573.0h.9v.9h-.9zM166.1 575.2h.9v.9h-.9zM159.8 584.4h.9v.9h-.9zM161.5 574.1h.9v.9h-.9zM159.0 595.4h.9v.9h-.9zM160.0 596.7h.9v.9h-.9zM158.8 580.6h.9v.9h-.9zM164.8 580.8h.9v.9h-.9zM164.8 581.3h.9v.9h-.9zM165.9 594.8h.9v.9h-.9zM164.6 577.0h.9v.9h-.9zM163.7 575.2h.9v.9h-.9zM159.1 591.1h.9v.9h-.9zM161.4 573.7h.9v.9h-.9zM165.2 585.8h.9v.9h-.9zM159.8 589.8h.9v.9h-.9zM163.4 581.3h.9v.9h-.9zM159.5 588.2h.9v.9h-.9zM160.4 583.6h.9v.9h-.9zM167.7 580.7h.9v.9h-.9zM162.3 589.6h.9v.9h-.9zM160.5 582.7h.9v.9h-.9zM161.0 588.2h.9v.9h-.9zM158.7 590.3h.9v.9h-.9zM164.4 578.3h.9v.9h-.9zM158.3 592.7h.9v.9h-.9zM162.6 574.1h.9v.9h-.9zM163.9 592.1h.9v.9h-.9zM163.0 576.0h.9v.9h-.9z" fill="#4a64ff" fill-opacity="0.8"/>
<path d="M159.4 576.0h.8v.8h-.8zM164.2 572.4h.8v.8h-.8zM159.4 573.7h.8v.8h-.8zM167.0 572.7h.8v.8h-.8zM163.5 575.9h.8v.8h-.8zM159.9 571.7h.8v.8h-.8zM165.8 572.1h.8v.8h-.8zM160.0 575.5h.8v.8h-.8zM165.8 571.3h.8v.8h-.8zM162.1 575.1h.8v.8h-.8zM160.9 575.0h.8v.8h-.8zM165.5 572.3h.8v.8h-.8zM160.7 573.3h.8v.8h-.8zM164.8 571.4h.8v.8h-.8zM165.3 574.9h.8v.8h-.8zM160.9 571.1h.8v.8h-.8zM164.3 571.4h.8v.8h-.8zM161.3 571.5h.8v.8h-.8zM159.6 573.3h.8v.8h-.8zM166.8 573.0h.8v.8h-.8zM161.1 576.3h.8v.8h-.8zM162.8 574.1h.8v.8h-.8zM165.2 575.2h.8v.8h-.8zM160.0 574.8h.8v.8h-.8zM167.0 572.8h.8v.8h-.8z" fill="#8090ff" fill-opacity="0.8"/>
<rect x="157.9" y="594.8" width="10.8" height="9" rx="3" ry="3" fill="url(#blobC)" filter="url(#soft)"/>
<text x="216" y="545" font-size="8.3" text-anchor="start" fill="#2a2a2a" >CD4, FOXP3 subset</text>
<text x="253.2" y="554.6" font-size="8.2" text-anchor="middle" fill="#2a2a2a" >13.8</text>
<rect x="244.4" y="563" width="20.2" height="31.8" fill="none" stroke="#777777" stroke-width="1.1"/>
<path d="M249.9,600.3 L249.7,577.1 L251.9,574.4 L254.8,573.6 L256.8,575.6 L257.3,577.1 L258.6,579.3 L259.1,581.5 L259.0,583.7 L258.5,585.9 L259.0,588.1 L258.9,590.3 L259.0,592.5 L258.2,594.7 L258.9,596.9 L258.9,599.1 L258.9,600.3Z" fill="#1a30ff" filter="url(#soft)"/>
<path d="M253.5 581.0h.9v.9h-.9zM256.2 579.8h.9v.9h-.9zM252.8 586.4h.9v.9h-.9zM255.8 581.9h.9v.9h-.9zM251.0 596.5h.9v.9h-.9zM254.4 593.7h.9v.9h-.9zM251.9 590.6h.9v.9h-.9zM258.0 579.9h.9v.9h-.9zM252.4 592.3h.9v.9h-.9zM255.1 598.0h.9v.9h-.9zM257.0 579.6h.9v.9h-.9zM256.5 586.6h.9v.9h-.9zM253.6 581.3h.9v.9h-.9zM250.7 592.2h.9v.9h-.9zM253.1 591.0h.9v.9h-.9zM251.3 597.3h.9v.9h-.9zM256.2 587.0h.9v.9h-.9zM258.4 586.4h.9v.9h-.9zM252.7 584.0h.9v.9h-.9zM254.9 586.1h.9v.9h-.9zM258.1 587.8h.9v.9h-.9zM256.5 586.9h.9v.9h-.9zM254.3 594.4h.9v.9h-.9zM257.1 581.6h.9v.9h-.9zM251.1 592.0h.9v.9h-.9zM257.2 578.4h.9v.9h-.9zM255.8 592.3h.9v.9h-.9zM256.6 581.4h.9v.9h-.9zM254.1 577.9h.9v.9h-.9zM251.5 590.6h.9v.9h-.9zM251.3 582.4h.9v.9h-.9zM253.6 578.5h.9v.9h-.9zM256.2 579.8h.9v.9h-.9zM253.2 583.9h.9v.9h-.9zM249.6 579.3h.9v.9h-.9zM252.2 583.0h.9v.9h-.9zM254.5 583.1h.9v.9h-.9zM257.0 594.1h.9v.9h-.9zM251.6 578.8h.9v.9h-.9zM254.5 589.8h.9v.9h-.9zM253.3 588.8h.9v.9h-.9zM256.5 593.5h.9v.9h-.9zM255.9 577.5h.9v.9h-.9zM249.9 574.8h.9v.9h-.9zM250.6 584.1h.9v.9h-.9zM250.9 584.6h.9v.9h-.9zM250.7 585.4h.9v.9h-.9zM256.0 596.5h.9v.9h-.9zM253.5 584.3h.9v.9h-.9zM255.4 578.2h.9v.9h-.9zM250.8 596.4h.9v.9h-.9zM256.5 578.4h.9v.9h-.9zM250.5 591.7h.9v.9h-.9zM255.3 580.4h.9v.9h-.9zM253.8 575.4h.9v.9h-.9zM255.9 591.1h.9v.9h-.9zM254.7 591.3h.9v.9h-.9zM255.5 585.3h.9v.9h-.9zM255.8 575.1h.9v.9h-.9zM249.9 587.2h.9v.9h-.9zM252.5 581.2h.9v.9h-.9zM256.1 585.7h.9v.9h-.9zM254.3 595.7h.9v.9h-.9zM249.7 583.1h.9v.9h-.9zM253.3 589.0h.9v.9h-.9zM251.6 592.8h.9v.9h-.9zM253.0 592.3h.9v.9h-.9zM251.4 596.4h.9v.9h-.9zM253.1 583.7h.9v.9h-.9zM257.9 582.8h.9v.9h-.9zM252.3 580.3h.9v.9h-.9zM257.9 584.8h.9v.9h-.9zM256.3 586.9h.9v.9h-.9zM249.5 590.0h.9v.9h-.9zM251.6 576.2h.9v.9h-.9zM250.1 585.6h.9v.9h-.9zM257.8 576.3h.9v.9h-.9zM255.7 596.1h.9v.9h-.9zM257.9 591.6h.9v.9h-.9zM255.0 580.1h.9v.9h-.9zM256.6 580.7h.9v.9h-.9zM258.7 582.4h.9v.9h-.9zM251.0 584.9h.9v.9h-.9zM252.1 588.5h.9v.9h-.9zM257.1 577.0h.9v.9h-.9zM252.1 597.4h.9v.9h-.9zM255.7 586.7h.9v.9h-.9zM255.8 593.9h.9v.9h-.9zM252.6 591.2h.9v.9h-.9zM258.1 583.8h.9v.9h-.9zM251.3 584.2h.9v.9h-.9zM254.5 589.1h.9v.9h-.9zM253.7 586.0h.9v.9h-.9zM258.1 593.8h.9v.9h-.9zM254.5 583.0h.9v.9h-.9zM257.5 578.7h.9v.9h-.9zM256.9 584.2h.9v.9h-.9zM250.1 578.7h.9v.9h-.9zM251.6 582.6h.9v.9h-.9zM249.9 575.8h.9v.9h-.9zM252.2 580.9h.9v.9h-.9z" fill="#0a1ad0" fill-opacity="0.8"/>
<path d="M253.4 579.1h.9v.9h-.9zM254.3 590.3h.9v.9h-.9zM253.8 598.2h.9v.9h-.9zM254.5 581.5h.9v.9h-.9zM257.2 584.3h.9v.9h-.9zM256.3 583.3h.9v.9h-.9zM253.6 581.7h.9v.9h-.9zM256.6 574.4h.9v.9h-.9zM250.7 575.7h.9v.9h-.9zM251.5 582.9h.9v.9h-.9zM258.6 591.5h.9v.9h-.9zM252.8 582.9h.9v.9h-.9zM258.3 585.1h.9v.9h-.9zM254.3 590.0h.9v.9h-.9zM251.7 592.5h.9v.9h-.9zM252.1 591.4h.9v.9h-.9zM256.5 583.9h.9v.9h-.9zM255.1 577.6h.9v.9h-.9zM258.5 577.5h.9v.9h-.9zM256.2 579.3h.9v.9h-.9zM250.5 595.0h.9v.9h-.9zM258.0 584.6h.9v.9h-.9zM251.5 584.5h.9v.9h-.9zM256.9 575.8h.9v.9h-.9zM249.7 579.6h.9v.9h-.9zM251.1 589.5h.9v.9h-.9zM250.0 596.4h.9v.9h-.9zM251.8 582.5h.9v.9h-.9zM257.8 581.0h.9v.9h-.9zM249.7 580.0h.9v.9h-.9zM250.7 584.3h.9v.9h-.9zM252.7 596.3h.9v.9h-.9zM258.3 590.0h.9v.9h-.9zM257.3 583.3h.9v.9h-.9zM255.0 587.3h.9v.9h-.9zM257.5 576.9h.9v.9h-.9zM257.1 588.4h.9v.9h-.9zM256.7 581.5h.9v.9h-.9zM253.5 586.3h.9v.9h-.9zM257.3 578.7h.9v.9h-.9zM252.4 582.0h.9v.9h-.9zM250.9 575.5h.9v.9h-.9zM256.8 582.4h.9v.9h-.9zM255.9 581.0h.9v.9h-.9zM250.6 582.9h.9v.9h-.9zM252.1 582.2h.9v.9h-.9zM253.7 598.1h.9v.9h-.9zM256.9 595.8h.9v.9h-.9zM252.4 584.6h.9v.9h-.9zM251.3 580.5h.9v.9h-.9zM256.9 587.2h.9v.9h-.9zM249.8 587.4h.9v.9h-.9zM250.3 592.4h.9v.9h-.9zM253.7 579.6h.9v.9h-.9zM253.1 574.2h.9v.9h-.9zM254.3 576.4h.9v.9h-.9zM252.0 596.7h.9v.9h-.9zM258.3 588.8h.9v.9h-.9zM255.8 591.8h.9v.9h-.9z" fill="#4a64ff" fill-opacity="0.8"/>
<path d="M256.5 575.3h.8v.8h-.8zM258.1 575.1h.8v.8h-.8zM250.6 575.5h.8v.8h-.8zM255.6 575.0h.8v.8h-.8zM255.2 576.0h.8v.8h-.8zM255.9 572.7h.8v.8h-.8zM251.0 572.9h.8v.8h-.8zM254.7 572.3h.8v.8h-.8zM257.7 572.6h.8v.8h-.8zM254.4 573.5h.8v.8h-.8zM250.7 573.8h.8v.8h-.8zM252.9 577.8h.8v.8h-.8zM257.4 575.8h.8v.8h-.8zM251.6 576.8h.8v.8h-.8zM257.5 574.4h.8v.8h-.8zM255.7 574.3h.8v.8h-.8zM256.4 574.8h.8v.8h-.8zM253.5 576.1h.8v.8h-.8zM252.9 577.2h.8v.8h-.8zM255.9 574.0h.8v.8h-.8zM254.2 573.6h.8v.8h-.8zM252.3 576.6h.8v.8h-.8zM254.6 574.1h.8v.8h-.8zM251.6 575.8h.8v.8h-.8zM252.4 573.1h.8v.8h-.8z" fill="#8090ff" fill-opacity="0.8"/>
<rect x="249.3" y="595.3" width="10.3" height="9" rx="3" ry="3" fill="url(#blobC)" filter="url(#soft)"/>
<line x1="22.8" y1="352.6" x2="22.8" y2="626.5" stroke="#000" stroke-width="1.25" />
<line x1="22.2" y1="626.5" x2="300" y2="626.5" stroke="#000" stroke-width="1.25" />
<path d="M16.4,362.4 L22.8,352.3 L28.8,362.4" fill="none" stroke="#000" stroke-width="1.25"/>
<path d="M289.9,620.6 L300.2,626.5 L289.9,632.4" fill="none" stroke="#000" stroke-width="1.25"/>
<text x="71.9" y="350.8" font-size="16" text-anchor="middle" fill="#000" >C</text>
<text x="167.8" y="350.8" font-size="16" text-anchor="middle" fill="#000" >M</text>
<text x="252.6" y="350.8" font-size="16" text-anchor="middle" fill="#000" >S</text>
<text x="300.2" y="405.8" font-size="18.6" text-anchor="start" fill="#000" >d0</text>
<text x="300.2" y="492.6" font-size="18.6" text-anchor="start" fill="#000" >d3</text>
<text x="300.2" y="584.2" font-size="18.6" text-anchor="start" fill="#000" >d7</text>
<text transform="translate(14.6,513.3) rotate(-90)" font-size="18.6">Foxp3</text>
<text x="140" y="644.4" font-size="18" text-anchor="start" fill="#000" >CD4</text>
<line x1="457.5" y1="41.9" x2="457.5" y2="280.6" stroke="#000" stroke-width="1.4" />
<line x1="452.7" y1="276.4" x2="636" y2="276.4" stroke="#000" stroke-width="1.4" />
<line x1="452.7" y1="276.4" x2="457.5" y2="276.4" stroke="#000" stroke-width="1.4" />
<line x1="452.7" y1="237.43" x2="457.5" y2="237.43" stroke="#000" stroke-width="1.4" />
<line x1="452.7" y1="198.47" x2="457.5" y2="198.47" stroke="#000" stroke-width="1.4" />
<line x1="452.7" y1="159.5" x2="457.5" y2="159.5" stroke="#000" stroke-width="1.4" />
<line x1="452.7" y1="120.54" x2="457.5" y2="120.54" stroke="#000" stroke-width="1.4" />
<line x1="452.7" y1="81.57" x2="457.5" y2="81.57" stroke="#000" stroke-width="1.4" />
<line x1="452.7" y1="42.61" x2="457.5" y2="42.61" stroke="#000" stroke-width="1.4" />
<line x1="516.8" y1="276.4" x2="516.8" y2="280.6" stroke="#000" stroke-width="1.4" />
<line x1="576.1" y1="276.4" x2="576.1" y2="280.6" stroke="#000" stroke-width="1.4" />
<line x1="635.3" y1="276.4" x2="635.3" y2="280.6" stroke="#000" stroke-width="1.4" />
<text transform="translate(439.4,281.7) scale(0.91,1)" font-size="16.5" text-anchor="end">0.0</text>
<text transform="translate(439.4,242.73) scale(0.91,1)" font-size="16.5" text-anchor="end">0.5</text>
<text transform="translate(439.4,203.77) scale(0.91,1)" font-size="16.5" text-anchor="end">1.0</text>
<text transform="translate(439.4,164.8) scale(0.91,1)" font-size="16.5" text-anchor="end">1.5</text>
<text transform="translate(439.4,125.84) scale(0.91,1)" font-size="16.5" text-anchor="end">2.0</text>
<text transform="translate(439.4,86.87) scale(0.91,1)" font-size="16.5" text-anchor="end">2.5</text>
<text transform="translate(439.4,47.91) scale(0.91,1)" font-size="16.5" text-anchor="end">3.0</text>
<text x="487.15" y="299.6" font-size="15.3" text-anchor="middle" fill="#000" >d0</text>
<text x="546.45" y="299.6" font-size="15.3" text-anchor="middle" fill="#000" >d3</text>
<text x="605.7" y="299.6" font-size="15.3" text-anchor="middle" fill="#000" >d7</text>
<line x1="487.15" y1="197" x2="487.15" y2="162.4" stroke="#000" stroke-width="1.4" />
<line x1="546.45" y1="195.4" x2="546.45" y2="118.7" stroke="#000" stroke-width="1.4" />
<line x1="605.7" y1="93.7" x2="605.7" y2="77" stroke="#000" stroke-width="1.4" />
<line x1="605.7" y1="156.6" x2="605.7" y2="133" stroke="#000" stroke-width="1.4" />
<line x1="605.7" y1="202.4" x2="605.7" y2="175.7" stroke="#000" stroke-width="1.4" />
<line x1="483.65" y1="162.4" x2="490.65" y2="162.4" stroke="#000" stroke-width="1.4" />
<line x1="483.65" y1="173.8" x2="490.65" y2="173.8" stroke="#000" stroke-width="1.4" />
<line x1="483.65" y1="185.9" x2="490.65" y2="185.9" stroke="#000" stroke-width="1.4" />
<line x1="542.95" y1="118.7" x2="549.95" y2="118.7" stroke="#000" stroke-width="1.4" />
<line x1="542.95" y1="126.7" x2="549.95" y2="126.7" stroke="#000" stroke-width="1.4" />
<line x1="542.95" y1="150.7" x2="549.95" y2="150.7" stroke="#000" stroke-width="1.4" />
<line x1="602.2" y1="77" x2="609.2" y2="77" stroke="#000" stroke-width="1.4" />
<line x1="602.2" y1="133" x2="609.2" y2="133" stroke="#000" stroke-width="1.4" />
<line x1="602.2" y1="175.7" x2="609.2" y2="175.7" stroke="#000" stroke-width="1.4" />
<polyline points="487.15,199.5 546.45,139.5 605.7,93.7" fill="none" stroke="#000" stroke-width="1.5"/>
<polyline points="487.15,208.8 546.45,160 605.7,156.6" fill="none" stroke="#000" stroke-width="1.5"/>
<polyline points="487.15,197 546.45,195.4 605.7,202.4" fill="none" stroke="#000" stroke-width="1.5"/>
<path d="M487.15,195.5 L491.15,199.5 L487.15,203.5 L483.15,199.5Z" fill="#a5a5a5"/>
<path d="M546.45,135.5 L550.45,139.5 L546.45,143.5 L542.45,139.5Z" fill="#a5a5a5"/>
<path d="M605.7,89.7 L609.7,93.7 L605.7,97.7 L601.7,93.7Z" fill="#a5a5a5"/>
<rect x="483.15" y="204.8" width="8" height="8" fill="#f79646"/>
<rect x="542.45" y="156" width="8" height="8" fill="#f79646"/>
<rect x="601.7" y="152.6" width="8" height="8" fill="#f79646"/>
<path d="M487.15,193.3 L491.25,200.6 L483.05,200.6Z" fill="#1eb4ee"/>
<path d="M546.45,191.7 L550.55,199 L542.35,199Z" fill="#1eb4ee"/>
<path d="M605.7,198.7 L609.8,206 L601.6,206Z" fill="#1eb4ee"/>
<text x="545" y="119.5" font-size="13" text-anchor="middle" fill="#000" stroke="#000" stroke-width="0.3">*</text>
<text x="554.8" y="129.5" font-size="13" text-anchor="middle" fill="#000" stroke="#000" stroke-width="0.3">*</text>
<text x="609.1" y="132.5" font-size="13" text-anchor="middle" fill="#000" stroke="#000" stroke-width="0.3">*</text>
<text x="608.1" y="175.2" font-size="13" text-anchor="middle" fill="#000" stroke="#000" stroke-width="0.3">*</text>
<line x1="636.8" y1="45.9" x2="667.7" y2="45.9" stroke="#222" stroke-width="1.5" />
<path d="M652.5,42.3 L656.1,45.9 L652.5,49.5 L648.9,45.9Z" fill="#a5a5a5"/>
<text x="671.5" y="50.5" font-size="15" text-anchor="start" fill="#000" >C</text>
<line x1="636.8" y1="69.9" x2="667.7" y2="69.9" stroke="#222" stroke-width="1.5" />
<rect x="648.5" y="65.9" width="8" height="8" fill="#f79646"/>
<text x="671.5" y="74.5" font-size="15" text-anchor="start" fill="#000" >M</text>
<line x1="636.8" y1="94.2" x2="667.7" y2="94.2" stroke="#222" stroke-width="1.5" />
<path d="M652.5,90.5 L656.5,97.8 L648.5,97.8Z" fill="#1eb4ee"/>
<text x="671.5" y="98.8" font-size="15" text-anchor="start" fill="#000" >S</text>
<text transform="translate(382,171) rotate(-90)" font-size="18.8" text-anchor="middle">Proportion of CD4<tspan font-size="11" dy="-7.5">+</tspan><tspan dy="7.5">IL-17A</tspan><tspan font-size="11" dy="-7.5">+</tspan></text>
<text transform="translate(403.8,171) rotate(-90)" font-size="18.8" text-anchor="middle">cells(%)</text>
<line x1="458.9" y1="361.7" x2="458.9" y2="600.1" stroke="#000" stroke-width="1.4" />
<line x1="454.1" y1="595.9" x2="637.2" y2="595.9" stroke="#000" stroke-width="1.4" />
<line x1="454.1" y1="595.9" x2="458.9" y2="595.9" stroke="#000" stroke-width="1.4" />
<line x1="454.1" y1="549.2" x2="458.9" y2="549.2" stroke="#000" stroke-width="1.4" />
<line x1="454.1" y1="502.5" x2="458.9" y2="502.5" stroke="#000" stroke-width="1.4" />
<line x1="454.1" y1="455.8" x2="458.9" y2="455.8" stroke="#000" stroke-width="1.4" />
<line x1="454.1" y1="409.1" x2="458.9" y2="409.1" stroke="#000" stroke-width="1.4" />
<line x1="454.1" y1="362.4" x2="458.9" y2="362.4" stroke="#000" stroke-width="1.4" />
<line x1="518" y1="595.9" x2="518" y2="600.1" stroke="#000" stroke-width="1.4" />
<line x1="577.3" y1="595.9" x2="577.3" y2="600.1" stroke="#000" stroke-width="1.4" />
<line x1="636.5" y1="595.9" x2="636.5" y2="600.1" stroke="#000" stroke-width="1.4" />
<text transform="translate(440.8,601.2) scale(0.955,1)" font-size="16.5" text-anchor="end">0.0</text>
<text transform="translate(440.8,554.5) scale(0.955,1)" font-size="16.5" text-anchor="end">5.0</text>
<text transform="translate(440.8,507.8) scale(0.955,1)" font-size="16.5" text-anchor="end">10.0</text>
<text transform="translate(440.8,461.1) scale(0.955,1)" font-size="16.5" text-anchor="end">15.0</text>
<text transform="translate(440.8,414.4) scale(0.955,1)" font-size="16.5" text-anchor="end">20.0</text>
<text transform="translate(440.8,367.7) scale(0.955,1)" font-size="16.5" text-anchor="end">25.0</text>
<text x="488.45" y="620" font-size="15.3" text-anchor="middle" fill="#000" >d0</text>
<text x="547.65" y="620" font-size="15.3" text-anchor="middle" fill="#000" >d3</text>
<text x="606.9" y="620" font-size="15.3" text-anchor="middle" fill="#000" >d7</text>
<line x1="488.45" y1="480" x2="488.45" y2="464" stroke="#000" stroke-width="1.4" />
<line x1="547.65" y1="472.2" x2="547.65" y2="388.1" stroke="#000" stroke-width="1.4" />
<line x1="606.9" y1="401.4" x2="606.9" y2="386" stroke="#000" stroke-width="1.4" />
<line x1="606.9" y1="453" x2="606.9" y2="421.8" stroke="#000" stroke-width="1.4" />
<line x1="606.9" y1="481" x2="606.9" y2="459.7" stroke="#000" stroke-width="1.4" />
<line x1="484.95" y1="464" x2="491.95" y2="464" stroke="#000" stroke-width="1.4" />
<line x1="484.95" y1="466.5" x2="491.95" y2="466.5" stroke="#000" stroke-width="1.4" />
<line x1="484.95" y1="474.8" x2="491.95" y2="474.8" stroke="#000" stroke-width="1.4" />
<line x1="544.15" y1="388.1" x2="551.15" y2="388.1" stroke="#000" stroke-width="1.4" />
<line x1="544.15" y1="450.8" x2="551.15" y2="450.8" stroke="#000" stroke-width="1.4" />
<line x1="603.4" y1="386" x2="610.4" y2="386" stroke="#000" stroke-width="1.4" />
<line x1="603.4" y1="421.8" x2="610.4" y2="421.8" stroke="#000" stroke-width="1.4" />
<line x1="603.4" y1="459.7" x2="610.4" y2="459.7" stroke="#000" stroke-width="1.4" />
<polyline points="488.45,489 547.65,414.6 606.9,401.4" fill="none" stroke="#000" stroke-width="1.5"/>
<polyline points="488.45,485.8 547.65,445.3 606.9,453" fill="none" stroke="#000" stroke-width="1.5"/>
<polyline points="488.45,480 547.65,472.2 606.9,481" fill="none" stroke="#000" stroke-width="1.5"/>
<path d="M488.45,485 L492.45,489 L488.45,493 L484.45,489Z" fill="#a5a5a5"/>
<path d="M547.65,410.6 L551.65,414.6 L547.65,418.6 L543.65,414.6Z" fill="#a5a5a5"/>
<path d="M606.9,397.4 L610.9,401.4 L606.9,405.4 L602.9,401.4Z" fill="#a5a5a5"/>
<rect x="484.45" y="481.8" width="8" height="8" fill="#f79646"/>
<rect x="543.65" y="441.3" width="8" height="8" fill="#f79646"/>
<rect x="602.9" y="449" width="8" height="8" fill="#f79646"/>
<path d="M488.45,476.3 L492.55,483.6 L484.35,483.6Z" fill="#1eb4ee"/>
<path d="M547.65,468.5 L551.75,475.8 L543.55,475.8Z" fill="#1eb4ee"/>
<path d="M606.9,477.3 L611,484.6 L602.8,484.6Z" fill="#1eb4ee"/>
<text x="553.3" y="418.1" font-size="13" text-anchor="middle" fill="#000" stroke="#000" stroke-width="0.3">*</text>
<text x="553" y="456.7" font-size="13" text-anchor="middle" fill="#000" stroke="#000" stroke-width="0.3">*</text>
<text x="607.3" y="422" font-size="13" text-anchor="middle" fill="#000" stroke="#000" stroke-width="0.3">*</text>
<text x="611.1" y="465.1" font-size="13" text-anchor="middle" fill="#000" stroke="#000" stroke-width="0.3">*</text>
<text x="618.9" y="463.9" font-size="16" text-anchor="middle" fill="#000" stroke="#000" stroke-width="0.45">#</text>
<line x1="638" y1="369.2" x2="669" y2="369.2" stroke="#222" stroke-width="1.5" />
<path d="M653.9,365.6 L657.5,369.2 L653.9,372.8 L650.3,369.2Z" fill="#a5a5a5"/>
<text x="672.7" y="373.8" font-size="15" text-anchor="start" fill="#000" >C</text>
<line x1="638" y1="393.1" x2="669" y2="393.1" stroke="#222" stroke-width="1.5" />
<rect x="649.9" y="389.1" width="8" height="8" fill="#f79646"/>
<text x="672.7" y="397.7" font-size="15" text-anchor="start" fill="#000" >M</text>
<line x1="638" y1="417.2" x2="669" y2="417.2" stroke="#222" stroke-width="1.5" />
<path d="M653.9,413.5 L657.9,420.8 L649.9,420.8Z" fill="#1eb4ee"/>
<text x="672.7" y="421.8" font-size="15" text-anchor="start" fill="#000" >S</text>
<text transform="translate(382.3,479.2) rotate(-90)" font-size="18.8" text-anchor="middle">Proportion of CD4<tspan font-size="11" dy="-7.5">+</tspan><tspan dy="7.5">Foxp3</tspan><tspan font-size="11" dy="-7.5">+</tspan></text>
<text transform="translate(403.7,479.2) rotate(-90)" font-size="18.8" text-anchor="middle">T cells(%)</text>
</g></svg>
</body></html>
